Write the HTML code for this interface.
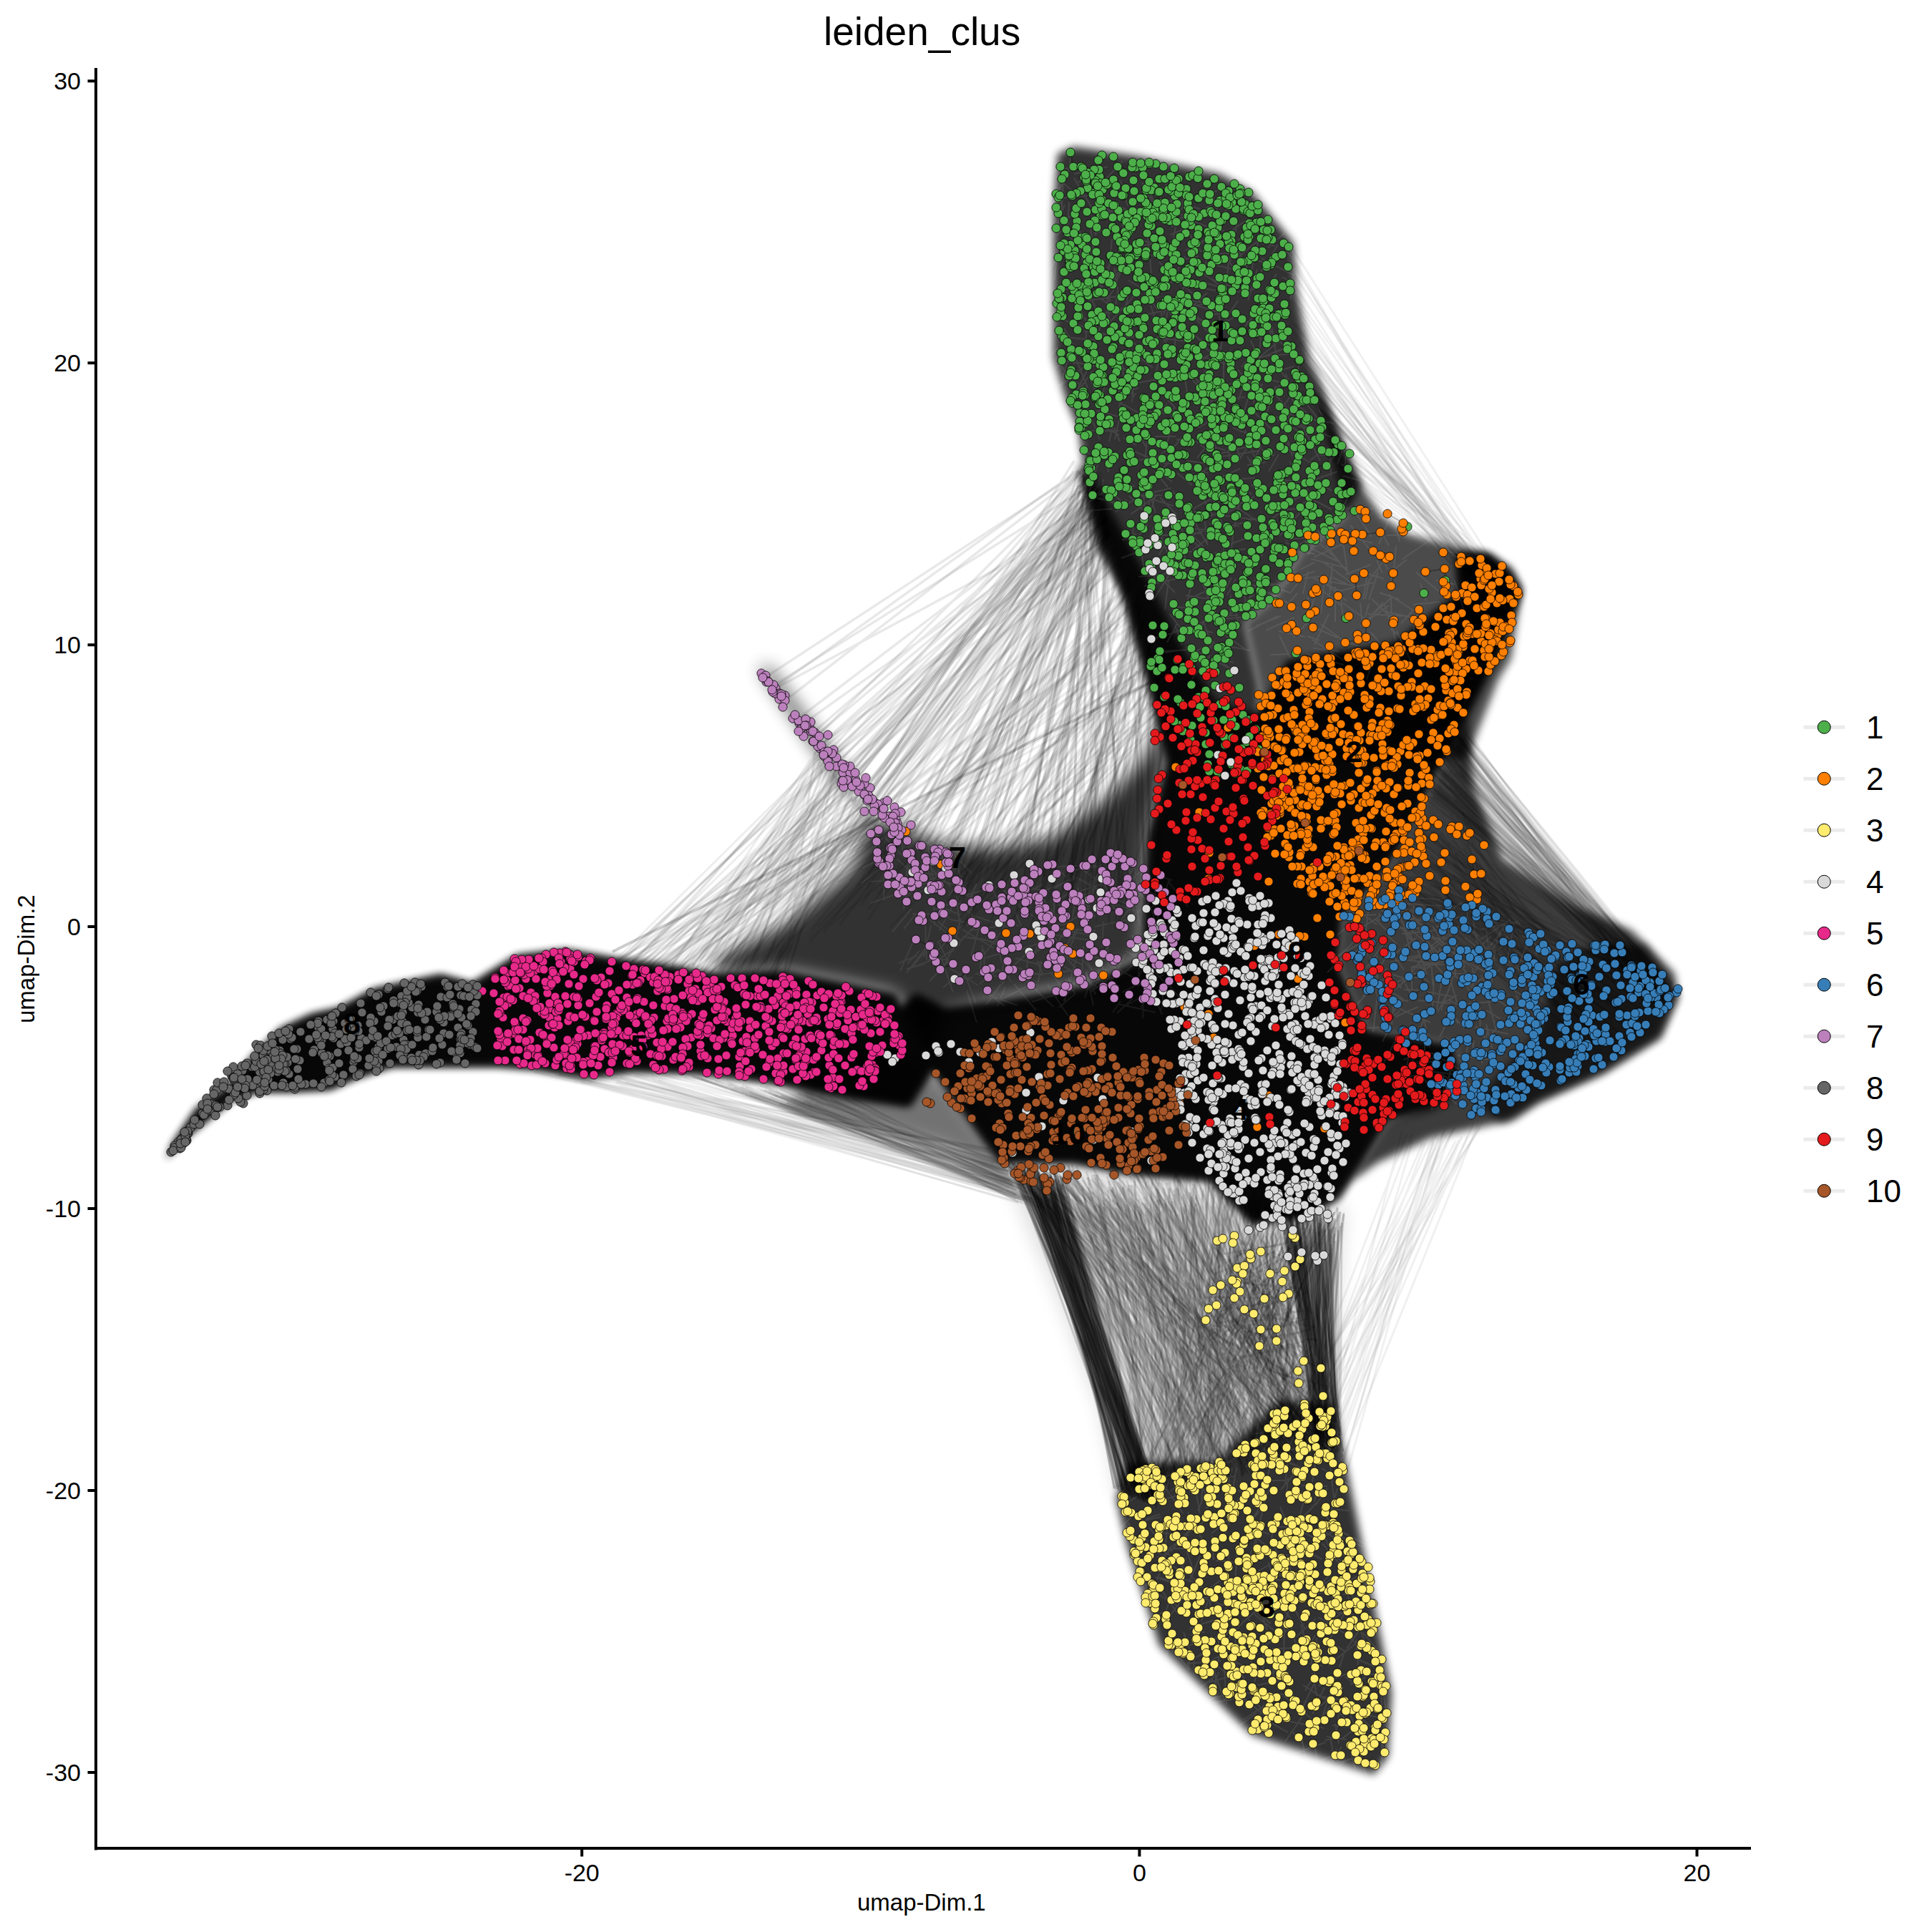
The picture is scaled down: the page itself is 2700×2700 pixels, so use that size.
<!DOCTYPE html><html><head><meta charset="utf-8"><style>html,body{margin:0;padding:0;background:#fff;width:2700px;height:2700px;overflow:hidden}</style></head><body><svg width="2700" height="2700" viewBox="0 0 2700 2700" style="position:absolute;left:0;top:0">
<defs>
<filter id="bl3" x="-10%" y="-10%" width="120%" height="120%"><feGaussianBlur stdDeviation="3"/></filter>
<filter id="bl6" x="-10%" y="-10%" width="120%" height="120%"><feGaussianBlur stdDeviation="6"/></filter>
<filter id="bl12" x="-10%" y="-10%" width="120%" height="120%"><feGaussianBlur stdDeviation="12"/></filter>
<marker id="m1" markerWidth="16" markerHeight="16" refX="8" refY="8" markerUnits="userSpaceOnUse" overflow="visible"><circle cx="8" cy="8" r="6.1" fill="#4DAF4A" stroke="#000" stroke-width="0.8"/></marker>
<marker id="m2" markerWidth="16" markerHeight="16" refX="8" refY="8" markerUnits="userSpaceOnUse" overflow="visible"><circle cx="8" cy="8" r="6.1" fill="#FF7F00" stroke="#000" stroke-width="0.8"/></marker>
<marker id="m3" markerWidth="16" markerHeight="16" refX="8" refY="8" markerUnits="userSpaceOnUse" overflow="visible"><circle cx="8" cy="8" r="6.1" fill="#FFEB6E" stroke="#000" stroke-width="0.8"/></marker>
<marker id="m4" markerWidth="16" markerHeight="16" refX="8" refY="8" markerUnits="userSpaceOnUse" overflow="visible"><circle cx="8" cy="8" r="6.1" fill="#D9D9D9" stroke="#000" stroke-width="0.8"/></marker>
<marker id="m5" markerWidth="16" markerHeight="16" refX="8" refY="8" markerUnits="userSpaceOnUse" overflow="visible"><circle cx="8" cy="8" r="6.1" fill="#E7298A" stroke="#000" stroke-width="0.8"/></marker>
<marker id="m6" markerWidth="16" markerHeight="16" refX="8" refY="8" markerUnits="userSpaceOnUse" overflow="visible"><circle cx="8" cy="8" r="6.1" fill="#377EB8" stroke="#000" stroke-width="0.8"/></marker>
<marker id="m7" markerWidth="16" markerHeight="16" refX="8" refY="8" markerUnits="userSpaceOnUse" overflow="visible"><circle cx="8" cy="8" r="6.1" fill="#BC80BD" stroke="#000" stroke-width="0.8"/></marker>
<marker id="m8" markerWidth="16" markerHeight="16" refX="8" refY="8" markerUnits="userSpaceOnUse" overflow="visible"><circle cx="8" cy="8" r="6.1" fill="#666666" stroke="#000" stroke-width="0.8"/></marker>
<marker id="m9" markerWidth="16" markerHeight="16" refX="8" refY="8" markerUnits="userSpaceOnUse" overflow="visible"><circle cx="8" cy="8" r="6.1" fill="#E41A1C" stroke="#000" stroke-width="0.8"/></marker>
<marker id="m10" markerWidth="16" markerHeight="16" refX="8" refY="8" markerUnits="userSpaceOnUse" overflow="visible"><circle cx="8" cy="8" r="6.1" fill="#A65628" stroke="#000" stroke-width="0.8"/></marker>
</defs>
<g opacity="0.76" filter="url(#bl6)">
<path d="M1875 1280 1920 1235 1960 1180 2000 1095 2050 1000 2060 1100 2100 1200 2200 1265 2280 1300 2340 1360 2345 1395 2320 1450 2240 1500 2150 1540 2115 1565 2000 1590 1925 1625 1890 1650 1900 1630 1940 1565 2050 1525 2030 1460 1910 1440 1870 1350Z" fill="#000"/>
</g>
<g opacity="0.55" filter="url(#bl12)">
<path d="M1150 1460 1270 1470 1330 1520 1390 1600 1420 1660 1330 1610 1200 1570 1100 1545Z" fill="#000"/>
</g>
<g opacity="0.7" filter="url(#bl6)">
<path d="M1830 504 1859 576 1884 638 1902 678 1931 721 1967 746 2033 764 2076 772 2112 793 2127 822 2120 866 2112 920 2094 950 2050 1060 1760 1060 1760 960 1740 870 1780 835 1820 770 1880 720Z" fill="#000"/>
</g>
<g opacity="0.12" filter="url(#bl12)">
<path d="M1398 1625 1500 1625 1575 1640 1690 1650 1750 1710 1825 1700 1870 1675 1880 1700 1862 1966 1860 1970 1562 2095 1537 1974 1478 1815Z" fill="#000"/>
</g>
<g opacity="0.8" filter="url(#bl6)">
<path d="M1478 215 1500 205 1590 218 1705 243 1750 268 1808 340 1812 402 1830 504 1859 576 1884 638 1902 678 1880 720 1820 770 1780 835 1740 870 1760 960 1760 1060 1640 960 1530 760 1507 600 1490 560 1472 500 1472 300Z" fill="#000"/>
<path d="M1560 2095 1575 2045 1700 2040 1790 1955 1865 1965 1900 2140 1945 2365 1940 2455 1920 2480 1750 2425 1620 2300 1575 2160Z" fill="#000"/>
<path d="M1507 650 1540 690 1600 800 1650 900 1700 980 1760 1000 1800 925 1950 900 2040 830 2035 775 2080 775 2110 800 2125 827 2090 920 2050 1000 2000 1095 1960 1180 1920 1235 1875 1280 1870 1350 1910 1440 2030 1460 2050 1525 2000 1550 1940 1565 1900 1630 1870 1675 1825 1700 1750 1710 1690 1650 1575 1640 1500 1625 1398 1625 1303 1494 1250 1420 1280 1390 1319 1410 1398 1399 1517 1379 1596 1340 1606 1169 1632 1066 1606 962 1570 833 1528 729Z" fill="#000"/>
<path d="M232 1620 243 1597 275 1550 318 1520 355 1475 393 1438 436 1418 473 1410 523 1383 573 1372 616 1363 660 1375 722 1336 790 1328 865 1341 933 1350 1001 1362 1094 1358 1194 1378 1250 1390 1303 1494 1271 1546 1194 1535 1132 1523 1070 1512 976 1500 883 1497 821 1506 747 1494 697 1490 622 1490 548 1490 498 1506 461 1522 405 1525 361 1525 324 1537 293 1562 262 1587Z" fill="#000"/>
</g>
<g opacity="0.8" filter="url(#bl12)">
<path d="M1062 934 1075 932 1163 1054 1218 1143 1326 1180 1399 1185 1471 1170 1543 1120 1598 1060 1634 980 1632 1066 1606 1169 1596 1340 1517 1379 1398 1399 1319 1419 1303 1494 1250 1390 1194 1378 1094 1358 1001 1362 1000 1340 1100 1290 1190 1215 1218 1143 1163 1080Z" fill="#000"/>
</g>
<g opacity="0.85" filter="url(#bl6)">
<path d="M1507 650 1540 690 1600 800 1650 900 1700 980 1760 1000 1800 925 1950 900 2040 830 2035 775 2080 775 2110 800 2125 827 2090 920 2050 1000 2000 1095 1960 1180 1920 1235 1875 1280 1870 1350 1910 1440 2030 1460 2050 1525 2000 1550 1940 1565 1900 1630 1870 1675 1825 1700 1750 1710 1690 1650 1575 1640 1500 1625 1398 1625 1303 1494 1250 1420 1280 1390 1319 1410 1398 1399 1517 1379 1596 1340 1606 1169 1632 1066 1606 962 1570 833 1528 729Z" fill="#000"/>
<path d="M232 1620 243 1597 275 1550 318 1520 355 1475 393 1438 436 1418 473 1410 523 1383 573 1372 616 1363 660 1375 722 1336 790 1328 865 1341 933 1350 1001 1362 1094 1358 1194 1378 1250 1390 1303 1494 1271 1546 1194 1535 1132 1523 1070 1512 976 1500 883 1497 821 1506 747 1494 697 1490 622 1490 548 1490 498 1506 461 1522 405 1525 361 1525 324 1537 293 1562 262 1587Z" fill="#000"/>
</g>
<g opacity="0.6" filter="url(#bl6)">
<path d="M2225 1320 2300 1320 2345 1390 2320 1450 2240 1500 2150 1540 2100 1570 2060 1540 2150 1440 2175 1350Z" fill="#000"/>
</g>
<path d="M1891 679l-12 26M1834 750l-38 5M1783 656l23 27M1569 551l-5 19M1812 541l-22 32M1782 551l31 37M1503 500l17 42M1622 529l-32 6M1738 447l25 17M1588 746l-20 9M1796 758l34 14M1634 626l-26 20M1735 531l15 20M1663 715l21 1M1812 675l-3 23M1522 526l21 48M1657 875l21 5M1625 473l36 4M1673 445l29 10M1752 578l-20 6M1573 427l-28 29M1556 540l-23 40M1542 670l-3 22M1608 665l-2 41M1533 440l-1 25M1508 317l5 29M1795 326l-23 20M1642 389l34 29M1548 233l-47 10M1518 462l-1 37M1695 696l-35 19M1723 598l44 17M1661 420l23 3M1729 311l-10 51M1663 305l-14 22M1631 258l17 22M1688 867l-49 16M1691 486l4 26M1727 809l-12 23M1567 573l-9 41M1870 721l-11 31M1631 565l-14 17M1825 614l-19 15M1623 750l12 32M1609 720l-19 32M1677 474l38 25M1767 303l-37 33M1717 366l-6 53M1699 918l27 22M1837 694l-18 11M1837 721l-17 50M1731 434l-38 6M1809 560l-13 38M1727 853l4 23M1699 839l-26 47M1667 908l-44 2M1557 374l6 36M1684 367l47 11M1519 569l18 45M1553 453l41 34M1527 519l-30 40M1720 831l-1 27M1874 648l35 28M1814 616l24 8M1689 780l18 7M1491 507l-8 33M1749 677l28 30M1488 286l-17 46M1570 612l18 10M1833 550l15 33M1629 256l11 30M1635 858l15 20M1582 426l-30 11M1524 317l4 32M1494 282l-2 43M1747 546l-8 28M1618 804l24 24M1639 431l-47 11M1507 338l9 41M1645 750l17 44M1748 476l16 35M1763 428l-30 37M1519 518l-16 32M1719 328l24 46M1818 689l43 23M1608 426l14 45M1745 818l44 0M1486 447l29 10M1727 666l-26 39M1755 531l-50 8M1723 894l-22 27M1799 486l-19 7M1545 291l31 17M1606 784l9 28M1600 255l16 34M1521 273l-48 5M1757 284l-30 3M1789 582l-27 8M1708 483l-30 21M1807 560l40 36M1515 463l49 6M1488 459l1 23M1578 693l26 26M1768 723l-24 4M1485 522l33 21M1584 537l-2 25M1632 754l25 44M1759 336l-30 24M1562 408l-3 18M1651 303l48 18M1503 295l-13 13M1537 601l-49 5M1633 397l-35 6M1517 511l-41 33M1681 867l16 41M1748 861l-44 5M1694 691l15 45M1758 339l-12 52M1643 610l-29 0M1621 453l12 19M1658 743l22 3M1537 602l27 0M1537 305l-6 24M1523 293l46 8M1615 691l-6 21M1752 811l50 17M1573 372l-28 25M1662 343l17 26M1757 403l-52 9M1787 635l-14 24M1666 771l-27 1M1789 341l20 6M1533 387l21 39M1599 408l18 24M1604 331l5 51M1696 918l28 8M1557 587l-7 30M1796 619l25 15M1763 452l-3 44M1580 584l21 40M1706 342l33 22M1632 754l-12 21M1719 489l8 37M1741 767l-43 6M1598 694l5 42M1535 692l-20 24M1629 279l19 12M1600 489l-37 21M1603 617l-3 29M1783 539l-14 42M1623 442l8 35M1652 421l50 15M1764 335l17 9M1573 526l12 29M1512 399l37 26M1490 314l-13 15M1632 435l-4 18M1643 579l-14 47M1620 366l20 23M1561 555l16 20M1769 646l-26 4M1740 555l-53 5M1754 812l35 6M1478 344l-4 47M1859 636l1 29M1786 342l-24 38M1559 559l32 18M1532 574l31 8M1801 529l-40 32M1723 680l11 24M1585 679l-33 11M1742 752l-27 10M1645 784l-19 3M1481 356l-28 40M1634 847l28 3M1734 707l-22 11M1659 270l-16 26M1633 755l5 26M1754 668l-46 3M1561 398l-13 19M1634 280l43 12M1753 694l-43 22M1622 275l3 27M1739 533l-8 26M1724 612l9 27M1743 589l-29 1M1643 316l-8 44M1761 437l20 11M1546 544l42 7M1730 420l-28 44M1580 376l23 21M1576 415l-9 45M1650 748l-32 0M1554 436l-25 2M1687 409l-34 32M1628 807l-20 10M1691 899l-26 15M1684 728l3 31M1741 524l12 40M1633 812l-5 40M1570 413l-50 7M1877 665l28 8M1653 505l6 45M1476 247l26 23M1771 530l31 7M1738 267l-28 31M1625 278l-1 21M1664 339l16 13M1613 341l-26 3M1643 877l9 24M1543 689l-52 5M1697 284l-25 15M1654 653l34 8M1602 673l13 44M1642 716l18 45M1534 390l7 19M1621 695l21 22M1746 533l19 5M1598 250l40 19M1518 392l-41 18M1729 529l15 12M1515 566l-5 20M1666 739l37 3M1587 608l39 10M1759 811l-14 26M1863 734l-41 1M1750 532l-41 16M1622 429l4 28M1566 252l10 36M1612 452l26 41M1547 288l-15 12M1816 503l-4 29M1494 469l7 40M1701 538l6 30M1596 255l27 42M1796 605l10 33M1624 692l-35 0M1696 272l-21 7M1837 586l28 6M1640 570l-7 38M1792 670l47 7M1869 659l-34 12M1701 267l-33 9M1739 822l3 45M1636 643l-14 16M1710 493l0 40M1702 552l-27 28M1691 916l-29 38M1772 733l-9 45M1556 463l47 9M1577 392l42 24M1613 283l16 25M1676 807l12 18M1781 636l-33 7M1649 397l50 9M1534 651l-20 33M1592 292l-52 3M1705 816l-42 21M1687 338l-1 27M1669 793l22 43M1576 335l-29 40M1847 681l-12 24M1663 521l28 29M1845 709l-23 34M1685 333l-13 15M1600 392l-27 36M1515 355l-42 3M1496 472l31 3M1656 358l-20 38M1709 354l30 41M1812 578l-11 25M1658 877l37 7M1792 387l29 18M1531 683l-38 35M1619 357l-41 2M1752 611l-22 35M1757 377l-13 43M1740 601l13 38M1721 904l26 5M1760 630l-53 8M1530 646l-27 25M1547 415l5 50M1666 530l21 24M1519 328l-25 42M1803 645l13 45M1658 722l11 30M1585 357l-29 24M1730 860l-26 1M1857 624l-26 19M1768 826l46 24M1723 748l-4 40M1710 759l1 37M1687 885l5 21M1658 644l52 7M1595 771l4 25M1478 486l-30 33M1732 265l47 20M1636 800l-25 40M1647 808l-48 11M1582 299l0 31M1808 494l-52 5M1753 831l-40 33M1589 691l51 16M1554 688l15 15M1477 501l22 36M1575 699l-21 5M1675 358l-23 5M1801 629l35 20M1511 581l7 22M1743 638l13 21M1617 647l46 2M1797 522l10 40M1524 415l17 38M1801 569l36 30M1770 800l-17 8M1720 453l-16 14M1700 924l19 11M1627 424l15 23M1665 722l23 40M1683 825l16 31M1621 660l17 13M1697 684l-15 14M1548 434l-20 46M1668 906l-40 6M1583 729l1 33M1614 538l29 33M1644 296l29 15M1733 655l-27 12M1511 324l15 28M1554 334l-5 48M1727 708l31 21M1721 364l-20 2M1767 452l31 36M1671 469l22 26M1614 659l18 22M1617 692l-37 27M1562 315l-33 11M1693 390l34 13M1797 593l29 15M1809 512l-25 7M1753 523l12 22M1643 428l-7 18M1479 502l53 10M1496 221l-4 24M1579 494l17 11M1669 802l-12 47M1626 414l1 26M1680 381l26 19M1690 732l42 3M1635 757l7 34M1564 289l7 38M1666 862l32 38M1634 638l-43 5M1547 637l2 23M1568 505l5 48M1578 462l-1 33M1677 621l23 17M1619 721l-18 46M1641 588l-21 6M1487 427l-38 27M1600 267l17 24M1565 545l-28 12M1682 336l-25 14M1785 511l21 31M1791 474l-32 26M1534 649l-12 39M1814 758l-7 18M1692 588l-18 10M1694 271l12 41M1754 777l-19 4M1699 743l-32 26M1554 711l-42 4M1591 542l-42 12M1548 684l-25 17M1553 498l22 21M1721 807l-14 28M1730 517l34 38M1733 677l16 14M1806 482l-47 19M1701 719l51 7M1657 904l29 12M1716 625l3 20M1553 552l-22 14M1645 661l21 17M1525 302l42 4M1599 768l-32 12M1556 463l-29 11M1555 334l19 1M1590 334l43 13M1673 442l23 27M1673 681l22 40M1763 628l18 8M1749 729l-25 4M1585 471l-41 3M1797 350l16 18M1865 635l-21 1M1621 496l-8 37M1746 305l-29 20M1763 361l46 24M1817 593l44 18M1827 683l3 25M1557 597l8 20M1680 566l24 41M1813 646l-16 12M1798 613l18 36M1770 437l6 33M1654 845l20 5M1751 672l16 19M1661 324l13 24M1735 688l-10 49M1709 714l-42 18M1510 433l18 35M1502 526l-44 24M1833 709l-44 4M1639 686l16 23M1531 696l37 8M1667 441l27 29M1646 572l-7 33M1818 738l-18 14M1506 232l-40 9M1607 253l27 2M1638 462l-48 22M1679 498l43 13M1486 251l-3 51M1638 851l25 16M1555 281l35 23M1734 438l-44 25M1644 450l-3 46M1807 770l31 4M1574 362l-18 41M1566 376l-25 43M1490 327l28 27M1660 604l-23 24M1630 802l-39 4M1589 496l22 18M1667 686l25 4M1697 499l-26 40M1653 321l-18 7M1785 587l49 14M1663 611l-19 4M1655 401l-10 15M1569 225l-30 32M1711 887l29 20M1731 356l-49 15M1637 682l-41 10M1724 354l-35 1M1753 361l22 11M1666 292l-29 25M1655 747l24 19M1870 628l-16 25M1657 832l39 6M1545 533l-9 42M1532 695l36 12M1784 383l-12 21M1702 420l-30 7M1751 842l-16 22M1708 476l-6 32M1604 575l34 4M1748 623l-47 12M1539 272l15 32M1704 421l1 51M1746 465l52 11M1487 459l13 22M1696 737l-37 13M1562 329l12 14M1839 671l22 15M1691 598l13 46M1487 251l-20 41M1829 688l-29 15M1821 597l24 47M1673 392l45 13M1697 649l-30 18M1532 591l32 17M1686 322l25 0M1540 225l-33 30M1777 455l7 44M1645 871l-14 27M1751 494l-16 19M1521 578l-13 15M1535 640l-19 36M1803 706l-32 24M1763 623l-14 25M1501 249l28 46M1507 494l-32 20M1659 879l-49 14M1881 630l-1 21M1749 572l30 30M1646 727l36 37M1671 617l41 12M1820 713l-32 36M1586 631l22 10M1840 708l-21 42M1531 336l-16 48M1658 279l-10 19M1705 600l-32 40M1587 697l-29 19M1877 625l-8 24M1819 555l28 37M1807 382l-3 36M1687 674l12 33" stroke="#fff" stroke-opacity="0.09" stroke-width="2" fill="none"/>
<path d="M1750 2356l7 26M1737 2267l-25 28M1722 2275l-35 24M1830 2309l10 41M1702 2181l23 3M1606 2135l26 30M1780 2210l16 14M1800 2065l-2 23M1794 2370l39 32M1663 2226l47 18M1665 2281l19 0M1766 2383l-18 48M1854 2427l28 4M1712 2315l33 17M1597 2196l10 49M1753 2208l48 0M1581 2120l-20 20M1868 2444l-23 39M1742 2080l-20 28M1919 2319l19 17M1920 2422l-23 14M1743 2243l33 26M1844 2131l13 30M1803 2316l-14 46M1781 2161l17 39M1684 2088l-10 23M1796 2326l-32 21M1709 2298l-42 20M1767 2024l-4 22M1869 2080l-8 28M1588 2170l-7 37M1753 2418l-29 2M1789 2106l7 17M1637 2232l-10 25M1848 2016l19 16M1838 2285l-13 24M1730 2366l37 31M1695 2264l-33 12M1781 2125l-4 26M1677 2310l38 29M1648 2185l32 34M1747 2321l21 20M1731 2293l-3 29M1856 1987l25 6M1869 2429l-18 3M1862 2298l19 10M1836 2354l-20 42M1895 2318l26 11M1678 2269l-13 17M1624 2142l21 3M1875 2441l-18 30M1723 2318l16 29M1932 2446l-7 51M1681 2232l-11 20M1726 2274l1 34M1768 2197l-26 31M1759 2127l-4 29M1645 2055l-38 21M1662 2302l-1 32M1753 2256l39 32M1696 2324l5 41M1654 2281l14 40M1905 2282l32 38M1841 2134l35 22M1743 2132l17 32M1711 2362l41 5M1906 2432l-13 25M1900 2449l10 35M1660 2113l23 44M1910 2263l-51 8M1904 2196l-26 33M1848 2157l30 36M1931 2384l-22 13M1706 2321l-47 4M1728 2062l-42 12M1587 2165l52 2M1775 2186l-25 15M1621 2116l-20 7M1599 2158l29 18M1817 1989l-20 42M1841 2014l-39 13M1582 2136l-9 17M1816 2303l-38 1M1878 2256l-21 37M1803 2201l-27 1M1666 2163l-37 2M1898 2294l-42 34M1820 2035l-42 14M1834 2338l8 39M1805 2135l-17 15M1799 2043l-3 32M1728 2365l-37 9M1722 2043l-20 2M1655 2087l-26 8M1866 2409l5 28M1857 2170l30 4M1839 2262l-27 25M1910 2190l34 5M1878 2312l-6 18M1730 2083l32 12M1819 2427l8 44M1839 2289l6 21M1577 2128l19 39M1859 2429l6 30M1861 2199l-36 34M1617 2204l38 10M1725 2236l-25 9M1757 2333l-4 18M1716 2308l-26 14M1765 2288l0 50M1903 2408l-29 23M1881 2251l-40 25M1823 2225l-23 3M1909 2344l-22 10M1779 2331l19 16M1852 2435l-49 18M1617 2175l42 26M1764 2366l23 1M1779 2323l1 25M1677 2175l-15 36M1755 2252l-19 16M1620 2229l35 21M1895 2291l3 36M1716 2258l-21 40M1664 2061l-31 25M1880 2343l34 26M1695 2287l-37 14M1594 2212l22 36M1865 2145l7 30M1878 2358l-34 27M1902 2454l-33 10M1730 2340l-41 11M1664 2294l50 5M1595 2117l11 50M1802 2265l12 45M1705 2209l-15 11M1802 2173l-8 20M1861 2361l-15 43M1756 2394l-27 20M1816 2294l-15 10M1720 2181l-21 0M1719 2348l30 42M1840 2100l-28 30M1731 2264l-26 31M1879 2284l18 14M1663 2221l-29 38M1729 2230l22 45M1616 2212l30 43M1787 2197l23 32M1688 2238l-9 28M1933 2361l5 43M1722 2051l-9 40M1880 2218l6 19M1852 2210l-45 27M1720 2121l-27 22M1683 2126l-34 24M1826 2082l-13 50M1768 1996l-11 17M1788 2011l-29 9M1635 2302l28 31M1615 2204l34 12M1610 2261l-35 23M1911 2226l-17 6M1772 2018l-31 32M1651 2206l18 5M1651 2123l-16 11M1634 2295l-10 52M1865 2202l-35 31M1815 1960l-19 36M1931 2422l1 47M1807 2421l15 18M1798 2172l7 28M1813 2055l-23 27M1625 2253l-24 15M1759 2221l6 21M1851 2358l-17 37M1613 2218l-16 22M1788 1993l-8 29M1627 2181l-10 27M1864 2378l-20 27M1864 2025l-48 5M1855 2080l-16 23M1668 2131l-31 36M1682 2063l-3 33M1669 2059l17 30M1654 2069l-12 32M1929 2338l-24 4M1752 2021l-35 22M1703 2337l-11 29M1819 2076l36 1M1623 2070l30 45M1803 2406l47 9M1729 2164l-3 51M1862 2164l-7 22M1820 2399l-24 35M1858 2040l6 53M1871 2388l-2 43M1854 2225l-20 3M1715 2260l-42 11M1748 2082l18 24M1776 2394l-18 12M1696 2344l-36 29M1811 2129l37 13M1854 2125l-11 31M1801 2154l46 25M1869 2145l36 17M1930 2355l1 29M1768 2096l-8 34M1801 2252l-14 32M1784 1999l-33 5M1605 2208l-6 20M1889 2389l37 34M1842 2260l38 23M1767 2367l42 2M1840 2249l52 8M1899 2395l33 6M1897 2263l39 8M1761 2248l14 43M1725 2107l-15 43M1658 2177l-16 37M1668 2313l1 25M1754 2155l-15 40M1836 2342l-12 21M1823 1978l-19 24M1853 2117l15 30M1806 2133l34 18M1782 2024l-14 51M1864 2218l-4 28M1796 2069l-27 0M1722 2375l-29 5M1755 2149l25 19M1662 2144l-33 23M1769 2386l5 20M1696 2334l16 44M1887 2396l11 28M1711 2221l-30 14M1862 2411l29 3M1847 2052l46 27M1837 2437l8 49M1900 2275l13 34M1848 2371l44 8M1896 2203l-40 23M1911 2262l-29 42M1777 2229l-44 20M1728 2051l-8 47M1867 2209l28 26M1866 2139l-17 9M1718 2170l-6 50M1652 2149l16 46M1882 2339l-40 17M1883 2459l-20 17M1611 2156l26 19M1754 2380l34 25M1773 2183l6 25M1830 2325l18 3M1726 2245l-20 44M1803 2236l21 41M1775 2080l-26 46M1860 2109l25 2M1622 2120l-22 5M1816 1970l-6 48M1631 2136l-4 43M1821 2355l41 26M1669 2073l8 42M1749 2135l-14 29M1716 2057l-31 3M1764 2401l36 20M1634 2168l-33 37M1866 2451l-32 16M1903 2209l37 17M1766 2220l29 9M1694 2146l2 34M1876 2141l37 20M1861 2382l22 24M1797 2042l36 16M1843 2072l-6 27M1838 2046l-4 25M1691 2218l0 34M1872 2016l-16 22M1711 2331l3 51M1818 2270l11 39M1760 2112l-12 14M1882 2386l-26 11M1677 2215l-8 23M1802 2276l-37 26M1773 2224l31 38M1768 2383l-30 20M1795 2271l-1 44M1769 2302l-3 25M1714 2246l-12 52M1704 2315l-11 35M1825 2133l-41 1M1595 2087l-37 26M1813 2084l22 9M1637 2063l-17 39M1702 2095l-17 13M1885 2437l9 36M1860 2171l27 20M1748 2135l26 9M1793 2348l-36 7" stroke="#fff" stroke-opacity="0.09" stroke-width="2" fill="none"/>
<path d="M1936 1383l25 13M1991 1458l0 20M1925 1390l-6 52M2004 1365l-2 45M1973 1350l0 34M1912 1379l-9 18M2052 1459l-5 21M2047 1311l43 32M1980 1310l-37 28M1916 1366l8 23M1901 1372l-20 6M2077 1388l14 51M1948 1400l-3 32M2027 1360l34 2M1957 1441l-23 44M2109 1339l20 4M1983 1335l-40 10M2044 1279l-37 17M1984 1482l0 23M1974 1364l-42 31M2005 1524l-4 27M1977 1250l-2 27M2042 1340l-53 8M1972 1360l-13 14M2022 1489l33 28M1988 1343l6 19M2015 1369l-7 42M1992 1297l-42 0M2106 1289l-26 39M2046 1360l3 18M1961 1397l-25 30M1912 1362l17 29M2002 1294l23 39M1996 1509l40 34M1975 1442l17 9M1992 1312l21 24M2050 1273l2 19M1982 1407l-32 14M1983 1347l11 15M2072 1437l6 37M1930 1273l47 1M2055 1455l17 31M1982 1497l31 42M2015 1483l-18 17M1968 1438l-10 33M2145 1306l2 28M1943 1330l19 25M1970 1270l43 20M1988 1414l10 50M1933 1373l-3 21M1900 1318l12 18M1880 1335l-25 24M1935 1278l40 8M2096 1355l-46 24M1939 1435l-33 2M1962 1383l24 1M1938 1313l-30 41M2068 1407l1 41M1898 1310l-34 34M1958 1277l30 16M2028 1347l-53 3M2077 1392l18 8M2021 1324l40 31M1910 1320l-32 20M2111 1285l-42 28M1993 1332l-27 36M2096 1399l-47 4M1964 1375l12 23M1986 1309l32 3M1923 1278l-21 2M1992 1303l43 24M2029 1490l-8 37M2066 1350l-11 19M1925 1336l-14 39M1939 1306l13 14M2026 1381l-17 34M2077 1412l20 12M2099 1345l34 14M2049 1292l33 40M1938 1354l-36 17M2020 1415l18 15M2095 1286l30 5M2094 1333l41 26M2077 1299l5 42M2090 1327l-10 48M1979 1254l-21 3M1979 1360l19 13M2126 1307l32 19M2039 1294l-40 29M2021 1350l34 35M2118 1391l25 34M2016 1480l32 20M2021 1326l-52 16M2005 1482l-38 13M1980 1484l37 34M1950 1407l49 22M1933 1278l-43 26M2032 1476l-11 42M2015 1501l30 23M1927 1364l-33 8M2107 1308l-10 17M2000 1350l-47 22M1991 1422l-7 17M1986 1496l53 6M1912 1274l-4 34M2111 1380l26 18M2017 1502l2 50M2064 1305l3 30M2079 1441l-9 40M1902 1275l22 17M1920 1355l25 9M1904 1317l-45 24M2043 1262l-25 13M1963 1341l50 7M1943 1433l-11 23M1969 1302l19 41M2033 1301l-41 34M1949 1317l-25 42M1966 1263l48 3M2134 1320l-14 34M1993 1285l50 12M2058 1353l2 47M1925 1390l43 9M1964 1293l26 22M2085 1348l0 31M2116 1290l-9 50M2095 1315l-16 17M1987 1504l-38 15M2121 1288l-52 11M1954 1276l17 37M2077 1431l10 42M1929 1369l-34 36M2096 1337l43 23M1937 1272l33 38M1961 1267l31 31M2002 1482l-4 25M1991 1275l-19 30M2060 1454l-4 25M1982 1298l24 36M2031 1364l-17 48M2041 1335l6 17M2098 1305l-21 21M2069 1362l12 21M1940 1285l-18 1M2021 1473l-33 10M2025 1398l19 9M1919 1255l33 10M1946 1278l50 10M1915 1337l-2 41M2021 1408l25 29M2015 1504l-13 15M1996 1338l31 33M1968 1311l36 14M1891 1292l31 18M2034 1406l-22 43M1986 1472l-25 9M1982 1398l45 4M1924 1287l17 16M2000 1309l16 13M2011 1324l9 20M1989 1501l-51 9M1989 1385l42 8M2061 1435l47 10M2009 1520l21 17M2095 1430l-23 34M1939 1362l20 19M2093 1312l-15 41M2036 1391l-20 11M2027 1482l-3 43M1977 1470l-10 42M1926 1277l27 18M2037 1475l52 7M2059 1285l4 32M1926 1356l40 12M1978 1469l29 4M2092 1396l40 32M2028 1373l8 28M2007 1300l-48 5M1970 1471l-4 18M1956 1413l-25 19M2048 1343l34 19M2039 1343l20 34M1983 1440l-18 8M2075 1316l-32 32M1974 1352l19 1M1941 1365l-19 10M2084 1308l-17 18M1962 1293l8 33M2016 1284l23 44M1962 1366l26 0M2001 1521l23 20M2048 1375l18 10M1965 1254l48 3M1924 1362l6 39M1893 1286l-24 21M2008 1524l53 6M2001 1351l1 26M1960 1254l-35 4M2034 1270l-26 4M2033 1327l1 39" stroke="#fff" stroke-opacity="0.09" stroke-width="2" fill="none"/>
<path d="M1495 1249l36 33M1293 1293l2 49M1359 1250l-2 43M1405 1379l-11 27M1586 1211l-18 26M1403 1356l-40 5M1608 1321l37 6M1306 1270l25 3M1339 1214l10 34M1507 1240l-9 44M1476 1307l48 7M1299 1285l23 18M1398 1304l-22 29M1275 1277l48 1M1295 1242l-21 12M1502 1228l-43 17M1548 1324l1 25M1351 1384l14 45M1504 1356l-26 2M1411 1260l-9 39M1481 1329l24 26M1585 1347l-22 19M1301 1192l-20 25M1530 1205l-12 15M1527 1248l-24 4M1579 1236l19 8M1573 1329l39 22M1254 1201l17 15M1365 1281l23 8M1277 1314l-19 43M1402 1243l24 24M1549 1255l13 22M1499 1224l34 17M1502 1389l-22 19M1609 1259l-25 20M1541 1210l-42 6M1233 1212l-29 22M1462 1302l-8 23M1417 1375l31 37M1386 1267l38 28M1504 1301l-30 44M1433 1334l-19 18M1252 1190l-47 23M1391 1302l9 44M1573 1333l-21 41M1492 1358l-48 4M1222 1154l-51 13M1518 1357l10 48M1455 1253l19 25M1349 1251l29 10M1532 1210l-54 1M1279 1154l35 31M1308 1179l28 4M1599 1344l35 35M1469 1304l24 32M1462 1290l34 3M1538 1226l26 47M1277 1189l-12 44M1387 1241l20 50M1252 1234l31 13M1578 1200l10 17M1401 1317l9 27M1509 1324l23 42M1506 1227l39 23M1598 1402l-1 21M1455 1343l-4 30M1345 1353l19 49M1403 1341l-4 31M1542 1288l-1 23M1254 1249l-37 13M1598 1239l7 22M1582 1284l-52 11M1467 1296l46 9M1561 1257l23 11M1540 1207l-18 43M1420 1325l-43 14M1298 1185l7 53M1422 1266l23 15M1525 1219l-1 23M1582 1396l-21 20M1373 1321l-4 43M1432 1367l18 10M1563 1403l52 12M1487 1351l19 10M1421 1236l42 10M1404 1370l-26 34M1474 1209l16 17M1292 1175l29 21M1598 1241l20 12M1334 1261l-21 39M1337 1257l-16 26M1303 1216l15 11M1522 1372l21 14M1592 1350l-2 26M1351 1354l-33 26M1589 1376l-21 11M1342 1284l-10 46M1617 1401l7 17M1235 1221l0 37M1632 1231l28 36M1396 1354l-27 21M1522 1318l21 18M1516 1252l5 22M1316 1340l16 47M1400 1237l-51 14M1271 1231l19 9M1295 1327l-21 25M1326 1312l-29 31M1303 1227l32 10M1281 1276l-18 22M1388 1364l23 1M1327 1353l40 24M1604 1212l13 45M1270 1198l-5 37M1523 1271l-34 20M1581 1307l22 23M1345 1299l44 26M1492 1385l-50 15M1229 1154l-7 40M1471 1327l41 21M1541 1235l-40 13M1375 1326l1 41M1554 1350l32 17M1472 1250l12 20M1458 1236l-38 17M1347 1293l-37 24M1503 1243l-23 14M1360 1366l-33 4M1276 1244l-13 13M1608 1254l53 2M1608 1267l11 34M1449 1344l24 7M1602 1326l6 34M1585 1240l16 17M1258 1230l-42 2M1303 1169l20 19M1422 1236l7 47M1458 1316l-31 11M1514 1322l-2 43M1337 1252l4 41M1548 1260l45 15M1635 1228l-12 31M1531 1259l9 23M1460 1281l-13 52M1458 1325l-25 11M1310 1172l46 18M1356 1270l-4 24M1342 1319l-37 27M1336 1317l-17 33M1281 1336l-25 10M1512 1341l32 33M1298 1161l14 31M1376 1384l28 22M1312 1317l14 29M1596 1356l-14 25M1483 1261l48 6M1576 1200l7 47M1371 1287l-14 49M1523 1373l-7 22M1373 1312l38 15M1437 1330l-2 24M1509 1361l-23 38M1587 1218l2 30M1607 1371l-13 40M1597 1392l-21 12M1403 1357l10 15M1506 1211l35 24M1361 1296l-36 37M1285 1329l-17 18M1382 1391l40 14M1601 1211l-30 28M1522 1336l39 9M1630 1377l9 33M1536 1262l-2 19M1246 1237l18 17M1305 1262l1 31M1521 1369l10 21M1320 1189l-14 45M1617 1223l21 7M1350 1310l47 7M1302 1342l-25 9M1279 1218l41 6M1419 1339l36 10M1507 1297l-14 32M1293 1325l-26 35M1504 1340l-12 42M1528 1240l-9 49M1326 1343l-27 28M1626 1384l-3 27M1473 1254l0 37M1267 1232l-4 39M1455 1265l33 26M1566 1399l-11 16M1292 1347l-25 7M1399 1294l-44 6M1489 1369l14 20M1627 1256l-28 19M1586 1257l7 37M1298 1211l31 28M1477 1298l54 3M1450 1345l8 18M1546 1354l-21 32M1544 1358l18 23M1337 1237l-11 15M1610 1326l3 31M1419 1275l8 19M1466 1307l5 35M1501 1225l-28 17M1536 1361l28 17M1398 1376l-13 19M1414 1350l42 13M1301 1293l-10 45M1441 1377l31 30M1633 1376l25 29M1293 1200l9 34M1237 1171l28 29M1299 1234l-28 2M1393 1238l-22 2M1228 1173l2 29M1326 1341l-28 0M1327 1189l31 31M1318 1220l-45 26M1274 1270l-27 32M1595 1247l-29 40M1343 1265l28 26M1311 1288l33 27M1578 1355l-42 20M1613 1260l10 42M1315 1268l13 17M1328 1285l41 8M1365 1235l-11 24M1392 1284l16 13M1552 1366l-23 17M1627 1362l-38 16M1313 1266l29 13M1284 1153l46 27M1539 1343l9 36M1345 1263l-29 2M1434 1368l9 18M1464 1376l29 44M1467 1358l25 30M1436 1378l-43 22M1490 1296l-20 38M1494 1366l-6 34M1553 1318l-15 16M1346 1309l31 4M1300 1164l25 13M1260 1172l2 22M1500 1302l38 8M1634 1265l-2 37" stroke="#fff" stroke-opacity="0.07" stroke-width="2" fill="none"/>
<path d="M1855 805l-33 3M1834 807l39 19M1943 879l34 26M1921 765l19 31M1832 916l26 28M1919 814l-47 12M1916 789l-36 14M1851 810l-5 47M1951 763l-3 31M1924 783l8 18M1802 914l-27 1M2033 811l13 43M1846 761l22 20M1862 807l20 9M1862 799l-7 21M2012 841l-37 4M1936 855l47 10M1828 798l-7 32M1850 786l42 31M1986 855l-17 14M1874 897l25 5M1828 834l0 33M1817 805l-20 11M1809 863l-40 18M1834 894l44 29M1913 812l-5 25M1862 790l-4 41M1913 844l-5 18M1987 747l-49 1M1917 837l29 28M1944 866l6 29M1910 807l-5 31M1879 710l39 1M1924 904l-14 46M1919 903l37 12M1888 707l29 43M1901 843l3 31M1873 826l4 38M1934 784l-23 30M1813 829l-15 18M1826 914l20 5M1952 736l4 21M1842 820l32 26M1832 781l51 13M1846 872l36 27M1785 861l-41 21M1827 889l17 6M2015 767l27 7M1866 820l0 49M2015 761l32 28M1835 906l36 4M1998 755l-39 27M1944 837l1 38M1916 884l33 38M1835 876l34 15M1928 738l13 25M1838 798l-34 13M1877 843l34 24M1976 872l-1 29M1816 812l-14 18M1977 851l-19 20M1881 758l-45 21M2021 769l49 12M1985 815l8 25M1833 917l45 12M1926 799l-13 39M1844 810l49 9M1847 811l35 29M1825 763l46 22M2007 811l28 6M1857 858l-20 43M1840 757l-12 19M1935 845l11 36M1842 817l-10 35M1983 750l22 6M1941 831l34 22M1871 747l47 12M1979 800l34 28M1927 723l46 7M1790 861l-35 14M1933 842l-23 26M1848 755l-37 6M1928 828l27 10M1853 762l33 41M1876 753l7 45M1911 858l48 3M1966 782l-22 17M1787 882l37 8M1943 721l-16 39M1842 855l-34 35M1788 888l15 31M1837 786l-20 10M1946 834l-28 25M1895 796l39 13M2022 833l43 6M1789 822l-10 17M1941 846l-40 29M1946 800l-3 21M1952 882l23 49M1887 734l33 41" stroke="#fff" stroke-opacity="0.08" stroke-width="2" fill="none"/>
<path d="M1507 665l-371 370M1528 684l-347 418M1527 676l-449 284M1513 702l-401 305M1532 699l-320 431M1552 747l-407 296M1542 707l-391 356M1543 681l-341 432M1520 685l-320 447" stroke="#000" stroke-opacity="0.09" stroke-width="3.5" fill="none"/>
<path d="M1516 699l-253 454M1530 664l-349 442M1511 676l-363 385M1528 722l-446 241M1516 672l-339 415M1549 752l-376 347M1520 664l-334 439M1510 661l-414 319M1500 658l-294 461" stroke="#000" stroke-opacity="0.09" stroke-width="3.5" fill="none"/>
<path d="M1514 652l-356 415M1530 721l-411 293M1539 689l-394 353M1527 717l-323 403M1530 683l-402 348M1542 729l-351 391M1515 651l-340 450M1524 740l-331 390M1540 680l-385 382" stroke="#000" stroke-opacity="0.09" stroke-width="3.5" fill="none"/>
<path d="M1527 740l-326 400M1528 676l-331 458M1512 706l-331 402M1531 718l-375 348M1522 691l-346 405M1544 722l-312 417M1543 680l-337 455M1547 738l-322 393M1522 664l-285 484" stroke="#000" stroke-opacity="0.09" stroke-width="3.5" fill="none"/>
<path d="M1532 711l-359 366M1528 681l-355 405M1526 658l-336 441M1535 693l-345 429M1519 709l-347 389M1520 652l-451 295M1522 684l-343 406M1521 724l-376 320" stroke="#000" stroke-opacity="0.09" stroke-width="3.5" fill="none"/>
<path d="M1527 701l-308 433M1541 677l-381 401M1507 657l-427 306M1534 740l-354 357M1556 755l-391 330M1549 724l-399 322M1520 694l-300 431M1501 644l-290 470" stroke="#000" stroke-opacity="0.09" stroke-width="3.5" fill="none"/>
<path d="M1511 686l-326 410M1531 728l-366 342M1537 698l-367 393M1510 660l-315 467M1513 662l-302 456M1552 745l-389 314M1537 694l-400 337M1537 681l-358 419" stroke="#000" stroke-opacity="0.09" stroke-width="3.5" fill="none"/>
<path d="M1533 723l-217 509M1542 673l-126 549M1519 680l-6 608M1545 695l-180 539M1534 660l-83 619M1534 742l-165 476M1546 752l-158 513M1546 692l-112 580M1545 721l-21 548" stroke="#000" stroke-opacity="0.09" stroke-width="3.5" fill="none"/>
<path d="M1519 702l-197 487M1538 660l-83 591M1521 677l-147 560M1551 744l-277 447M1545 744l-73 493M1520 672l31 602M1513 705l29 537M1534 745l-204 421M1510 670l-209 521" stroke="#000" stroke-opacity="0.09" stroke-width="3.5" fill="none"/>
<path d="M1509 686l-171 487M1550 715l-215 543M1534 671l-261 489M1528 673l-250 492M1544 749l-123 520M1554 736l-267 431M1547 745l-262 474M1515 665l68 621M1537 698l-245 462" stroke="#000" stroke-opacity="0.09" stroke-width="3.5" fill="none"/>
<path d="M1506 658l-149 584M1525 724l-204 486M1526 688l-52 536M1555 740l-216 509M1545 721l-69 477M1521 680l-217 567M1548 739l-21 491M1548 734l-245 509M1514 664l-17 620" stroke="#000" stroke-opacity="0.09" stroke-width="3.5" fill="none"/>
<path d="M1544 712l-250 456M1533 669l-262 491M1539 670l28 598M1548 725l-30 535M1533 669l-239 502M1514 650l22 604M1539 721l-241 452M1510 677l-80 559M1546 712l-203 499" stroke="#000" stroke-opacity="0.09" stroke-width="3.5" fill="none"/>
<path d="M1523 696l-177 565M1550 733l-182 481M1522 709l-204 501M1515 697l-186 563M1534 666l-103 523M1519 717l-154 503M1516 663l-165 575M1532 686l-29 542M1507 678l-177 562" stroke="#000" stroke-opacity="0.09" stroke-width="3.5" fill="none"/>
<path d="M1548 749l-152 501M1534 722l-73 507M1544 701l-154 521M1544 686l21 605M1541 702l9 591M1550 755l-54 496M1523 692l-130 490M1513 697l-77 493" stroke="#000" stroke-opacity="0.09" stroke-width="3.5" fill="none"/>
<path d="M1515 657l-18 606M1535 721l-76 503M1515 715l-74 495M1522 677l-50 580M1522 737l-235 455M1524 699l1 582M1537 748l-228 455M1530 675l-102 538" stroke="#000" stroke-opacity="0.09" stroke-width="3.5" fill="none"/>
<path d="M1607 965l-6 271M1621 913l-271 327M1597 843l-158 455M1619 933l-22 359M1616 928l-112 306M1584 843l-93 413M1578 804l-121 492M1613 899l-283 280" stroke="#000" stroke-opacity="0.09" stroke-width="3.5" fill="none"/>
<path d="M1606 1000l-264 250M1596 844l-121 433M1588 846l-82 383M1633 996l-285 295M1573 812l-218 470M1601 938l-163 341M1608 902l-3 370M1594 847l-7 438" stroke="#000" stroke-opacity="0.09" stroke-width="3.5" fill="none"/>
<path d="M1590 938l11 317M1566 786l-149 500M1606 867l-173 366M1634 989l-267 272M1619 951l-290 301M1620 991l-250 253M1565 776l-80 421M1582 880l-258 380" stroke="#000" stroke-opacity="0.09" stroke-width="3.5" fill="none"/>
<path d="M1638 997l-73 298M1582 875l-88 361M1600 901l-114 343M1605 982l-195 310M1603 911l-269 298M1635 979l-283 253M1580 875l-191 339M1615 940l-126 322" stroke="#000" stroke-opacity="0.09" stroke-width="3.5" fill="none"/>
<path d="M1592 825l-101 453M1595 829l-107 402M1592 858l-247 438M1603 953l-52 305M1575 835l-25 377M1597 825l-103 396M1611 955l-228 281M1576 838l-44 450" stroke="#000" stroke-opacity="0.09" stroke-width="3.5" fill="none"/>
<path d="M1621 983l-292 249M1588 893l-47 329M1584 868l9 378M1590 890l-59 334M1579 812l-64 470M1611 913l-267 318M1608 901l-148 339M1610 915l-268 367" stroke="#000" stroke-opacity="0.09" stroke-width="3.5" fill="none"/>
<path d="M1612 886l-83 369M1576 848l28 444M1626 960l-10 277M1599 931l-292 252M1623 977l-138 270M1577 810l-166 389M1624 938l-121 265M1584 811l-232 428" stroke="#000" stroke-opacity="0.09" stroke-width="3.5" fill="none"/>
<path d="M1587 842l-96 402M1629 965l-287 255M1598 862l-64 343M1575 822l-176 412M1570 790l-189 507M1590 824l9 399M1603 961l4 284M1603 850l-112 371" stroke="#000" stroke-opacity="0.09" stroke-width="3.5" fill="none"/>
<path d="M1594 868l-96 383M1577 847l-243 393M1580 801l-250 382M1600 959l-141 267M1586 859l-27 439M1598 869l-132 325M1575 848l-7 425M1611 872l-70 404" stroke="#000" stroke-opacity="0.09" stroke-width="3.5" fill="none"/>
<path d="M1590 807l-266 368M1599 938l-34 309M1612 928l-85 313M1600 932l-256 364M1588 922l-140 377M1601 867l-239 408M1615 980l-277 280M1627 976l-23 285" stroke="#000" stroke-opacity="0.09" stroke-width="3.5" fill="none"/>
<path d="M1535 782l-322 504M1572 880l-359 341M1564 872l-336 377M1590 938l-346 358M1560 869l-559 447M1528 724l-324 541M1596 902l-538 379M1527 715l-386 534M1582 874l-488 368" stroke="#000" stroke-opacity="0.07" stroke-width="3.5" fill="none"/>
<path d="M1528 707l-363 501M1508 686l-399 603M1517 718l-306 525M1575 853l-517 475M1586 949l-433 349M1580 850l-521 414M1591 891l-481 368M1557 768l-406 535M1575 832l-385 422" stroke="#000" stroke-opacity="0.07" stroke-width="3.5" fill="none"/>
<path d="M1569 808l-551 505M1551 798l-583 551M1516 680l-375 578M1538 765l-338 412M1530 720l-334 471M1576 867l-373 348M1565 877l-465 408M1558 833l-371 398" stroke="#000" stroke-opacity="0.07" stroke-width="3.5" fill="none"/>
<path d="M1537 774l-467 491M1530 743l-387 474M1566 863l-434 452M1609 953l-403 230M1561 787l-394 399M1549 784l-415 515M1522 702l-424 538M1574 820l-377 418" stroke="#000" stroke-opacity="0.07" stroke-width="3.5" fill="none"/>
<path d="M1553 783l-339 488M1561 767l-450 488M1546 783l-468 535M1521 734l-364 465M1594 915l-467 327M1604 956l-433 277M1536 766l-506 559M1607 931l-518 324" stroke="#000" stroke-opacity="0.07" stroke-width="3.5" fill="none"/>
<path d="M1571 856l-428 439M1572 907l-360 310M1541 793l-367 499M1583 854l-478 460M1582 844l-462 377M1581 945l-476 327M1564 884l-498 386M1508 678l-308 558" stroke="#000" stroke-opacity="0.07" stroke-width="3.5" fill="none"/>
<path d="M1031 1355l184 -230M1005 1370l135 -320M911 1361l319 -228M884 1358l301 -272M948 1357l240 -273M967 1366l175 -317M938 1352l195 -291M889 1341l330 -198M997 1371l195 -258M1057 1360l150 -236" stroke="#000" stroke-opacity="0.07" stroke-width="3" fill="none"/>
<path d="M938 1361l299 -214M1024 1363l192 -220M853 1346l393 -210M993 1362l160 -302M938 1347l225 -290M899 1361l276 -259M1078 1368l126 -267M1040 1373l121 -310M887 1351l266 -307M1047 1366l173 -235" stroke="#000" stroke-opacity="0.07" stroke-width="3" fill="none"/>
<path d="M883 1341l288 -250M1005 1355l156 -271M967 1351l214 -276M1079 1371l118 -253M968 1358l209 -287M1096 1362l43 -311M905 1347l277 -260M885 1354l309 -258M1061 1366l115 -278M1035 1365l156 -251" stroke="#000" stroke-opacity="0.07" stroke-width="3" fill="none"/>
<path d="M962 1362l269 -222M1044 1366l106 -291M1008 1357l174 -249M890 1360l356 -213M987 1357l182 -284M1029 1354l140 -270M885 1343l280 -279M884 1344l325 -214M976 1367l249 -251M961 1351l258 -230" stroke="#000" stroke-opacity="0.07" stroke-width="3" fill="none"/>
<path d="M967 1349l284 -200M978 1351l214 -266M901 1359l325 -205M1075 1369l128 -250M974 1366l254 -236M938 1365l262 -238M855 1359l292 -290M1073 1362l142 -244M959 1367l190 -294M856 1350l302 -280" stroke="#000" stroke-opacity="0.07" stroke-width="3" fill="none"/>
<path d="M988 1370l233 -225M1013 1367l157 -284M868 1341l324 -224M1075 1368l101 -280M1077 1376l90 -290M1037 1371l136 -307M1062 1374l132 -271M855 1351l294 -274M935 1356l297 -217M959 1360l221 -283" stroke="#000" stroke-opacity="0.07" stroke-width="3" fill="none"/>
<path d="M1050 1365l92 -306M1036 1354l113 -276M1075 1372l154 -242M851 1351l294 -291M971 1369l188 -295M939 1355l235 -268M1048 1367l100 -312M979 1367l167 -317M912 1359l325 -222M959 1355l235 -242" stroke="#000" stroke-opacity="0.07" stroke-width="3" fill="none"/>
<path d="M861 1345l335 -244M1094 1370l72 -291M1070 1366l155 -213M999 1367l168 -289M1058 1358l165 -219M899 1350l308 -238M929 1364l307 -209M1097 1374l87 -285M955 1359l218 -287M1015 1359l203 -216" stroke="#000" stroke-opacity="0.07" stroke-width="3" fill="none"/>
<path d="M859 1352l298 -287M895 1344l336 -216M980 1354l190 -267M866 1358l310 -266M1025 1368l192 -240M1063 1370l108 -303M933 1360l217 -293M919 1347l287 -221M914 1356l328 -221M1049 1364l184 -207" stroke="#000" stroke-opacity="0.07" stroke-width="3" fill="none"/>
<path d="M906 1354l326 -217M992 1362l242 -237M877 1350l291 -265M1018 1364l149 -297M952 1352l214 -268M939 1348l208 -283M937 1362l252 -269M850 1357l363 -215M952 1351l251 -224M1098 1364l95 -271" stroke="#000" stroke-opacity="0.07" stroke-width="3" fill="none"/>
<path d="M872 1352l320 -245M953 1357l250 -264M880 1351l274 -302M917 1356l273 -260M934 1349l222 -280M916 1352l291 -233M986 1365l237 -218M949 1352l211 -289M938 1347l246 -240M906 1353l281 -265" stroke="#000" stroke-opacity="0.07" stroke-width="3" fill="none"/>
<path d="M1067 1369l140 -236M885 1351l360 -206M928 1344l289 -212M989 1362l268 -212M885 1361l361 -218M905 1347l277 -262M1082 1359l100 -264M863 1350l360 -209M974 1369l195 -275M914 1363l280 -265" stroke="#000" stroke-opacity="0.07" stroke-width="3" fill="none"/>
<path d="M1838 1685l-242 391M1537 1683l70 389M1541 1673l296 345M1790 1708l-134 339M1569 1657l107 414M1619 1652l189 338M1573 1690l66 363M1818 1683l-75 349M1706 1660l-53 415M1536 1681l297 309M1423 1643l332 405M1801 1682l-224 408M1642 1638l210 341M1698 1686l21 350M1560 1677l100 396M1704 1679l52 343M1722 1705l114 297M1484 1655l327 337M1824 1716l11 264M1852 1689l-6 299M1642 1662l165 364M1653 1681l20 381M1478 1632l146 451M1622 1691l132 341M1757 1691l-150 380M1654 1669l57 392M1663 1683l41 369M1604 1638l205 397M1751 1701l102 333M1611 1677l68 358M1646 1640l51 407M1427 1624l243 430M1587 1643l252 367M1440 1636l408 358M1504 1672l257 349M1420 1637l221 431M1635 1661l-8 412M1553 1662l157 396M1773 1683l-172 392M1833 1712l-97 351M1800 1688l-103 343M1579 1644l261 372M1871 1698l-70 313M1614 1693l31 394M1647 1661l55 372M1533 1642l77 444" stroke="#000" stroke-opacity="0.1" stroke-width="3" fill="none"/>
<path d="M1520 1646l203 393M1553 1688l153 358M1558 1666l239 351M1493 1659l243 372M1435 1656l365 382M1867 1704l-98 324M1782 1676l-97 388M1818 1685l-174 401M1626 1660l62 374M1670 1640l149 378M1841 1714l-49 287M1585 1640l29 432M1812 1699l55 323M1464 1670l256 356M1529 1641l95 425M1411 1629l220 427M1597 1642l146 394M1565 1687l231 324M1449 1637l328 397M1521 1653l289 359M1438 1628l249 408M1641 1644l15 408M1634 1660l-34 419M1672 1683l63 376M1816 1706l-152 352M1655 1686l76 357M1695 1652l124 387M1620 1676l31 388M1468 1668l390 328M1647 1697l175 297M1648 1647l88 417M1581 1690l107 364M1743 1687l-122 388M1526 1672l120 395M1847 1691l-33 298M1486 1642l374 333M1698 1669l-63 388M1501 1668l350 308M1512 1662l118 400M1486 1646l315 399M1433 1635l363 395M1477 1671l201 384M1579 1674l172 339M1547 1644l170 418M1712 1646l-69 422M1544 1685l297 347" stroke="#000" stroke-opacity="0.1" stroke-width="3" fill="none"/>
<path d="M1496 1636l140 454M1575 1663l139 405M1731 1669l88 366M1683 1650l69 400M1604 1692l36 358M1411 1621l444 390M1461 1647l240 405M1483 1648l275 378M1702 1661l117 328M1494 1651l355 384M1696 1646l106 351M1809 1701l-107 354M1671 1682l71 351M1846 1710l-13 283M1476 1676l169 372M1596 1681l266 330M1721 1653l-98 411M1690 1658l-71 420M1725 1702l-52 366M1648 1649l191 372M1782 1694l-34 341M1526 1664l236 372M1797 1671l14 317M1642 1641l147 360M1706 1655l145 369M1669 1657l154 383M1601 1637l225 359M1650 1687l71 341M1493 1630l139 452M1682 1661l-63 429M1734 1701l-64 355M1580 1656l64 422M1436 1632l252 443M1599 1685l191 343M1849 1699l-155 335M1676 1656l174 346M1548 1639l207 393M1617 1665l130 357M1466 1660l223 378M1693 1662l-6 395M1577 1656l19 431M1695 1657l-5 388M1582 1676l166 354M1619 1695l118 360M1530 1684l129 359M1729 1649l87 382" stroke="#000" stroke-opacity="0.1" stroke-width="3" fill="none"/>
<path d="M1616 1671l229 310M1458 1675l299 350M1475 1637l318 377M1584 1636l246 392M1433 1625l365 411M1518 1673l241 334M1488 1683l283 373M1461 1668l252 373M1560 1679l200 336M1609 1687l1 406M1569 1660l166 361M1615 1638l33 449M1719 1695l-2 366M1483 1634l252 412M1639 1679l82 383M1626 1683l178 357M1559 1688l277 315M1481 1634l325 371M1785 1682l71 313M1601 1652l32 416M1511 1680l307 335M1603 1676l150 342M1594 1693l-2 395M1550 1678l181 357M1666 1660l151 365M1505 1650l297 360M1624 1692l35 392M1662 1648l50 385M1627 1684l200 329M1836 1718l-48 297M1633 1690l174 324M1704 1654l159 359M1637 1692l152 351M1483 1657l305 388M1873 1693l-161 367M1716 1682l104 319M1786 1683l31 331M1478 1652l290 369M1517 1664l233 396M1504 1630l214 410M1481 1681l168 381M1772 1696l47 325M1859 1718l-157 310M1680 1641l157 338M1568 1674l94 378M1685 1650l9 385" stroke="#000" stroke-opacity="0.1" stroke-width="3" fill="none"/>
<path d="M1828 1700l-34 349M1753 1669l-134 421M1869 1689l-249 395M1609 1651l232 369M1634 1652l116 400M1677 1660l114 364M1734 1653l-114 426M1672 1680l-95 409M1436 1661l362 335M1637 1678l31 372M1746 1690l67 319M1700 1697l151 308M1816 1701l20 337M1549 1659l260 376M1498 1659l149 422M1651 1672l136 326M1746 1681l92 297M1523 1674l191 382M1755 1699l-170 383M1575 1683l95 360M1490 1638l342 398M1671 1673l147 356M1436 1658l365 387M1441 1666l340 357M1481 1663l275 374M1671 1646l-56 429M1807 1688l-14 315M1747 1684l14 345M1744 1706l110 276M1644 1657l20 394M1502 1649l293 356M1526 1666l338 341M1667 1698l176 313M1466 1654l396 357M1546 1683l216 341M1703 1659l-37 405M1694 1659l15 396M1703 1670l4 359M1741 1693l-4 356M1646 1649l14 430M1847 1718l-211 336M1446 1669l214 378M1861 1691l-248 378M1750 1671l-79 399M1625 1681l119 380M1595 1680l272 339" stroke="#000" stroke-opacity="0.1" stroke-width="3" fill="none"/>
<path d="M1516 1680l171 375M1498 1642l272 377M1763 1692l19 342M1664 1678l36 352M1628 1675l58 397M1775 1682l-29 370M1643 1642l64 387M1753 1674l63 356M1824 1700l-59 312M1720 1648l-40 419M1659 1639l-11 414M1610 1653l171 370M1552 1662l235 368M1604 1650l118 378M1445 1666l246 395M1559 1688l247 343M1809 1711l-156 361M1722 1657l-148 435M1779 1683l0 331M1847 1706l-130 335M1702 1703l-12 354M1520 1645l91 439M1474 1680l256 337M1446 1670l392 333M1607 1659l80 376M1555 1677l303 312M1542 1666l167 386M1690 1649l-32 396M1528 1633l225 427M1755 1677l-135 396M1641 1669l191 343M1536 1652l111 423M1594 1690l94 341M1500 1674l276 357M1438 1638l283 428M1610 1690l162 363M1597 1650l261 368M1714 1666l-41 403M1467 1648l298 386M1576 1661l182 388M1554 1659l269 341M1691 1660l74 377M1516 1675l74 408M1483 1643l223 402M1536 1684l85 393M1724 1648l-22 417" stroke="#000" stroke-opacity="0.1" stroke-width="3" fill="none"/>
<path d="M1788 1683l-199 398M1562 1681l40 407M1865 1694l-152 339M1452 1639l200 424M1447 1671l265 357M1681 1664l-4 399M1690 1642l-26 421M1489 1671l100 408M1455 1662l261 384M1703 1693l-3 350M1782 1690l-33 360M1619 1671l16 416M1659 1691l-8 389M1522 1667l258 346M1777 1705l12 308M1569 1659l88 384M1733 1697l-53 381M1492 1633l300 367M1559 1641l297 351M1731 1677l-40 370M1606 1688l94 349M1799 1705l55 323M1542 1681l265 319M1525 1648l326 339M1542 1687l282 326M1466 1625l235 425M1768 1685l13 357M1842 1694l-69 359M1735 1674l-26 373M1513 1649l254 386M1448 1650l245 387M1776 1688l-194 405M1740 1659l74 359M1769 1692l-92 378M1837 1691l-170 387M1662 1666l43 402M1657 1689l143 304M1717 1646l125 349M1470 1657l372 362M1421 1636l275 403M1553 1640l129 424M1793 1683l-143 404M1669 1674l-19 401M1586 1663l211 365M1586 1650l4 445M1526 1667l217 391" stroke="#000" stroke-opacity="0.1" stroke-width="3" fill="none"/>
<path d="M1674 1641l-36 444M1423 1633l273 421M1795 1673l-61 349M1433 1648l201 432M1745 1664l35 335M1738 1671l45 327M1559 1670l239 366M1709 1680l112 353M1591 1690l59 382M1422 1644l244 438M1710 1652l56 379M1828 1682l-34 354M1555 1662l73 404M1845 1703l-179 377M1436 1658l398 371M1466 1672l173 385M1843 1695l-236 400M1555 1675l245 346M1593 1684l228 348M1568 1650l180 403M1551 1640l299 352M1508 1677l348 351M1762 1680l-81 380M1800 1670l-2 373M1605 1689l105 377M1860 1692l-38 324M1586 1636l149 382M1671 1689l187 334M1717 1659l85 338M1841 1687l-211 390M1719 1665l-75 397M1718 1696l7 351M1769 1671l8 336M1549 1635l229 369M1839 1704l-184 352M1696 1659l9 403M1605 1684l207 360M1434 1648l204 406M1459 1655l223 415M1726 1657l94 375M1566 1657l213 365M1463 1638l240 398M1565 1656l29 421M1861 1704l-7 301M1629 1653l113 360M1476 1668l361 349" stroke="#000" stroke-opacity="0.1" stroke-width="3" fill="none"/>
<path d="M1619 1669l121 391M1526 1642l106 415M1442 1653l395 361M1439 1663l255 380M1409 1630l395 365M1585 1691l135 377M1421 1646l356 379M1819 1693l17 315M1645 1660l182 381M1498 1628l156 435M1617 1691l41 363M1615 1661l211 353M1665 1672l12 375M1764 1685l-148 382M1631 1653l181 381M1505 1649l232 366M1615 1678l53 390M1562 1652l176 410M1644 1660l185 361M1600 1682l54 376M1504 1682l207 376M1498 1677l182 382M1491 1672l326 316M1778 1696l-145 379M1752 1658l32 394M1852 1715l1 260M1441 1652l329 362M1434 1649l268 394M1671 1670l107 347M1860 1700l-238 378M1830 1703l8 323M1574 1650l190 407M1726 1659l-113 433M1487 1644l213 387M1827 1699l-59 306M1849 1719l-25 274M1450 1660l256 383M1546 1675l251 368M1582 1656l127 407M1692 1685l114 315M1711 1684l110 316M1817 1692l-101 369M1842 1688l1 327M1841 1684l-182 374M1592 1689l107 354M1446 1635l252 407" stroke="#000" stroke-opacity="0.1" stroke-width="3" fill="none"/>
<path d="M1628 1682l60 391M1546 1687l255 353M1737 1663l68 327M1539 1649l43 439M1622 1653l178 383M1449 1634l312 409M1531 1646l88 442M1619 1662l80 385M1805 1684l-25 341M1774 1690l-184 387M1709 1648l115 353M1804 1694l-98 370M1859 1698l-140 329M1862 1699l-152 344M1533 1641l37 451M1761 1675l-69 367M1816 1695l-28 310M1533 1643l287 393M1458 1625l377 414M1806 1700l-57 331M1861 1697l-247 367M1777 1703l-81 346M1538 1669l276 350M1672 1689l137 330M1705 1672l-1 392M1446 1655l334 390M1829 1698l-161 361M1709 1687l101 324M1498 1634l125 429M1796 1686l-98 379M1708 1667l-7 380M1590 1633l196 400M1445 1665l232 396M1751 1679l2 345M1713 1648l23 410M1769 1700l-95 363M1463 1660l253 408M1603 1659l257 333M1785 1687l40 337M1662 1667l75 393M1426 1624l415 405M1588 1682l112 368M1567 1691l162 374M1653 1645l120 377M1742 1674l-44 387M1467 1678l145 398" stroke="#000" stroke-opacity="0.1" stroke-width="3" fill="none"/>
<path d="M1644 1697l126 320M1548 1663l62 419M1819 1694l-212 392M1709 1667l-90 414M1497 1675l151 393M1486 1669l178 394M1492 1628l233 438M1518 1637l145 431M1837 1695l-89 356M1825 1682l-62 355M1487 1630l256 413M1486 1646l277 397M1667 1662l-68 430M1810 1689l-169 386M1799 1695l45 298M1591 1638l256 354M1656 1684l-47 398M1554 1663l290 368M1656 1669l132 381M1445 1644l369 369M1522 1669l66 411M1482 1679l320 330M1520 1665l181 404M1521 1659l110 401M1554 1644l248 398M1598 1673l120 351M1433 1633l263 419M1620 1640l-30 452M1580 1680l258 327M1481 1626l191 450M1610 1646l-18 431M1447 1645l377 389M1523 1669l71 425M1593 1687l190 360M1497 1635l194 404M1617 1677l76 389M1555 1659l136 417M1651 1657l172 359M1633 1679l204 357M1785 1707l-34 320M1865 1694l-175 344M1778 1709l3 313M1667 1654l15 387M1432 1640l379 403M1642 1641l212 385" stroke="#000" stroke-opacity="0.1" stroke-width="3" fill="none"/>
<path d="M1668 1686l108 317M1853 1709l-187 335M1757 1689l72 348M1549 1650l99 432M1710 1703l-34 374M1591 1676l63 403M1669 1655l75 388M1795 1672l-123 398M1453 1652l195 411M1774 1689l-26 343M1783 1706l66 286M1817 1672l-28 361M1589 1686l264 341M1494 1662l355 349M1860 1702l8 322M1731 1666l-135 415M1640 1645l97 389M1757 1670l-32 366M1765 1706l-153 374M1775 1693l60 290M1479 1650l367 367M1640 1664l176 329M1638 1674l166 318M1602 1693l-36 395M1633 1670l144 351M1561 1631l98 448M1864 1714l-34 298M1530 1642l174 405M1608 1638l223 375M1542 1677l66 413M1512 1658l102 407M1859 1689l2 341M1448 1631l181 454M1853 1686l-82 318M1712 1702l-24 367M1656 1692l38 338M1422 1624l213 447M1585 1684l54 387M1419 1640l270 429M1636 1683l15 376M1589 1647l215 393M1765 1665l-131 403M1765 1702l-21 336M1844 1687l-100 336M1467 1661l137 424" stroke="#000" stroke-opacity="0.1" stroke-width="3" fill="none"/>
<path d="M1433 1653l173 433M1474 1649l132 454M1475 1674l125 406M1453 1654l119 432M1449 1658l136 428M1468 1643l90 438M1457 1665l152 418M1460 1647l146 427M1469 1689l105 398M1444 1640l172 455M1462 1673l132 394M1440 1653l158 428M1473 1665l132 406M1480 1643l118 451M1439 1638l177 469M1480 1649l116 424M1440 1656l156 415M1466 1664l107 410M1449 1639l140 446" stroke="#000" stroke-opacity="0.16" stroke-width="3" fill="none"/>
<path d="M1457 1645l143 422M1451 1661l154 424M1438 1632l173 440M1420 1634l187 437M1420 1639l173 441M1428 1627l185 465M1449 1637l168 459M1477 1659l134 432M1445 1637l139 440M1456 1659l119 423M1468 1672l99 405M1470 1664l140 400M1430 1648l173 448M1454 1650l119 430M1453 1673l118 408M1448 1671l146 406M1473 1681l121 394M1461 1669l148 410M1473 1675l132 418" stroke="#000" stroke-opacity="0.16" stroke-width="3" fill="none"/>
<path d="M1440 1651l174 448M1457 1646l142 427M1458 1669l126 403M1441 1656l153 429M1460 1660l108 425M1458 1645l121 446M1434 1640l166 456M1457 1652l107 427M1465 1653l122 424M1452 1669l135 423M1435 1632l162 459M1477 1649l122 426M1470 1660l137 420M1456 1680l128 395M1473 1641l138 462M1429 1642l179 454M1446 1636l152 449M1472 1673l131 398M1471 1671l115 418" stroke="#000" stroke-opacity="0.16" stroke-width="3" fill="none"/>
<path d="M1477 1643l80 437M1466 1653l109 433M1449 1639l145 443M1469 1697l138 396M1478 1654l135 436M1446 1668l123 414M1474 1637l140 457M1465 1689l145 388M1473 1672l91 406M1440 1653l168 442M1431 1633l179 438M1450 1670l140 399M1472 1693l129 400M1466 1638l137 443M1476 1638l129 452M1461 1635l114 441M1417 1625l169 445M1475 1647l116 445M1442 1662l171 419" stroke="#000" stroke-opacity="0.16" stroke-width="3" fill="none"/>
<path d="M1439 1646l172 438M1415 1628l177 447M1427 1627l171 446M1443 1636l152 460M1445 1640l139 432M1477 1667l138 435M1467 1663l120 429M1477 1648l138 439M1413 1631l195 465M1436 1645l140 438M1468 1641l144 433M1472 1639l141 437M1448 1642l160 421M1443 1633l164 466M1465 1675l117 399M1470 1655l139 448M1427 1630l166 466M1478 1676l107 404" stroke="#000" stroke-opacity="0.16" stroke-width="3" fill="none"/>
<path d="M1468 1694l106 382M1474 1671l135 400M1484 1651l121 433M1465 1652l142 422M1473 1663l108 416M1459 1683l152 390M1429 1633l170 435M1450 1657l157 419M1438 1643l164 426M1440 1660l142 432M1482 1660l107 435M1458 1633l132 455M1484 1655l83 428M1438 1636l164 459M1429 1628l164 455M1466 1653l133 421M1482 1644l129 431M1437 1662l145 430" stroke="#000" stroke-opacity="0.16" stroke-width="3" fill="none"/>
<path d="M1446 1661l137 431M1457 1655l117 420M1445 1654l166 432M1477 1642l90 437M1416 1626l191 441M1472 1648l130 416M1467 1644l106 431M1432 1635l149 452M1449 1637l150 462M1474 1638l112 440M1485 1654l120 443M1409 1623l198 476M1476 1647l137 447M1444 1668l167 419M1472 1646l115 436M1460 1642l109 441M1469 1644l144 452M1464 1653l112 431" stroke="#000" stroke-opacity="0.16" stroke-width="3" fill="none"/>
<path d="M1475 1650l129 444M1454 1650l152 439M1454 1657l137 415M1436 1642l139 434M1437 1658l168 416M1464 1643l97 435M1449 1668l155 433M1430 1634l170 464M1471 1684l93 400M1483 1656l116 412M1434 1651l176 425M1452 1661l159 416M1448 1665l124 422M1472 1636l139 454M1462 1635l126 447M1454 1674l146 422M1437 1650l138 437M1474 1668l134 403" stroke="#000" stroke-opacity="0.16" stroke-width="3" fill="none"/>
<path d="M1488 1641l81 442M1460 1662l134 408M1436 1642l160 450M1466 1654l118 426M1424 1647l190 442M1445 1641l144 446M1481 1656l134 446M1460 1683l131 390M1475 1680l123 399M1438 1645l165 423M1455 1662l151 410M1413 1623l186 476M1414 1630l198 459M1427 1646l168 425M1467 1638l127 446M1450 1637l157 437M1469 1673l129 408M1467 1642l94 439" stroke="#000" stroke-opacity="0.16" stroke-width="3" fill="none"/>
<path d="M1427 1626l152 445M1417 1633l163 452M1441 1641l153 426M1450 1636l151 428M1451 1646l119 431M1439 1654l169 430M1435 1640l156 452M1448 1673l163 431M1438 1635l154 437M1421 1634l179 431M1452 1650l153 422M1442 1635l132 454M1458 1647l150 450M1451 1666l135 407M1406 1623l205 445M1430 1642l181 454M1447 1654l153 412M1458 1684l144 407" stroke="#000" stroke-opacity="0.16" stroke-width="3" fill="none"/>
<path d="M1440 1630l142 448M1458 1671l153 400M1474 1648l141 442M1445 1660l158 410M1428 1632l180 440M1432 1653l174 448M1472 1652l125 416M1473 1666l94 413M1432 1646l152 429M1468 1643l133 439M1461 1647l141 449M1464 1642l119 450M1464 1677l143 418M1448 1665l160 398M1452 1670l139 405M1430 1651l168 445M1466 1656l103 428M1444 1670l135 419" stroke="#000" stroke-opacity="0.16" stroke-width="3" fill="none"/>
<path d="M1441 1658l150 429M1466 1657l143 405M1463 1664l139 436M1447 1638l165 453M1439 1643l178 460M1486 1648l122 419M1453 1649l110 433M1477 1653l119 445M1485 1647l124 421M1441 1644l167 418M1473 1664l112 424M1450 1635l148 439M1437 1642l175 428M1437 1640l157 456M1454 1673l140 406M1481 1654l112 423M1450 1670l159 430M1483 1645l129 449" stroke="#000" stroke-opacity="0.16" stroke-width="3" fill="none"/>
<path d="M1800 1741l56 277M1801 1685l70 323M1837 1722l27 246M1835 1698l18 297M1832 1709l22 331M1803 1744l46 233M1802 1755l42 271M1784 1668l71 359M1810 1662l36 348M1812 1697l44 342M1821 1735l52 271M1813 1713l55 263M1844 1737l18 297M1793 1664l62 325M1793 1677l79 314M1832 1709l10 301M1795 1657l64 307" stroke="#000" stroke-opacity="0.14" stroke-width="3" fill="none"/>
<path d="M1846 1717l12 258M1832 1693l16 333M1806 1673l57 364M1863 1740l3 270M1826 1702l41 318M1820 1700l24 306M1825 1701l41 336M1837 1713l17 305M1817 1709l28 323M1794 1656l68 343M1863 1702l-3 307M1800 1677l50 331M1844 1696l23 292M1808 1752l55 211M1830 1718l39 310M1815 1730l27 254M1838 1687l-3 273" stroke="#000" stroke-opacity="0.14" stroke-width="3" fill="none"/>
<path d="M1808 1683l52 319M1856 1695l0 310M1869 1687l3 340M1809 1756l33 255M1843 1750l19 214M1804 1726l56 278M1799 1723l45 309M1842 1700l24 320M1849 1720l-15 248M1843 1707l24 280M1836 1748l17 229M1793 1667l45 304M1822 1747l34 242M1798 1675l64 308M1841 1735l5 294M1823 1672l52 334M1799 1741l35 230" stroke="#000" stroke-opacity="0.14" stroke-width="3" fill="none"/>
<path d="M1858 1759l-24 219M1847 1741l-10 252M1846 1726l-4 245M1860 1698l-24 285M1819 1747l20 272M1827 1699l30 299M1812 1709l52 324M1861 1716l-16 310M1801 1695l52 276M1793 1712l62 245M1810 1735l31 287M1790 1692l67 318M1845 1689l24 341M1846 1724l8 259M1792 1678l47 293M1867 1715l-33 237M1842 1721l29 247" stroke="#000" stroke-opacity="0.14" stroke-width="3" fill="none"/>
<path d="M1852 1719l2 277M1856 1688l11 301M1818 1728l30 292M1793 1691l50 344M1833 1675l35 293M1863 1744l-27 247M1832 1672l43 352M1789 1698l59 294M1800 1716l34 252M1842 1749l28 227M1817 1740l60 289M1803 1664l60 348M1873 1713l-34 313M1833 1751l23 270M1814 1677l62 342M1825 1726l39 297M1865 1724l-6 247" stroke="#000" stroke-opacity="0.14" stroke-width="3" fill="none"/>
<path d="M1856 1691l-5 264M1844 1709l0 326M1829 1737l15 271M1810 1736l60 246M1794 1711l83 317M1819 1693l42 282M1786 1664l90 371M1875 1709l-2 293M1848 1702l26 335M1861 1727l-7 305M1808 1742l47 228M1834 1716l34 289M1825 1694l19 269M1800 1711l62 271M1837 1695l16 290M1815 1706l25 271M1856 1745l15 226" stroke="#000" stroke-opacity="0.14" stroke-width="3" fill="none"/>
<path d="M1860 1751l-20 270M1801 1692l35 309M1843 1691l0 303M1851 1708l14 309M1829 1676l17 315M1825 1728l12 247M1799 1713l57 296M1839 1752l-1 206M1840 1689l17 338M1803 1733l66 270M1844 1752l27 278M1825 1693l23 289M1858 1718l3 241M1839 1724l24 276M1813 1668l61 353M1836 1699l27 282M1839 1720l7 293" stroke="#000" stroke-opacity="0.14" stroke-width="3" fill="none"/>
<path d="M1823 1715l18 321M1793 1708l73 320M1812 1703l41 260M1811 1671l39 324M1799 1667l66 347M1833 1746l20 225M1795 1656l47 348M1878 1695l-45 268M1827 1740l24 287M1808 1734l40 235M1845 1688l-1 309M1818 1725l23 268M1808 1729l48 268M1801 1749l60 272M1840 1703l30 280M1870 1719l-8 287M1818 1728l25 268" stroke="#000" stroke-opacity="0.14" stroke-width="3" fill="none"/>
<path d="M1822 1733l27 235M1797 1680l60 327M1817 1708l50 304M1836 1740l31 249M1808 1737l52 238M1808 1673l49 326M1790 1658l73 344M1790 1680l69 278M1851 1726l18 254M1857 1685l-12 352M1855 1750l-13 268M1866 1734l3 241M1798 1668l54 317M1844 1709l-2 252M1815 1696l44 318M1838 1751l12 265" stroke="#000" stroke-opacity="0.14" stroke-width="3" fill="none"/>
<path d="M1873 1694l-26 266M1851 1736l16 297M1850 1693l-2 299M1857 1691l9 275M1800 1733l40 270M1803 1717l56 277M1814 1731l36 248M1804 1676l40 304M1865 1703l-7 320M1821 1755l29 265M1832 1743l9 253M1848 1736l7 284M1824 1735l38 242M1794 1686l44 327M1796 1657l48 313M1798 1731l69 299" stroke="#000" stroke-opacity="0.14" stroke-width="3" fill="none"/>
<path d="M1837 1696l5 317M1846 1704l5 308M1802 1759l61 274M1838 1686l34 314M1806 1662l35 308M1844 1735l0 303M1818 1675l23 365M1806 1661l56 370M1803 1704l48 314M1861 1704l-21 275M1849 1731l6 271M1851 1717l19 282M1836 1677l6 314M1820 1751l42 285M1845 1682l11 283M1841 1721l-1 290" stroke="#000" stroke-opacity="0.14" stroke-width="3" fill="none"/>
<path d="M1801 1659l30 295M1860 1740l5 296M1822 1730l41 263M1821 1748l51 258M1813 1680l25 313M1795 1729l55 293M1833 1677l24 286M1809 1691l63 287M1878 1697l-31 336M1821 1722l27 250M1841 1701l32 310M1819 1672l40 350M1859 1739l-10 256M1837 1756l18 250M1810 1683l24 293M1832 1753l16 263" stroke="#000" stroke-opacity="0.14" stroke-width="3" fill="none"/>
<path d="M1747 1745l-46 27M1820 1860l-61 -39M1699 1736l55 153M1820 1730l-106 155M1793 1928l33 -49M1744 1787l26 34M1783 1774l10 116M1761 1795l40 -36M1714 1735l60 160M1818 1842l-92 5M1738 1759l69 136M1800 1851l1 -106M1783 1944l57 -72M1702 1730l22 124M1833 1944l4 -73M1850 1909l-48 -79M1736 1793l85 8" stroke="#000" stroke-opacity="0.1" stroke-width="3" fill="none"/>
<path d="M1813 1947l17 -127M1812 1926l13 14M1836 1911l-19 -146M1811 1740l-73 66M1797 1828l57 122M1741 1729l92 211M1761 1746l-52 68M1722 1842l39 29M1788 1789l69 167M1792 1859l-43 -74M1763 1757l19 -9M1781 1931l-52 -171M1754 1922l54 -200M1817 1880l19 21M1710 1759l106 171M1769 1803l-24 -31M1831 1932l-94 -169" stroke="#000" stroke-opacity="0.1" stroke-width="3" fill="none"/>
<path d="M1738 1830l-26 51M1787 1769l-8 24M1805 1938l22 -11M1789 1877l-91 -99M1744 1860l72 23M1806 1887l-29 -29M1805 1895l-84 -156M1773 1855l28 -112M1790 1758l-26 169M1856 1938l-71 -19M1780 1723l18 34M1699 1735l106 140M1765 1734l86 222M1691 1801l8 6M1772 1808l-70 64M1688 1826l26 0M1846 1909l-119 -83" stroke="#000" stroke-opacity="0.1" stroke-width="3" fill="none"/>
<path d="M1707 1786l139 160M1736 1820l-32 31M1829 1849l-61 -122M1782 1924l-37 -146M1786 1793l5 -22M1795 1902l-70 -173M1764 1753l-67 28M1784 1936l41 -35M1796 1916l-52 -78M1689 1826l64 -81M1753 1828l68 -69M1821 1901l-36 -100M1818 1923l-40 -93M1823 1871l19 2M1708 1755l77 126M1716 1767l68 96M1702 1868l47 -146" stroke="#000" stroke-opacity="0.1" stroke-width="3" fill="none"/>
<path d="M1739 1834l25 -39M1768 1854l-32 -65M1833 1930l-39 -67M1790 1906l-36 -62M1799 1761l30 108M1797 1819l-87 -29M1780 1806l66 132M1759 1777l54 -6M1772 1799l4 19M1730 1750l28 25M1754 1875l-45 -144M1740 1849l6 -55M1773 1723l9 21M1793 1932l16 -186M1697 1863l54 -125M1769 1843l-41 -80M1803 1841l-1 -48" stroke="#000" stroke-opacity="0.1" stroke-width="3" fill="none"/>
<path d="M1712 1878l34 -56M1758 1872l59 -10M1696 1743l105 98M1791 1950l25 -49M1839 1855l-122 -28M1686 1813l127 1M1792 1855l0 -83M1765 1842l19 -1M1726 1796l61 -35M1737 1855l-27 20M1768 1913l55 18M1751 1777l-9 132M1734 1842l46 -93M1807 1767l-72 -30M1814 1918l-35 -57M1714 1785l60 74M1700 1849l126 -18" stroke="#000" stroke-opacity="0.1" stroke-width="3" fill="none"/>
<path d="M1829 1949l-151 -98M1794 1926l38 -33M1833 1944l-109 -128M1804 1870l-12 -109M1792 1743l-51 126M1816 1853l-4 -120M1813 1925l12 -10M1730 1898l109 -28M1734 1753l76 -20M1837 1855l-57 19M1804 1959l-85 -215M1821 1959l-7 -47M1782 1781l31 117M1746 1906l63 -148M1772 1770l32 79M1787 1803l58 156M1773 1825l37 -29" stroke="#000" stroke-opacity="0.1" stroke-width="3" fill="none"/>
<path d="M1798 1773l1 17M1701 1858l11 20M1772 1735l24 212M1796 1954l-85 -104M1697 1867l88 -68M1796 1850l-28 5M1730 1780l80 55M1705 1736l-12 78M1810 1898l-36 -33M1795 1810l-62 -42M1733 1737l-22 89M1699 1820l45 44M1775 1886l-53 -109M1767 1887l23 -83M1802 1926l-102 -87M1795 1721l-91 125M1795 1757l-60 -23" stroke="#000" stroke-opacity="0.1" stroke-width="3" fill="none"/>
<path d="M1839 1906l-127 -65M1827 1956l-67 -81M1811 1851l-78 11M1760 1857l-71 -5M1793 1909l-106 -88M1783 1937l-65 -47M1808 1731l33 220M1831 1877l-7 -18M1829 1805l-99 33M1760 1862l-40 -135M1769 1737l10 168M1856 1941l-13 -1M1696 1841l81 -57M1813 1803l-24 150M1756 1850l-47 11M1754 1725l-28 152" stroke="#000" stroke-opacity="0.1" stroke-width="3" fill="none"/>
<path d="M1787 1818l-59 10M1803 1810l-49 90M1755 1817l1 -42M1727 1743l82 126M1812 1787l-43 54M1793 1755l-9 26M1736 1742l79 137M1773 1812l13 80M1807 1882l-65 14M1708 1788l62 9M1715 1873l85 45M1818 1869l-51 -89M1764 1819l61 71M1827 1802l-11 157M1757 1895l-30 -95M1763 1732l71 105" stroke="#000" stroke-opacity="0.1" stroke-width="3" fill="none"/>
<path d="M1682 1829l149 118M1753 1808l-26 26M1722 1888l6 10M1818 1958l14 -78M1827 1958l-3 -206M1770 1748l51 97M1799 1738l-92 15M1800 1791l-4 -20M1769 1872l72 74M1792 1728l42 169M1825 1799l8 61M1696 1847l64 -49M1693 1808l115 -66M1753 1815l6 97M1758 1732l-43 108M1756 1906l-32 -159" stroke="#000" stroke-opacity="0.1" stroke-width="3" fill="none"/>
<path d="M1714 1832l-1 -73M1827 1776l-65 157M1756 1789l-14 4M1710 1785l45 -63M1766 1804l51 79M1817 1812l-49 -47M1727 1727l42 46M1728 1872l98 -29M1788 1884l-2 2M1814 1947l-47 -204M1714 1874l79 45M1854 1948l-39 -178M1826 1933l-127 -189M1776 1894l-17 30M1803 1948l-101 -137M1753 1760l39 139" stroke="#000" stroke-opacity="0.1" stroke-width="3" fill="none"/>
<path d="M2003 1595l-153 446M2034 1595l-205 395M1974 1594l-112 386M2051 1588l-192 395M2028 1580l-168 479M2039 1593l-195 408M2069 1576l-262 388M2017 1582l-140 495M2010 1603l-142 468M2032 1576l-185 428" stroke="#000" stroke-opacity="0.06" stroke-width="3" fill="none"/>
<path d="M2020 1577l-199 392M1988 1598l-171 392M2059 1570l-204 472M2043 1588l-186 432M2072 1567l-232 415M1966 1585l-147 381M1959 1581l-112 444M2065 1580l-241 393M2018 1584l-159 470M2043 1590l-218 389" stroke="#000" stroke-opacity="0.06" stroke-width="3" fill="none"/>
<path d="M1974 1584l-144 388M2007 1585l-140 417M2033 1576l-218 391M2022 1585l-190 391M2010 1590l-152 449M2005 1599l-132 461M2066 1570l-197 485M2006 1598l-160 419M1992 1597l-159 417M2003 1589l-187 393" stroke="#000" stroke-opacity="0.06" stroke-width="3" fill="none"/>
<path d="M1809 384l285 424M1846 590l260 206M1851 580l209 212M1827 495l274 309M1806 514l246 281M1817 430l246 353M1861 603l178 190M1816 501l234 281M1810 452l243 332" stroke="#000" stroke-opacity="0.06" stroke-width="3" fill="none"/>
<path d="M1813 526l251 270M1834 584l196 192M1817 534l250 249M1820 503l261 295M1819 510l239 293M1821 475l208 306M1802 355l237 414M1801 350l243 421M1821 547l223 230" stroke="#000" stroke-opacity="0.06" stroke-width="3" fill="none"/>
<path d="M1861 629l223 162M1808 422l224 362M1819 546l236 231M1823 466l256 332M1802 362l294 463M1807 409l286 402M1822 464l250 329M1862 632l216 156M1822 460l246 331" stroke="#000" stroke-opacity="0.06" stroke-width="3" fill="none"/>
<path d="M1854 637l182 157M1825 532l235 274M1821 514l213 253M1800 338l295 461M1843 564l205 234M1838 563l254 244M1805 462l244 331M1877 637l188 171M1852 635l181 145" stroke="#000" stroke-opacity="0.06" stroke-width="3" fill="none"/>
<path d="M1842 577l256 235M1808 504l253 279M1801 453l275 360M1815 476l212 314M1857 581l177 188M1810 522l274 288M1802 445l261 334M1851 632l228 177" stroke="#000" stroke-opacity="0.06" stroke-width="3" fill="none"/>
<path d="M1829 566l258 225M1818 500l226 280M1804 470l258 332M1805 391l246 385M1860 587l185 201M1839 567l261 256M1820 450l230 349M1816 489l242 292" stroke="#000" stroke-opacity="0.06" stroke-width="3" fill="none"/>
<path d="M1844 560l210 233M1857 616l239 192M1855 601l202 177M1839 568l237 227M1819 525l210 263M1860 586l207 202M1851 634l251 174M1816 478l213 293" stroke="#000" stroke-opacity="0.06" stroke-width="3" fill="none"/>
<path d="M1993 1064l282 283M2031 1033l251 324M1990 1091l350 296M2003 1113l282 206M1989 1068l279 259M1993 1056l325 311M2049 1027l256 313M2033 1065l283 316M2043 1075l220 255M2002 1083l312 281M2020 1011l300 358M2015 1012l317 393M2040 1079l275 314M2019 1046l297 321" stroke="#000" stroke-opacity="0.07" stroke-width="3" fill="none"/>
<path d="M2032 1117l294 301M2042 1072l252 302M2018 1027l291 350M2013 1079l252 262M2016 1107l307 275M2022 1058l267 308M1998 1019l321 391M2032 1068l285 350M2003 1102l295 268M2034 1079l236 238M1998 1105l289 266M2036 1026l280 382M1987 1079l312 295M1992 1055l315 322" stroke="#000" stroke-opacity="0.07" stroke-width="3" fill="none"/>
<path d="M2030 1065l257 277M2053 1044l210 297M2034 1081l252 290M2024 1059l314 316M2000 1061l292 294M2031 1112l284 249M2016 1051l299 331M2012 1029l285 348M2012 1089l246 243M2026 1078l310 308M2030 1020l292 387M1990 1096l330 261M2012 1026l293 359M2010 1013l299 354" stroke="#000" stroke-opacity="0.07" stroke-width="3" fill="none"/>
<path d="M2010 1114l279 250M2025 1097l314 287M2046 1031l250 340M2039 1030l294 356M2000 1088l293 256M2036 1033l258 314M2011 1057l284 328M2042 1082l281 297M2050 1049l232 281M1990 1099l296 240M2010 1007l309 415M2008 1109l269 252M2029 1089l299 310M1985 1109l310 265" stroke="#000" stroke-opacity="0.07" stroke-width="3" fill="none"/>
<path d="M2040 1057l256 285M2038 1028l286 342M2036 1067l288 349M2046 1039l250 348M2055 1037l250 358M2013 1022l260 297M2025 1036l269 351M2002 1069l298 298M2002 1113l271 212M2003 1012l314 354M2006 1069l321 318M2025 1017l250 301M2037 1099l276 279" stroke="#000" stroke-opacity="0.07" stroke-width="3" fill="none"/>
<path d="M2009 1077l267 255M2057 1034l265 344M1994 1112l310 238M2029 1042l284 315M2026 1035l293 371M2004 1107l332 270M1995 1051l310 317M2018 1066l276 326M1987 1089l321 264M2017 1032l270 325M2045 1032l289 347M2032 1057l290 310M2039 1108l248 265" stroke="#000" stroke-opacity="0.07" stroke-width="3" fill="none"/>
<path d="M2031 1053l305 322M2036 1043l242 302M1994 1033l318 323M2046 1053l229 295M1994 1084l267 245M2048 1024l274 391M2003 1100l261 239M2025 1064l246 258M2017 1114l298 236M2022 1051l288 306M2038 1058l282 306M2014 1110l318 289M2017 1094l262 252" stroke="#000" stroke-opacity="0.07" stroke-width="3" fill="none"/>
<path d="M2016 1077l309 313M2019 1112l247 240M2001 1104l322 308M2026 1100l274 300M2025 1014l301 382M2001 1022l290 355M2026 1059l266 281M2023 1082l305 284M2025 1110l265 243M1985 1092l310 269M2031 1118l256 209M2005 1041l291 292M2004 1066l302 343" stroke="#000" stroke-opacity="0.07" stroke-width="3" fill="none"/>
<path d="M2023 1021l254 320M1999 1093l333 305M2056 1028l261 374M2029 1016l293 354M2005 1100l287 242M2017 1109l281 261M2000 1041l276 286M2021 1099l295 322M2051 1063l219 263M2037 1117l289 251M2014 1035l302 319M2037 1054l279 346M2050 1036l276 365" stroke="#000" stroke-opacity="0.07" stroke-width="3" fill="none"/>
<path d="M2040 1041l245 327M1998 1034l323 383M2031 1063l290 335M2034 1099l274 277M2035 1117l243 195M2040 1073l271 298M2041 1069l272 321M2037 1025l264 338M1995 1041l341 350M2032 1103l287 285M2018 1030l312 374M2048 1055l263 323M1987 1087l333 300" stroke="#000" stroke-opacity="0.07" stroke-width="3" fill="none"/>
<path d="M2006 1073l323 322M2010 1104l257 226M2053 1031l272 339M1993 1055l336 351M2035 1042l270 323M2040 1079l249 270M2022 1061l264 302M2009 1088l265 233M2036 1103l282 288M2044 1040l243 291M2027 1096l269 285M1991 1070l300 263M2049 1061l252 311" stroke="#000" stroke-opacity="0.07" stroke-width="3" fill="none"/>
<path d="M2037 1032l285 350M2004 1104l290 236M1987 1081l284 273M2029 1016l229 317M2010 1100l272 233M2021 1016l290 341M1997 1026l301 322M2015 1058l251 270M1999 1113l327 258M2030 1109l289 305M2044 1077l247 254M1998 1058l298 297M2006 1083l319 323" stroke="#000" stroke-opacity="0.07" stroke-width="3" fill="none"/>
<path d="M1961 1203l181 180M2022 1252l124 153M1975 1224l245 119M1976 1148l176 155M2015 1245l110 164M2023 1180l113 237M1949 1233l230 150M1967 1247l197 132M2043 1208l214 165M1977 1244l323 178" stroke="#000" stroke-opacity="0.07" stroke-width="3" fill="none"/>
<path d="M2047 1167l94 247M2004 1230l160 123M1998 1237l177 81M1972 1155l174 159M1955 1185l284 283M2007 1242l324 135M2048 1172l215 242M1953 1158l286 244M2017 1199l228 172M2001 1170l209 172" stroke="#000" stroke-opacity="0.07" stroke-width="3" fill="none"/>
<path d="M2000 1203l279 219M1955 1198l298 228M2016 1147l120 197M1986 1209l175 206M1958 1191l295 260M2004 1255l284 172M2047 1152l138 243M1995 1199l214 241M1965 1192l319 172M2038 1171l158 245" stroke="#000" stroke-opacity="0.07" stroke-width="3" fill="none"/>
<path d="M2000 1196l278 192M1954 1223l237 198M1976 1156l243 186M2031 1222l230 221M2019 1250l244 115M2035 1192l182 181M1945 1240l267 190M1939 1227l246 149M2014 1164l209 254M2033 1153l132 154" stroke="#000" stroke-opacity="0.07" stroke-width="3" fill="none"/>
<path d="M1972 1145l219 231M1941 1232l329 137M1995 1219l208 98M2013 1228l211 213M1999 1163l285 232M2049 1135l290 249M2028 1228l186 107M2026 1222l153 216M1951 1215l306 180M2005 1208l214 199" stroke="#000" stroke-opacity="0.07" stroke-width="3" fill="none"/>
<path d="M2012 1223l189 147M2012 1223l264 199M1952 1248l272 124M2022 1166l175 240M1966 1252l246 82M2015 1181l216 273M2015 1196l229 194M1975 1195l358 181M1973 1194l182 112M1965 1170l158 229" stroke="#000" stroke-opacity="0.07" stroke-width="3" fill="none"/>
<path d="M2015 1133l298 242M1959 1185l222 121M2025 1152l182 170M1976 1171l174 119M2008 1194l221 194M2050 1148l277 243M1935 1237l370 178M1947 1241l185 151M1941 1244l177 164M2044 1136l76 229" stroke="#000" stroke-opacity="0.07" stroke-width="3" fill="none"/>
<path d="M2042 1134l183 282M1973 1194l219 223M1992 1255l215 195M1972 1225l275 215M1968 1148l263 206M1983 1250l316 178M1965 1242l244 165M1952 1201l322 234M1934 1229l370 134M1982 1254l253 175" stroke="#000" stroke-opacity="0.07" stroke-width="3" fill="none"/>
<path d="M1970 1242l260 91M2009 1212l130 132M2012 1167l103 209M1987 1215l202 199M2001 1170l155 150M2033 1193l183 242M1963 1155l283 242M2006 1232l273 129M2044 1185l128 204M1995 1158l262 189" stroke="#000" stroke-opacity="0.07" stroke-width="3" fill="none"/>
<path d="M2026 1136l129 250M1981 1246l166 97M1961 1200l181 151M1977 1192l283 250M2033 1207l214 210M1961 1223l299 228M1998 1150l164 212M1984 1253l259 196M1948 1251l291 222M2030 1223l188 189" stroke="#000" stroke-opacity="0.07" stroke-width="3" fill="none"/>
<path d="M1969 1228l292 185M1992 1151l268 257M2037 1188l230 208M2049 1178l106 197M1998 1141l182 269M1998 1200l185 217M1962 1191l369 197M2039 1169l132 174M1982 1251l298 112M2023 1176l152 187" stroke="#000" stroke-opacity="0.07" stroke-width="3" fill="none"/>
<path d="M1949 1225l193 172M2005 1253l195 72M2031 1206l215 174M1990 1255l292 179M2019 1246l268 131M1983 1204l206 119M2030 1174l165 162M2035 1141l115 185M2043 1204l279 167M2031 1142l193 259" stroke="#000" stroke-opacity="0.07" stroke-width="3" fill="none"/>
<path d="M1076 1533l339 105M1125 1530l290 126M1042 1530l371 118M1019 1514l428 165M1130 1545l281 101M1126 1538l308 122M1146 1542l264 89M1141 1539l275 119" stroke="#000" stroke-opacity="0.07" stroke-width="3" fill="none"/>
<path d="M1092 1532l323 109M1063 1523l361 138M1090 1542l347 138M1126 1526l276 98M984 1510l437 153M1097 1542l323 133M1088 1544l335 124M980 1508l454 165" stroke="#000" stroke-opacity="0.07" stroke-width="3" fill="none"/>
<path d="M1105 1537l299 90M1083 1531l326 111M1128 1542l288 125M1100 1539l322 130M1111 1537l319 141M1037 1526l408 150M1193 1535l246 134M1106 1536l314 117" stroke="#000" stroke-opacity="0.07" stroke-width="3" fill="none"/>
<path d="M1158 1532l265 136M1067 1524l375 151M966 1505l447 132M1092 1530l331 129M1069 1518l351 152M1128 1533l288 117M1037 1519l397 151M1160 1537l264 113" stroke="#000" stroke-opacity="0.07" stroke-width="3" fill="none"/>
<path d="M1058 1521l374 136M1143 1531l273 122M1089 1531l331 138M1118 1540l291 97M1074 1524l331 107M1180 1535l262 141M1161 1539l275 127M1123 1526l289 130" stroke="#000" stroke-opacity="0.07" stroke-width="3" fill="none"/>
<path d="M1132 1537l299 125M1062 1517l372 158M1095 1548l319 108M1131 1527l281 124M1017 1517l411 142M1042 1519l395 156M1048 1531l375 126M1146 1533l277 147" stroke="#000" stroke-opacity="0.07" stroke-width="3" fill="none"/>
<path d="M969 1505l450 147M1090 1522l329 154M1026 1520l402 136M1179 1533l240 126M1100 1541l327 112M1162 1530l245 99M1190 1535l235 118M1115 1528l295 112" stroke="#000" stroke-opacity="0.07" stroke-width="3" fill="none"/>
<path d="M1074 1527l370 154M974 1506l481 181M999 1511l414 145M1112 1547l321 132M1122 1540l296 111M1054 1532l368 130M1146 1529l289 133M1034 1519l394 142" stroke="#000" stroke-opacity="0.07" stroke-width="3" fill="none"/>
<path d="M1156 1542l259 102M1157 1540l261 126M1165 1538l269 134M1084 1525l345 156M1016 1513l426 166M1080 1530l331 106M1090 1532l321 118M1146 1534l277 142" stroke="#000" stroke-opacity="0.07" stroke-width="3" fill="none"/>
<path d="M1139 1543l279 126M1037 1516l391 141M1069 1523l349 137M1022 1522l424 159M1094 1544l329 129M1075 1524l369 156M1100 1541l335 127M1047 1526l398 156" stroke="#000" stroke-opacity="0.07" stroke-width="3" fill="none"/>
<path d="M896 1513l509 139M823 1512l586 129M812 1512l590 152M886 1503l546 164M956 1506l459 149M919 1510l484 146M806 1496l582 114M974 1501l452 156" stroke="#000" stroke-opacity="0.06" stroke-width="3" fill="none"/>
<path d="M781 1501l609 129M803 1510l617 139M967 1502l444 165M859 1500l580 177M829 1500l599 176M788 1505l630 149M848 1519l562 141M775 1502l638 136" stroke="#000" stroke-opacity="0.06" stroke-width="3" fill="none"/>
<path d="M910 1503l505 152M911 1507l474 104M881 1499l501 107M866 1505l538 144M957 1500l461 152M918 1500l470 125M862 1511l559 140M955 1499l483 168" stroke="#000" stroke-opacity="0.06" stroke-width="3" fill="none"/>
<path d="M860 1504l566 169M890 1502l524 155M874 1512l513 106M858 1503l563 159M780 1503l625 154M746 1498l653 161M776 1498l678 190M767 1497l616 108" stroke="#000" stroke-opacity="0.06" stroke-width="3" fill="none"/>
<path d="M860 1513l570 164M828 1504l556 103M796 1495l613 142M866 1498l569 178M855 1505l572 168M866 1517l557 164M913 1511l509 160M782 1502l606 125" stroke="#000" stroke-opacity="0.06" stroke-width="3" fill="none"/>
<path d="M856 1330l834 -418" stroke="#000" stroke-opacity="0.2" stroke-width="4" fill="none"/>
<path d="M1681 809l6 5M2205 1435l10 5M1682 1328l1 19M989 1439l0 5M1763 1309l3 6M2197 1319l-8 11M963 1485l1 6M1736 463l0 -1M1819 627l1 3M1735 2231l3 3M1113 1383l0 8M1850 1985l-2 1M262 1581l1 3M1745 1006l-4 3M1614 562l5 4M1747 2146l5 -2M1887 967l-4 2M1012 1400l-2 7M2027 1351l-1 -7M1144 1445l3 2M2314 1414l5 2M2128 1366l-1 3M1724 309l-11 -7M1709 1578l-2 -6M1761 2275l-12 -3M1820 2062l1 2M1875 2189l0 5M1655 422l6 1M1947 871l0 -4M2290 1387l0 -5M1511 233l2 2M1841 1679l-6 -6M1542 301l2 -2M1736 2291l0 2M1308 1344l-4 -7M1723 1668l3 1M1622 808l-12 6M1869 1601l4 4M1528 1363l14 0M941 1426l0 1M1105 1432l5 -4M1664 2122l8 1M2054 1254l10 3M1926 948l0 4M710 1444l1 2M1823 2028l4 -4M2235 1365l10 -11M338 1490l5 0M2020 934l6 5M1498 400l3 5M1631 1559l3 0M2234 1478l-5 2M487 1468l8 8M1503 361l-2 -4M580 1373l7 2M1437 1570l3 5M1614 649l-3 -5M1624 400l3 0M769 1378l2 -3M1609 793l-1 2M1558 538l0 0M1673 774l6 -3M1527 272l-1 -3M1865 1404l0 -1M1672 1564l-9 -4M1413 1290l-11 -7M2017 1513l-5 -4M1665 1393l7 -3M493 1440l0 3M1830 540l1 9M1780 443l4 0M1589 425l2 7M450 1453l-3 2M1632 1123l-12 8M1788 938l9 0M1828 1179l-1 -6M2315 1394l-2 -6M710 1378l3 -1M1240 1426l1 3M1751 454l-1 10M2101 1459l5 -2M1786 1338l5 -2M1612 1622l-3 0M1196 1090l1 4M1980 1193l-6 -3M1710 2056l-2 -1M2004 1541l5 -10M1597 681l0 -6M1829 2136l-8 -2M589 1379l-1 -4M1834 737l-8 5M1961 1163l0 -3M1730 779l-3 -6M1695 1803l11 -6M1936 1071l3 -2M1733 1558l3 3M1158 1478l6 -5M1708 1485l-6 -5M1927 1376l-7 -4M640 1417l3 -7M1752 438l2 -6M1429 1453l6 -1M1781 1106l-2 2M1647 387l2 1M596 1449l2 -10M1500 452l6 9M1720 2120l1 1M1589 584l8 -4M1848 977l-4 7M2074 848l2 -3M546 1464l-3 2M1769 1341l3 2M1414 1448l4 8M304 1547l0 -1M522 1442l-1 -1M1079 964l1 2M1418 1484l0 2M1724 523l-4 -6M2204 1485l-5 0M2034 939l-8 0M1693 321l-5 2M1748 591l5 10M1770 370l0 3M1584 252l1 14M1079 1427l-6 -3M1423 1419l-6 17M1957 912l-2 -4M1684 679l1 5M1855 1205l0 -4M1989 1197l-9 -4M929 1406l8 1M1573 746l10 9M1233 1461l-9 5M1984 1509l-3 -2M2112 1494l-4 4M1472 1582l7 -4M1931 1396l2 0M1864 1643l-3 -4M1721 391l9 1M1204 1394l5 -6M996 1396l9 0M1016 1414l-4 7M1631 457l1 0M1661 375l3 2M1424 1469l0 -1M2090 1523l1 7M1887 1407l3 -2M1400 1542l-4 -5M2000 963l-8 -5M1710 1263l6 3M1787 1019l2 11M1489 1264l-4 9M1597 2055l4 -2M1647 2309l7 1M1550 1251l-4 8M1818 1126l3 -2M1743 1077l-1 5M1637 1152l7 8M1702 2055l6 -1M754 1443l5 3M1543 409l-8 -2M1598 739l-3 -3M1856 920l4 0M1648 1094l5 3M1731 2371l5 -3M1684 1200l6 -8M1160 1446l1 1M1780 1070l-7 1M1727 874l-5 1M2210 1362l-2 1M1481 1508l-13 -7M1745 1619l-17 5M1152 1395l4 -4M1935 1412l-1 3M1775 548l1 1M1648 1013l1 4M1593 2196l1 -1M2010 862l12 4M1891 2193l1 -5M1615 1633l-3 -11M1726 1081l-1 -1M1754 541l0 -5M2018 827l3 4M764 1415l-3 1M1796 1971l-2 8M1810 1410l-2 -9M614 1421l-1 1M771 1450l-7 1M1596 2116l-5 3M1690 1303l-2 5M1464 1655l-1 -3M1956 1226l5 4M565 1374l4 10M1962 1174l8 4M1946 1558l-4 -7M1830 1517l-6 -6M1727 399l3 -8M1870 833l-12 9M1837 2346l13 3M1556 219l6 13M2066 1550l-4 -2M1101 1438l-4 -1M1777 2131l1 6M1712 2223l3 6M1536 522l-1 2M1785 1394l7 1M1959 739l1 5M2148 1431l-2 0M1768 554l3 5M1580 360l-2 -1M1849 2087l-6 -2M1811 2377l-2 -1M1957 929l4 4M1657 1501l7 0M1830 1010l2 1M1671 1576l-9 -2M1742 848l-7 2M1811 1022l2 1M1799 1569l-4 9M1764 1342l-2 -2M1827 1165l1 4M1721 476l5 -4M1449 1578l0 -3M790 1392l3 10M2046 1490l-1 8M1840 2378l0 0M1983 1164l1 9M1737 1491l1 -7M466 1451l-1 -3M1973 960l-6 1M1721 1300l4 -2M2020 1231l0 13M1635 466l-9 -2M1797 2236l-5 3M1936 1256l-4 3M1779 1672l-2 -5M1280 1313l19 9M1592 2057l5 -2M1870 2235l-4 5M1604 646l7 -2M1819 1360l4 2M1649 1427l-8 -2M1116 1476l-4 3M1694 2092l-6 1M1839 2309l-1 1M1708 2064l2 3M2237 1323l4 0M1985 867l3 -2M1699 825l3 -7M1816 1103l1 1M998 1369l-5 8M1208 1134l13 -1M1815 2216l2 -5M1936 1283l2 -6M1002 1462l4 -8M1795 2192l-5 -1M1861 1223l4 -7M1843 1692l3 -3M1607 2174l-3 4M1562 673l1 -5M1746 1255l0 4M1719 743l-1 -4M1760 689l4 -6M1461 1539l-3 -4M1775 2374l-1 -3M1555 528l8 6M967 1417l-6 5M1829 2163l-2 -1M638 1473l5 -1M1686 2310l-2 -7M266 1576l-4 4M1673 367l-5 0M1192 1453l-3 -9M1909 2362l-1 -1M1496 342l-4 5M1862 1026l3 -5M2230 1321l-2 0M1430 1251l-7 2M1717 338l4 -2M692 1368l0 -2M940 1418l1 6M1042 1404l-13 5M998 1384l3 2M1752 2144l4 -1M1625 1385l0 -6M1840 2142l7 5M2081 1495l5 -7M555 1440l0 0M1836 713l-1 -5M1441 1651l3 1M2032 950l-3 2M2110 837l5 6M1717 1521l10 0M1824 765l0 1M1815 2428l14 -8M1858 1196l3 2M2025 1525l-3 3M2027 982l0 1M1093 1420l1 -5M2139 1441l-4 -2M1552 1233l-5 -1M1869 2101l-3 0M2045 900l1 4M1693 690l2 -2" stroke="#000" stroke-opacity="0.25" stroke-width="2" fill="none"/>
<path d="M1617 494l0 5M1769 438l-1 6M1812 941l0 5M1776 1631l0 4M1620 267l-1 1M1048 1437l2 -3M1517 244l3 -3M1637 2181l6 -5M1002 1407l-4 4M1746 621l-2 -5M1718 347l3 -3M1679 666l3 5M1724 1374l-10 -5M1705 616l-6 -5M1526 1463l1 6M1664 470l-4 -1M1750 2047l3 1M1576 1228l-2 9M1429 1478l-3 -3M1661 717l2 4M1765 1525l-1 1M1191 1498l6 -2M1459 1272l2 -3M1306 1203l-1 1M1642 434l-4 -5M1718 667l8 2M891 1395l-1 2M1125 1014l1 0M1694 1489l8 -9M1975 1038l-5 6M1378 1240l4 -3M2077 1512l-3 9M1703 1352l-4 1M2098 916l3 -5M1692 742l0 7M1659 2232l6 -2M1782 765l4 1M1648 1533l3 -2M1772 529l2 -10M1911 1234l-4 -6M929 1371l1 1M1725 1357l4 3M1893 1414l-3 -8M1768 1018l4 3M1753 2362l-1 0M396 1513l-1 4M1484 469l3 4M1775 1395l3 -4M1881 2184l2 -3M1738 2030l-2 -5M1742 392l3 -10M1635 1425l5 1M2028 985l-1 -2M408 1450l-2 2M1725 1727l-2 10M1845 2245l5 0M1615 345l1 9M1217 1444l-10 -4M1956 1536l-7 -2M1806 2247l3 -10M976 1388l-2 4M909 1473l9 2M1892 1468l3 2M1919 2278l-2 5M1864 1504l-2 8M1658 1257l-9 -3M1658 510l-3 5M1704 548l1 -5M1367 1516l3 2M1764 351l-10 -1M345 1486l-1 3M1627 377l6 3M1781 1357l-1 4M1642 388l5 -1M1674 2138l4 -1M1517 565l-10 0M1611 2269l1 2M1610 760l-5 3M1929 776l6 3M1774 554l2 -4M1649 1507l1 3M1792 1791l3 -15M1878 1280l-6 0M1735 282l5 3M1734 577l-4 6M1424 1645l2 1M1735 1046l-4 1M1201 1517l5 1M1877 2378l1 0M1839 1476l-3 2M618 1460l-3 -9M1750 288l5 0M1526 1201l-9 10M1638 1329l5 5M1583 1206l-2 -2M1824 1420l4 12M798 1490l-2 -1M1816 1668l-3 -8M1760 2203l7 0M1817 1385l-4 -2M1468 1338l5 -2M1909 871l0 20M1600 798l7 -2M1946 943l5 2M1766 1070l3 -2M1782 1990l-2 -1M1504 270l6 -3M2018 949l2 10M2200 1461l-1 -3M1560 520l2 -5M2097 1490l-10 -5M704 1369l4 1M368 1513l2 1M1738 1525l-1 -3M1786 2190l-1 -2M2034 1531l-3 -1M1093 1495l2 3M1847 685l-5 -7M1931 1098l6 4M1747 2084l-6 4M1872 1447l4 12M1759 1482l4 -3M1718 2217l1 0M1927 1576l-2 -5M1766 1591l6 8M1492 1527l-4 4M1751 2360l1 2M1835 692l-5 2M1688 346l1 5M1504 551l-5 5M1712 1431l11 3M1686 608l5 -1M2057 1391l7 -6M1793 1422l8 -3M1698 1396l1 6M1212 1490l3 -3M1950 920l1 1M1807 550l-1 -1M1639 1311l-2 1M2128 1477l2 5M1120 1463l-1 3M1540 217l-6 7M2227 1438l0 5M1672 2290l-1 0M1943 1132l-4 -3M1827 1033l9 4M1674 1174l-9 -1M1609 1375l2 -7M1112 1479l0 2M1723 2122l-2 -1M2046 1524l-1 -7M375 1495l3 5M1838 2010l-4 1M371 1512l-1 2M1590 449l-3 1M1092 977l-3 0M2078 1274l-5 -4M1737 999l4 9M1833 1248l2 1M1670 1099l3 -9M1609 266l5 -4M1914 2205l0 5M1776 1605l-4 -6M1543 534l-3 1M1830 1575l-7 -5M1797 969l4 3M1496 498l1 2M1221 1508l2 -11M1939 1422l0 0M411 1466l4 0M1005 1396l7 4M1886 2242l-5 1M1171 1388l-2 5M1952 1503l6 8M1805 1154l0 -2M1590 526l-8 -3M1716 1332l-6 -2M1582 1592l2 -3M1900 1049l-2 -3M1807 2168l-3 -7M2024 1265l-1 -3M1228 1160l-11 5M1725 1584l-1 -2M1250 1163l3 -3M1809 1494l4 1M1625 449l-9 0M1831 1350l-5 7M1957 1249l4 2M1583 754l0 5M1530 556l1 -1M1759 2218l6 1M1060 1382l-2 10M1634 591l2 1M1625 887l2 -12M1081 957l3 4M1742 1037l-1 -3M1667 2079l-3 -3M1597 456l1 3M1611 2231l2 -1M1722 1320l3 2M1476 290l3 8M1699 1358l0 -4M1939 1474l4 3M1766 1133l-4 3M1542 1333l9 5M2135 1338l0 11M1098 1391l1 1M1792 1714l-1 -9M1938 1218l-1 8M1664 586l6 4M2141 1388l1 -5M1592 1321l-5 4M1895 915l-1 -3M1607 410l7 -2M1815 1657l-2 4M1777 2027l3 5M2051 831l0 4M1578 506l5 1M924 1382l-3 -2M1560 260l-4 -7M1690 1054l12 1M1609 1609l4 -4M1714 881l0 -3M1241 1236l10 1M1614 478l-3 2M2048 818l9 3M1993 1075l-1 -3M1954 1101l-1 0M1214 1389l-5 -1M1166 1455l-2 6M1998 1096l0 -9M1866 1317l-7 -11M1083 969l-3 -2M1469 1488l-1 13M2310 1359l-1 -7M1793 584l3 -8M1712 2296l0 -2M1537 247l-6 5M1739 1119l-1 -3M867 1409l2 -4M748 1474l4 1M1103 1389l-4 4M1714 584l-3 -1M2080 1334l1 11M1797 2345l3 1M1805 2201l-2 2M1683 298l9 -3M1092 973l0 -2M1850 1754l-8 8M2293 1356l1 -6M2029 905l0 -7M2209 1472l-4 1M1624 933l-6 5M1698 1374l1 1M1624 2067l-7 -4M1705 499l-1 -1M1690 778l-4 2M1794 768l-3 -2M1618 525l7 7M500 1479l-5 2M432 1452l11 -2M1836 2124l1 0M1791 455l2 8M1984 977l-6 7M1708 693l1 3M2117 1453l6 10M326 1507l1 -1M1787 1122l0 0M1856 1103l10 4M449 1461l-3 -6M1966 1280l0 -2M1691 2337l-8 3M1801 1808l-7 5M1675 328l-1 1M1770 696l-10 -6M1906 2415l-1 3M1690 328l-2 -4M1765 2210l1 5M735 1368l-3 -6M239 1610l3 -2M1887 1113l1 6M1321 1512l-14 -12M1731 981l4 6M1776 408l0 -2M1319 1277l-3 0M1880 1533l-2 -1M1602 583l-3 1M1668 1531l3 6M1767 2046l-2 -2M1531 338l-12 -5M1867 2425l7 -18M1522 1279l-5 5M1822 1640l6 -1M1645 1360l2 7M1856 1147l-7 2M1702 785l-1 -2M1830 2171l2 -7M980 1476l5 -1M2085 1476l0 -3M460 1509l0 1M997 1451l10 2M1169 1433l1 -3M1381 1527l-1 -2M1704 841l-5 0" stroke="#000" stroke-opacity="0.25" stroke-width="2" fill="none"/>
<path d="M1994 1475l-3 6M2057 1201l3 20M2090 802l6 -1M1747 2293l3 -6M1677 1408l1 10M1873 2271l3 0M2239 1455l4 1M1390 1477l3 0M2087 1451l6 2M1898 911l2 2M1785 1975l-5 0M409 1517l0 -1M1870 2359l-2 -2M858 1445l-4 1M2098 1505l6 6M1978 1248l-1 -4M1804 2124l-5 2M1537 510l4 3M1735 2353l2 0M1204 1497l-6 -1M1732 1290l-1 -3M1837 1501l-8 1M738 1467l4 -2M1723 1311l3 9M1594 593l4 -7M384 1470l1 -3M1489 1483l-4 2M1535 470l-7 -8M2029 1465l5 -6M1904 2221l-2 5M1673 724l3 0M1769 1039l1 4M1674 1383l-1 7M1702 905l4 2M2236 1421l6 -3M1084 1500l7 2M1709 1056l-6 -2M901 1360l0 -4M1759 971l8 3M1639 450l0 1M936 1365l-2 7M847 1410l1 -6M564 1453l2 7M1714 694l-1 4M1772 473l-2 7M2149 1474l0 -7M1326 1221l-4 -8M1512 1270l-1 -7M1619 2147l1 5M1259 1474l1 -6M1973 1143l5 -1M1650 2203l-2 -2M1743 1292l-10 -2M1781 1488l2 -3M2036 1502l4 1M1070 1434l5 8M1491 1463l5 5M1579 520l2 3M1551 1338l6 5M1866 1147l-2 1M2274 1356l1 6M1603 1328l0 0M1784 2309l1 9M2303 1395l4 -1M1778 2349l11 -7M1330 1541l7 6M1713 418l-9 0M1690 1188l0 5M1768 1182l0 -5M1205 1511l2 6M905 1447l2 -4M1880 1246l1 -7M1866 959l2 3M582 1482l4 1M1477 1221l-6 7M1608 1255l7 5M1569 580l4 -2M1572 1211l8 -7M1693 370l-3 9M2099 791l-3 10M1732 2379l-1 -8M1733 1469l2 4M1710 1311l-5 -5M1559 1201l3 -7M1767 2305l1 1M1844 2214l2 4M1095 1472l5 0M1403 1463l0 -2M1673 1419l5 -1M879 1469l0 2M1862 1075l0 4M495 1432l-2 4M1622 1290l2 4M1873 1109l-7 -2M1974 888l-10 2M368 1468l3 -3M2168 1340l6 -3M1904 1055l4 2M776 1393l1 9M1243 1210l-4 -1M2033 1023l-5 -3M1247 1484l4 -5M1827 1071l-4 0M1221 1134l1 -8M1702 869l2 -1M1827 1106l-1 -3M1819 2153l4 7M1835 1463l6 2M2174 1337l0 -2M1837 1525l5 0M1666 1283l4 11M1044 1457l-6 -3M2037 928l0 2M1802 731l4 0M1731 2182l11 0M1633 757l8 -3M1784 843l-2 -3M1718 612l-4 4M1822 954l-3 -6M1122 1500l4 4M1826 742l3 6M1302 1243l-5 1M1754 600l2 8M725 1467l-8 0M1932 1048l1 -8M1549 1600l-3 -9M1786 664l2 -1M1853 1574l-2 3M2014 1205l4 -13M1725 2104l-5 -4M1769 616l-12 6M1917 2429l3 2M829 1475l2 -7M1914 1326l0 -8M1858 1260l5 -10M1691 709l8 -1M1621 1553l4 0M1904 1324l3 -3M1798 2401l0 -3M1892 1056l-3 4M1758 643l-2 3M2323 1362l-4 9M1234 1131l2 0M1617 284l4 0M1642 598l-6 -6M1829 2420l6 -2M1989 883l-5 -8M1702 1080l-1 -2M1406 1468l2 -5M244 1601l0 3M1621 1030l-6 -5M1706 2175l6 -4M1990 1539l-3 -8M1562 706l10 -1M1761 825l-1 3M1442 1636l2 -4M1719 1563l-1 5M1571 657l0 0M1780 2037l-1 -5M1867 1546l0 0M529 1483l-3 -4M482 1430l6 -6M2054 784l-10 0M1837 2057l-14 -2M565 1478l-2 2M1536 1591l-8 2M1864 2131l-1 4M1672 1487l-6 1M1800 788l0 -3M1533 365l5 3M1373 1508l0 -3M1836 1236l0 0M1843 1522l0 0M1978 984l5 2M954 1473l-2 5M1600 1487l0 9M2023 1362l-3 9M1605 390l1 0M1848 597l-3 3M1442 1512l10 -6M1822 2305l-3 5M1702 538l-1 -4M2242 1327l-1 -5M1717 913l-2 -4M1786 707l-2 4M1552 357l0 0M1919 2241l-3 0M2134 1399l-7 3M1789 1131l0 3M1675 974l-3 3M1800 2003l-6 -8M1531 293l9 -1M2025 1344l1 0M1719 1269l1 -3M1794 1004l7 -2M1033 1498l0 1M1825 1184l3 -6M1499 1251l1 -2M1574 546l2 -4M1637 2299l-4 1M1619 736l1 6M1573 578l1 2M1703 1229l2 -2M880 1487l-4 -1M1282 1252l-8 -12M700 1452l-3 -6M1777 2220l1 3M1637 290l9 -4M1002 1382l0 3M1630 2185l-1 1M2066 1341l1 -2M1992 985l-3 4M2034 831l1 4M1606 584l1 4M1703 750l-3 -5M495 1476l0 4M973 1360l-3 5M1713 580l-2 3M1263 1246l-5 -7M884 1376l5 -2M461 1476l-3 -1M2011 1367l8 4M2081 823l4 5M1498 563l-2 -4M1514 1456l1 4M1517 1284l-1 6M1767 2414l0 -3M1636 2130l4 5M1795 2035l4 4M1920 1059l-12 -2M1788 1593l2 5M1785 675l6 3M1896 1034l4 1M427 1515l-6 0M1706 563l1 2M1861 2307l3 0M568 1466l-5 2M1633 947l0 1M983 1417l-2 7M1030 1418l-1 5M1644 356l-6 -2M1656 2223l-3 7M1653 936l1 -4M2243 1443l1 4M1826 2291l-2 3M1619 1241l-5 -4M1830 2078l-4 10M1814 1074l0 -2M1620 743l0 -1M1813 1338l3 -1M1713 389l-9 -1M644 1451l1 1M1858 1556l1 -3M1884 1058l-2 0M1662 1402l-2 5M1967 1156l-7 -3M1951 1516l2 -2M1813 1439l2 -3M1563 1562l-6 2M517 1430l7 -3M1764 1529l0 -3M2009 992l2 -6M815 1488l0 -4M1801 1606l6 -3M1812 2126l6 -2M1706 568l2 -2M1727 1101l8 -11M1321 1311l4 0M502 1459l0 5M485 1457l-4 -5M1627 622l-6 -2M2008 916l1 2M1627 974l2 -2M1546 593l5 0M1394 1527l-3 1M1288 1182l-2 0M1666 2230l2 -4M1340 1233l-5 -4M2038 912l-1 3M2017 850l11 -2M1876 1569l4 -1M1982 1449l7 1M1641 1308l3 -1M1159 1432l-2 -8M1888 687l-6 3M1506 566l-8 -2M1650 503l1 -4M474 1445l-7 -1M1872 2156l2 4M1803 1129l-8 -3M1602 1226l0 10M1734 1245l-12 2M1802 701l-7 4M1887 2266l-1 2M1616 1540l8 -9M1472 1330l1 6M1931 1028l-6 1M1514 1497l6 -1M1886 2219l-1 3M1569 553l-5 2M1842 1057l7 -1M380 1448l1 9M1481 418l0 -1M662 1385l6 7" stroke="#000" stroke-opacity="0.25" stroke-width="2" fill="none"/>
<path d="M1687 1090l8 4M1629 1015l7 -9M1655 1462l-4 -2M1162 1421l-5 3M1667 1163l-2 10M1773 632l-3 1M1348 1535l-5 0M1083 1405l-4 -6M1796 1106l2 -3M1757 1317l-4 5M1783 473l10 -3M1840 2040l2 1M1701 1017l3 6M1733 264l1 6M1613 1605l3 2M1741 1009l0 -1M1799 2142l3 -2M1828 2095l-1 1M1438 1605l2 -3M1530 444l2 4M1800 1551l3 2M1710 1469l1 0M1833 1615l-8 -4M1920 1238l3 -1M1876 1461l0 -3M560 1466l4 2M1704 1650l5 8M1674 1510l8 -4M1206 1418l0 -4M1531 1526l2 -7M1708 2305l-6 -1M1689 528l1 -5M1364 1291l-6 -3M1145 1029l-7 -6M1661 1487l6 1M2053 1431l-5 -2M1680 1016l1 7M1668 434l-5 5M1063 1406l-1 3M1190 1478l4 -4M2232 1444l-4 4M620 1444l8 1M979 1460l0 9M1784 1107l-3 0M1694 809l0 0M560 1402l2 0M1829 1004l1 6M1889 1481l1 5M1772 1021l2 3M2194 1492l6 0M2049 1420l9 0M1817 1760l2 -10M1898 2250l4 -7M1615 2241l-1 7M1834 1042l2 -5M1498 556l-2 4M561 1419l-5 1M1492 478l-5 -6M1739 584l0 2M1914 1366l6 7M1639 727l-1 -4M1854 956l11 3M356 1476l2 7M1768 796l1 -1M1606 1330l-3 -1M975 1367l-6 -2M1756 465l-5 1M768 1422l-4 -7M1753 1597l-13 -4M1797 938l0 0M1577 480l0 0M1401 1364l8 -9M1936 902l5 7M1823 1521l7 -4M1933 1409l2 3M1917 1318l-3 1M1984 1530l4 2M1439 1234l-7 -4M1156 1051l1 -1M1803 2228l0 4M1341 1371l-6 -4M1889 2440l-1 -1M1695 799l7 -2M1837 1650l1 4M1820 1088l1 9M1631 2271l-1 -8M1861 989l-5 -2M1436 1433l-1 1M2003 1146l7 6M1074 1410l-10 -1M1697 2120l-9 -4M1549 632l-6 -1M1554 1442l-9 -1M1815 529l4 -3M1861 2242l-2 2M1823 1684l-10 3M2280 1349l2 3M1710 598l1 -3M1138 1498l3 1M1731 1578l-7 4M1334 1525l5 -7M1727 1015l-6 -2M518 1422l5 5M1755 2062l7 -1M1918 1551l-14 5M1894 1049l-3 -1M1861 1477l-5 0M526 1497l4 -3M1521 1512l-1 3M1778 1088l0 2M1557 1258l3 -7M1493 1329l-6 -2M2009 1532l-1 -5M1592 1563l1 11M1625 2098l-3 -4M1653 654l6 -3M1804 2152l6 0M1710 1158l9 -12M1600 517l-6 -1M1124 1487l-1 3M1799 1438l6 -5M1810 1353l9 7M2005 1338l12 -2M1756 621l-10 0M1737 1090l-1 0M1704 1465l-4 5M1164 1506l-7 2M1855 2038l4 -2M1988 1442l1 9M1918 918l-4 9M1618 1274l14 5M1663 1561l-2 6M1659 385l-1 0M1982 907l0 3M1582 1506l0 -6M1691 645l-5 -3M892 1374l-2 0M1771 1027l3 -2M1681 2337l2 3M2043 1374l1 -6M1852 1434l-6 3M400 1519l-6 -2M2147 1410l3 5M1747 2123l4 8M1646 977l4 5M1937 781l-1 -2M1499 1257l5 2M1834 1392l-1 1M2101 1316l13 3M1540 562l-2 1M742 1387l-1 1M1439 1254l-2 5M1732 1678l7 -1M373 1481l-1 0M1718 941l7 -4M1736 2217l2 1M1818 1228l0 8M1755 2031l8 5M260 1592l1 2M1735 2025l0 0M1673 1143l3 -7M1502 350l-1 7M1911 1382l0 3M653 1458l4 2M500 1433l-6 -1M1208 1110l0 1M258 1582l3 -2M2038 1518l-2 -4M955 1421l0 -3M1738 2095l2 -6M1645 2234l-3 -4M1675 2256l3 0M1862 1004l0 1M1582 1500l1 -2M1769 756l2 0M1601 359l0 -2M1900 1297l-2 0M353 1517l5 -1M1357 1538l-2 -1M1540 1575l-5 0M1592 487l3 4M1558 471l5 -4M1510 1332l-11 1M1604 1333l-2 1M1630 400l-4 1M2259 1363l6 14M1414 1609l1 2M1884 919l11 -4M453 1513l7 -2M1729 720l-2 2M2044 1404l11 7M1354 1493l2 -3M920 1370l-1 4M1953 1068l-5 5M2281 1430l-7 2M1541 1565l4 3M1801 2366l8 10M263 1584l0 -1M1813 1235l5 1M1629 2260l0 2M1860 1584l1 6M1508 490l4 2M1116 1425l1 -3M1757 528l-3 9M1637 2236l5 -6M1496 1595l-5 -5M1619 269l1 0M520 1448l6 2M1771 1054l-4 -3M1912 2190l-8 -8M1939 1553l2 -1M1753 1364l-6 -1M1768 582l9 3M630 1419l1 2M1749 357l4 3M1698 923l3 -3M1136 1036l1 0M1511 1263l-1 -2M1255 1157l-2 3M1728 2031l7 -5M1647 636l6 -1M1861 1484l0 -6M2044 784l-3 1M1784 2328l9 2M1784 1140l0 -3M2100 839l-5 -3M1744 749l12 3M1991 1481l-2 3M1617 2063l-5 1M1916 2441l0 -6M2108 1412l3 -12M1593 1574l-2 2M1721 1620l0 1M1668 2266l7 9M1995 1052l-12 4M2070 1471l3 2M1700 685l-2 -4M1783 1345l-1 3M760 1355l-6 -1M1531 554l-1 0M1495 368l1 -2M1663 1375l7 -6M1699 1401l3 -1M1820 2093l6 2M561 1430l1 -2M1685 1040l7 -2M1641 235l-5 11M1661 1583l-3 0M477 1513l3 -11M1734 366l3 0M1723 887l-9 -6M1793 2395l4 3M2038 1348l0 -10M1981 1242l-1 -1M1383 1241l-1 -4M1576 299l-1 6M1158 1389l-2 1M1888 2340l6 -2M2345 1382l-3 6M1744 327l1 4M1827 1126l1 -1M2054 1338l6 -6M1590 1536l-1 -4M729 1341l-7 3M1737 815l2 -2M1839 2023l0 -2M831 1462l1 0M1685 965l-1 8M342 1521l-2 -1M2007 1487l2 -11M1723 2316l0 2M417 1508l4 8M759 1344l-3 -3M1976 1474l-4 -1M1646 1276l-2 -4M542 1466l0 0M1787 1376l-2 11M1970 1293l4 -1M1800 1184l-5 -5M1555 304l-11 -4M1656 636l-3 -2M1712 788l-5 -2M1786 2403l-8 -4M1742 2192l1 -5M1097 1375l-3 -5M913 1488l3 4M1694 538l-5 2M1219 1392l-4 -3M1034 1490l-1 8M2061 907l14 1M1830 2216l0 -6M1202 1435l1 -3M1690 844l5 2M1412 1522l-1 1M1624 641l12 -1M1856 1703l-1 -6M1307 1190l-2 -3M1554 1211l5 -10M1710 2203l1 0M1855 1658l1 -1M1447 1425l-2 3M1622 2079l-9 -2M1794 2245l1 1M1705 280l-4 4" stroke="#000" stroke-opacity="0.25" stroke-width="2" fill="none"/>
<path d="M735 1457l0 -1M1129 1417l4 -6M1365 1507l8 -2M1720 2340l4 2M1235 1122l5 -3M2264 1321l3 11M1829 1982l-5 -7M1953 1464l9 5M1781 1685l5 3M1889 1216l-2 -7M1726 2267l1 1M1774 1663l3 4M1817 612l-4 -2M2012 1509l-2 -3M2078 1284l4 7M1599 726l-1 -5M1545 1568l-3 2M1487 1327l1 -2M1813 2057l-2 -1M1257 1167l3 -7M585 1488l1 -5M1761 565l2 3M1746 702l-5 -5M1758 294l-2 -3M634 1408l0 -2M1720 965l-1 -1M1536 272l-2 -4M2032 1456l2 3M1879 1261l2 5M2296 1362l-3 -6M710 1402l1 -3M1829 1399l-1 5M1400 1259l0 -5M1023 1437l2 -7M1812 1401l-4 0M1691 1528l-5 -2M1872 944l5 1M1722 1006l-2 7M1477 1256l-1 -7M525 1450l3 -3M1728 1624l-1 0M2193 1337l-1 0M2054 1164l-5 4M1306 1238l1 4M1763 1516l5 -1M1603 2056l-2 -3M952 1479l0 -2M1348 1471l-6 -1M1570 1498l5 8M1694 461l4 -6M1561 1340l-4 2M2191 1428l-1 -7M781 1339l3 5M360 1519l-2 -3M1627 509l-11 -7M1701 1734l7 -3M1821 964l1 -1M1696 2130l10 -2M402 1485l-5 1M1575 406l-4 4M1394 1273l-2 -9M1916 1139l5 -5M370 1507l-2 -1M1903 2297l-1 3M1526 440l4 4M1436 1547l-2 5M2154 1517l-6 -3M1750 658l6 -2M2016 1301l2 -7M1222 1126l1 -4M1850 736l1 6M1719 1146l5 -9M1519 403l0 1M1662 247l5 -2M615 1485l-5 3M1823 1309l-7 -1M1898 2274l3 -2M749 1368l-3 -10M1842 963l-9 -4M1793 1099l6 4M1804 1364l10 4M1696 2066l5 4M1691 2081l8 0M633 1403l0 3M1603 497l4 5M1661 396l-2 -1M1821 2232l-1 1M1823 2159l4 3M1922 2467l-3 -3M792 1493l4 -4M2067 1327l-7 5M1642 1545l-6 1M1483 1554l-1 2M1920 2350l-1 3M2025 1292l-6 2M1708 1612l2 -3M1937 1536l-2 5M476 1459l5 -7M852 1357l3 -13M1847 1377l11 -4M1611 392l2 3M1771 1112l8 -3M1816 1458l3 2M1830 995l-2 8M1578 1250l1 2M1179 1458l2 1M1763 1104l8 8M1696 1007l-3 0M779 1424l-5 7M761 1413l2 3M2050 888l-4 1M445 1427l-1 3M1722 1481l8 -3M1929 2355l3 3M1789 1647l-2 4M1811 653l0 -3M1545 1522l5 -3M1754 495l2 -3M307 1547l-3 0M1771 2403l0 8M721 1382l5 -1M807 1334l1 3M1598 245l-1 -11M1568 534l0 0M2243 1320l-2 2M1860 1335l2 2M332 1519l1 -1M340 1542l-4 -2M1540 292l4 8M1575 1550l5 6M390 1495l-2 2M1744 292l0 4M1938 2394l-4 8M1761 592l1 10M1696 1290l5 5M1538 582l0 9M1152 1051l0 2M1773 560l-2 0M2027 888l-2 -3M1850 2031l3 1M1136 1022l-3 0M2141 1470l-4 1M1906 1562l-1 -6M1761 1389l11 -3M1773 1669l4 -2M1601 2240l6 1M1740 410l0 -7M1696 483l1 1M1597 1396l3 -1M1695 509l-2 -2M1257 1461l4 -3M1885 2223l3 1M1610 2213l2 2M1663 1429l-4 3M1273 1153l-8 9M1660 865l9 3M1969 1365l17 -3M1907 971l0 6M1791 1680l-3 2M1016 1497l-10 -1M1814 1488l-1 6M1152 1057l-1 -2M1604 2111l-8 5M1293 1212l2 -9M1740 1519l-3 3M1782 1193l13 1M1691 1371l3 -3M1730 1219l-2 -9M1978 1134l6 -1M1610 814l-1 7M1620 2138l1 -5M2153 1420l5 2M729 1352l-3 0M1649 1544l-1 -5M1681 1289l-3 1M1635 309l-3 -5M1839 1594l-3 -2M1861 1515l1 -3M994 1437l-5 2M2037 963l-7 7M361 1514l-3 2M1348 1489l5 4M1707 2287l4 7M1817 2172l6 -5M1941 994l12 -4M1897 2371l7 0M1575 1506l7 0M1685 909l-5 12M1817 2164l5 3M1917 2307l6 3M1517 331l2 2M2021 965l-2 -7M1669 1045l1 4M1614 1233l0 4M1791 1305l-4 0M1771 322l-1 3M1781 1424l-3 10M1847 1042l-8 5M1652 457l2 8M1831 674l-6 1M1605 763l-1 -4M1547 1554l-2 2M1707 1598l2 -2M1095 1451l-2 -3M1799 957l-6 -4M1833 2240l6 3M1809 999l-1 -7M1634 385l-1 -2M1958 963l1 1M1657 565l-4 -2M1608 1309l4 -3M1062 1409l2 0M1705 309l0 2M1325 1210l-3 3M1679 1450l8 2M1750 1069l0 -3M1332 1347l-18 7M1567 304l6 4M1614 1137l6 -6M1604 1306l4 2M2064 886l2 0M1907 2259l5 3M1536 408l-2 3M1358 1261l8 -3M2063 1281l1 -5M1524 483l5 1M1680 2199l3 -3M1760 1881l2 -23M791 1486l6 -1M1922 1245l-3 -2M1870 1587l-9 3M1649 1400l-6 2M1704 420l1 -2M1991 1323l-13 -2M1763 1420l-3 3M1205 1432l-2 0M1212 1424l4 -4M1196 1421l10 -3M1729 2341l-1 -5M2063 1515l-3 8M1980 1057l3 -2M1934 2431l-5 -3M1139 1024l-3 -2M910 1426l4 -4M1668 1460l-5 -3M2092 896l-4 -2M1742 320l0 -2M1780 735l-2 -4M800 1466l1 0M1775 2256l-2 -3M1494 525l2 -4M2142 1489l-6 -1M369 1498l0 -1M1987 1095l-8 5M1772 1157l-1 -1M1960 1153l-2 -3M1620 2164l6 -1M1863 2016l0 -1M1311 1469l1 2M1903 1433l0 7M1737 535l1 -5M1015 1475l-11 5M1623 2134l-2 0M1808 779l-2 -8M1698 2163l0 -10M1237 1431l4 -3M1324 1193l2 1M469 1416l-5 4M1774 838l8 3M1990 1069l2 3M1816 1051l-7 1M1731 1569l4 -8M780 1402l-3 0M1652 1479l0 6M1609 316l-3 -2M1833 1118l1 -2M2020 1471l9 -6M463 1504l1 -2M1788 1081l7 7M1448 1541l10 -5M1753 360l1 -1M1646 584l-2 -4M1901 945l1 10M807 1459l-3 -4M420 1442l-12 8M1722 625l-7 -7M2116 1423l-4 1M1473 1635l9 -3M1744 335l2 -4M1838 755l0 -5M1112 1452l-4 8M1766 2228l-2 -1M529 1390l-3 3M2332 1405l-7 7M1846 1146l3 3M1437 1363l2 -4M1874 2211l2 -3M2180 1490l0 5M1565 504l0 -5M1867 1197l-6 1M1484 250l4 -7M1639 301l-7 2M1591 380l-1 4M1418 1234l-1 -12" stroke="#000" stroke-opacity="0.25" stroke-width="2" fill="none"/>
<path d="M1975 1392l16 -13M1610 1293l-1 -5M1874 2453l-9 0M834 1370l-2 -3M1550 586l1 6M1705 424l-2 -4M1639 1403l5 -1M1601 562l-1 -5M1727 572l0 -2M1404 1329l-6 -3M1688 1421l0 -4M1399 1509l-12 8M1431 1302l-1 6M1933 1056l-2 -8M1698 1437l-2 2M1612 1306l-1 -4M1827 1466l8 -3M1290 1287l-6 -1M1701 818l6 4M1777 1502l1 -5M802 1393l4 1M1628 250l-8 0M1759 681l-3 -5M302 1545l0 2M1721 2328l-6 0M1194 1435l-2 1M1863 2159l0 9M1845 611l-4 5M1967 1123l-8 4M1735 2361l-7 -3M1755 1646l-2 8M1413 1254l3 5M571 1401l-5 0M1718 585l2 -2M1878 754l2 -1M1172 1479l-7 -6M1467 1652l-4 1M1603 1355l4 4M1095 1401l2 5M1352 1521l2 -3M1879 1232l2 -2M1868 1530l-2 -4M2081 888l2 -3M1828 1540l-2 -3M326 1491l-8 6M1667 801l-3 4M1748 1422l-3 2M545 1486l-10 -11M1908 2435l-1 3M251 1605l2 -1M1837 1015l-5 -5M1636 429l2 0M1872 1037l13 0M2320 1385l0 -2M1880 1216l-1 0M860 1397l-4 -8M1672 397l-6 -1M1890 1187l-6 3M1785 1046l-4 -2M1861 2002l-9 -8M1896 2387l-5 3M1820 2234l0 -1M1842 1657l-4 -3M584 1409l1 -5M918 1457l8 -2M2265 1377l14 4M1863 1166l2 -2M1987 1127l-3 6M1540 1482l-2 2M1076 1480l-1 5M1742 2177l-1 5M1943 1013l-2 -2M1613 2223l-1 -3M721 1344l-3 -4M1174 1070l2 -2M1823 1070l0 1M1415 1602l-1 7M1764 1350l2 6M2064 850l11 -2M1723 2150l4 -5M1639 522l-4 5M787 1358l2 -6M2070 1550l-4 1M1178 1091l0 0M1588 409l11 -8M2075 918l6 1M1552 463l5 -7M1807 1620l-4 -6M1910 2303l-1 -3M1750 1383l0 -5M1809 1017l3 5M1700 1315l5 -9M2039 788l3 -3M934 1372l-4 0M1666 1437l-1 4M806 1393l0 1M1496 1468l2 4M543 1380l-1 3M1768 2370l-3 -6M1832 1102l-3 -2M2061 834l-10 1M1802 1120l8 -2M1722 696l5 3M1819 1703l11 -2M1681 539l4 -2M1953 1215l3 -2M797 1340l2 4M1692 996l2 -6M1632 2190l-3 -4M1423 1640l-1 -4M1955 1544l2 -8M1588 1618l-2 3M1885 861l-4 3M1641 754l3 3M746 1350l1 8M2016 999l-2 0M1758 2144l-2 -2M1437 1463l5 -2M1518 1436l-14 -2M880 1419l6 3M1187 1385l-5 -6M1180 1069l-1 3M1948 1170l1 3M592 1477l3 -5M1841 1634l-6 11M2180 1321l9 9M1648 429l-1 -6M2040 1503l2 -2M1533 1568l3 7M1762 987l6 -5M1387 1462l-1 -5M1681 2157l0 9M1874 1099l4 -1M1404 1626l-4 -5M1714 1369l-3 4M1727 438l8 8M1530 497l-2 -4M1749 2314l3 -8M1729 273l2 -2M1665 354l4 -3M955 1418l-2 -3M1827 1336l-10 3M559 1475l6 -4M1844 1973l5 6M1125 1452l6 -4M1357 1521l-3 -3M1496 1214l17 -4M1969 1210l-2 0M1703 1526l7 3M1779 780l2 -10M1650 2155l3 -2M2212 1359l-2 3M1917 2350l4 0M1709 794l2 -6M2050 1328l-8 -1M1810 521l2 4M1228 1206l2 -1M1378 1355l-3 2M1458 1248l-6 6M564 1405l-2 -2M1658 273l4 2M1658 2057l1 -4M2004 1003l-3 3M1796 2342l1 3M1665 957l1 -19M1780 2156l9 3M2056 1558l7 -9M1726 1075l-1 -1M1893 1228l5 -1M904 1422l-2 1M1603 302l-1 -4M1674 249l-7 -4M576 1482l-1 -4M1809 762l-2 10M1670 1498l-6 4M1826 1148l-1 2M1783 824l-14 -9M1714 330l7 -2M611 1406l-1 8M1758 2403l-4 6M1624 546l9 7M714 1396l-3 3M1698 1534l-4 0M776 1489l1 -8M1839 919l0 3M1711 1030l-4 -4M1350 1355l-10 17M1820 1027l-1 -1M2022 1050l-1 -3M1683 686l2 -2M1924 1236l0 1M1117 1011l1 -3M1755 2098l3 2M790 1330l2 0M1225 1428l0 0M1766 1712l-6 3M781 1477l-4 4M1836 972l0 0M1939 1437l-4 -3M1877 1026l9 2M1802 1191l-2 -7M2052 1366l-2 6M1751 1258l-5 0M1956 991l-3 -2M1803 2161l1 -2M1734 1330l7 6M1721 1197l-2 0M455 1447l-5 6M1525 1520l-3 2M2071 1540l0 -8M1919 1242l-1 2M2044 941l6 -6M1184 1439l-2 -1M554 1463l7 3M698 1446l-2 -6M1924 1077l0 3M1775 2320l-2 -10M808 1396l-2 -2M1644 296l-6 6M1713 987l-3 -6M1795 1060l-5 3M2103 875l-2 1M1592 772l9 -4M1721 1068l0 -3M1585 267l-12 -4M1659 416l-4 6M902 1420l0 2M1055 1462l1 5M1569 241l1 1M1628 1353l5 -1M453 1476l2 -1M1933 920l0 -6M1780 685l6 -2M1905 1417l4 1M1948 1284l3 -4M1952 1231l-5 3M1761 2134l1 -2M1691 626l0 -5M1784 2004l-2 1M1695 1550l2 2M1712 1041l2 -1M1937 2356l-5 2M1041 1504l-3 -2M1652 445l3 -8M2259 1465l1 0M1840 2152l6 -5M1521 394l1 5M1743 2208l-1 -2M1538 1618l3 8M1274 1202l5 5M1698 1129l5 -8M1813 1678l0 9M1615 2131l6 3M569 1440l2 -1M1716 1666l6 2M370 1518l0 -4M1498 274l-1 -2M2109 810l1 7M1838 854l-7 4M1602 297l1 1M674 1385l-7 6M2291 1415l-6 0M793 1453l4 5M1622 1223l-6 -5M1860 1420l-3 1M1918 1530l3 6M1655 618l5 -1M1695 655l7 -2M1926 1481l-7 6M1903 1332l-4 7M502 1502l1 -2M799 1343l2 1M1894 1061l-2 1M1821 1096l5 7M1648 2083l3 1M2157 1416l-3 4M1689 1636l4 -11M1248 1221l-7 3M576 1460l-7 0M1745 2185l-1 0M1937 1019l2 4M1640 256l-2 4M527 1468l1 -1M1941 966l-10 0M1788 568l8 8M515 1489l0 -10M1213 1117l-1 1M1888 1440l-1 -13M1438 1627l6 5M1094 1430l-2 6M1838 2330l3 -12M1648 416l2 -5M1772 2392l-2 -1M1793 1115l0 1M1710 914l2 4M1555 398l-4 -3M1854 1228l-1 5M1828 1431l9 1M1093 1414l3 1M1663 741l0 -10M2083 837l2 -9M1650 1372l-3 -5M597 1414l-8 3M1648 523l2 4" stroke="#000" stroke-opacity="0.25" stroke-width="2" fill="none"/>
<path d="M981 1364l-6 2M1001 1386l2 -1M1056 1432l-6 1M1720 796l2 -5M1955 1259l0 -6M1816 503l0 2M924 1466l9 -3M1766 1052l2 -1M1568 2091l3 1M1579 631l1 3M1946 1066l-1 5M782 1408l-1 4M1646 1019l4 -2M1809 2237l-2 -2M1801 1669l3 -4M1874 744l6 2M1863 2172l0 -5M1716 2259l1 -5M412 1519l-2 -2M1662 2312l2 3M1520 1458l-5 2M1894 1266l-2 1M1680 887l-5 -1M1509 1370l3 -2M1521 413l-2 -6M1977 1466l-1 8M1768 1279l-1 6M2303 1413l-1 -11M1866 1003l0 1M1534 533l-1 3M1983 1273l10 10M1782 1363l-2 -2M1573 347l-4 -1M1590 1633l-1 1M1909 891l-12 3M1728 1794l1 -3M1776 1283l-9 2M1711 2262l5 -3M1440 1335l-1 -5M1711 1599l-2 -3M1581 309l1 -1M1594 296l7 -2M1600 1610l-3 3M2111 817l4 1M1704 1023l3 2M1598 1342l-1 -5M1824 942l-6 6M1733 1602l-3 -1M1768 2075l2 -8M1789 2342l0 -3M1737 1780l2 -11M1793 2239l1 5M1945 909l-4 1M719 1351l7 0M1600 2143l-4 6M954 1391l10 -6M1597 2131l3 13M1625 427l-2 0M961 1375l2 -6M748 1392l-2 2M313 1512l-1 7M1759 2091l3 -5M1618 1104l-1 12M737 1473l0 2M1801 1094l1 4M1781 2022l-4 5M1745 1050l3 -1M871 1447l5 1M1874 1225l-1 1M1863 2269l3 -1M1931 2319l-9 3M1591 1576l1 2M1961 1189l2 -3M1825 985l3 -2M1814 553l-8 -3M2197 1368l-1 2M491 1450l2 -7M1681 938l4 -3M584 1415l5 2M1868 955l-2 4M1721 1324l0 2M2213 1389l7 0M1130 1371l6 5M870 1462l-4 -2M1071 1491l4 -6M1402 1283l-6 6M587 1482l-1 1M1428 1509l-6 -9M1677 988l-5 9M1070 1421l3 3M1689 1580l1 1M2077 876l0 0M737 1426l-1 2M1576 528l6 -4M1126 1479l2 2M1623 996l5 -6M252 1598l2 -1M1291 1227l-7 -6M1679 1429l-3 2M1757 389l4 -1M1736 2305l3 5M1644 555l-4 0M1069 1390l-6 3M1684 720l0 0M975 1446l4 1M1657 786l3 2M1678 2238l-6 5M390 1444l5 8M1942 1093l-3 4M1649 2197l-1 4M1852 2320l9 2M1711 712l-4 5M1801 345l-7 -5M2278 1443l2 6M706 1373l1 -3M1769 814l0 -4M1601 283l4 5M2026 1519l2 -3M1613 304l2 -2M1545 450l-3 2M1132 1429l4 -3M1606 229l0 -2M1752 1836l-13 -7M1654 2309l0 2M1514 1210l4 1M817 1348l3 -5M1666 524l3 -2M1629 726l0 4M1477 443l5 -6M1601 1244l-6 -3M1693 2294l-9 -2M890 1417l5 -2M1714 1619l0 -3M1977 1205l-8 6M1909 1112l4 3M434 1432l9 -1M1853 1394l12 9M1774 1000l6 -2M1693 1347l2 -2M1662 881l-9 0M327 1526l2 2M833 1393l5 -7M1230 1408l-3 4M1825 588l1 -4M1590 613l-10 1M2028 1411l0 9M1685 1024l-4 -1M1313 1187l-2 4M1812 1327l4 9M1743 816l-4 -3M1833 2384l5 0M1565 1606l4 0M1746 2245l2 -6M1246 1166l4 -3M2077 864l-2 0M1684 2331l-3 6M1566 1626l-1 -6M1746 1029l-5 6M1795 729l0 -3M1756 609l-9 1M1580 732l15 4M1678 1003l-6 -6M841 1451l3 0M1714 615l1 2M361 1465l4 -4M1900 2444l1 2M478 1408l-9 8M494 1484l1 -4M254 1597l2 1M2144 1346l6 5M1818 1192l-1 5M1561 1596l4 10M886 1354l-2 8M1835 1215l2 -4M1877 1624l-10 -11M1722 1470l8 -5M1515 629l8 14M388 1475l-3 3M1554 1377l4 6M1827 980l0 3M2306 1379l0 -6M2131 1482l-1 -1M375 1509l-3 -3M1886 1028l1 6M1528 373l4 -2M1607 563l0 2M1689 1829l10 -5M1780 2202l1 -4M1790 1492l-1 9M1873 1487l5 -2M558 1444l-3 -3M1890 1335l-8 2M1821 2132l1 2M2197 1395l10 4M1748 315l-2 -2M1997 1274l-4 9M1623 1498l-3 6M2027 1427l-6 1M1572 2100l-4 2M1554 506l3 3M625 1379l1 -1M368 1475l0 -7M1963 928l-2 5M1829 1502l0 -2M1864 632l-6 1M772 1431l-1 0M1521 607l-5 2M1670 2156l-6 8M374 1467l3 2M1489 1378l4 0M1705 341l-3 -10M1369 1519l1 -1M1758 1225l16 7M1952 1271l2 -4M1924 1569l0 2M2064 1257l1 -8M1245 1196l-1 4M1225 1176l-7 -11M363 1487l1 0M1569 445l6 4M1511 1278l6 6M1484 504l-1 -11M1755 780l-2 6M1610 617l-8 -8M921 1495l-5 -3M1656 2295l-9 0M2141 1377l1 6M1768 2165l4 3M1606 1532l0 -6M1649 2301l-3 -6M2077 1381l-1 5M1868 1156l-4 8M1113 1462l-5 -1M2052 881l0 3M2180 1459l2 -3M2146 1458l-6 2M1594 2161l-2 6M1436 1586l2 -1M1669 487l3 2M1592 1511l1 3M1741 2024l-1 -5M374 1462l-3 2M1583 1603l-6 -6M1946 1175l3 -2M1952 1058l0 0M1428 1462l-5 -1M1581 1617l4 4M2300 1370l5 3M1546 325l9 -8M1834 2303l0 0M1857 724l2 4M1542 1382l0 -2M932 1381l1 1M1734 2222l2 -5M1680 374l-4 6M1864 2116l-1 11M380 1487l1 4M1944 1252l-2 1M1452 1273l1 -3M1729 1079l-3 -1M1573 681l4 2M365 1490l0 -3M1731 1552l1 6M1685 576l3 -2M1146 1454l4 4M1685 1136l-9 0M1598 572l-1 8M1502 299l2 -8M1601 2064l-2 -2M1655 1511l-5 0M1503 1259l1 2M1781 395l-5 11M1867 2227l-6 -4M1678 509l10 1M1497 1570l2 -7M2063 1470l-2 2M1634 1489l-7 -3M1728 537l2 -2M1459 1287l4 -5M2000 1515l9 0M1717 267l-4 3M1657 379l4 -4M1693 427l-8 -6M1858 903l-1 16M750 1488l-8 2M1883 2252l-5 -8M1859 2348l-2 3M1048 1471l0 -4M1870 2138l1 4M1653 790l4 -4M1744 2137l3 9M720 1431l-1 -4M830 1502l6 -13M1897 887l1 7M1777 516l-2 3M1945 1263l5 1M1695 2364l0 -6M1727 821l4 9M1962 1502l4 -4M1636 994l-8 -3M1924 1211l12 -7M738 1395l3 -2M644 1391l4 1M1911 1412l0 1" stroke="#000" stroke-opacity="0.25" stroke-width="2" fill="none"/>
<path d="M1774 1340l0 2M1947 916l3 3M1907 1195l-3 -1M1665 315l-2 -6M2292 1378l-2 3M1815 637l5 -7M2081 1345l-2 6M1169 1059l-7 -7M1764 845l-7 1M1844 1121l-4 6M1073 952l1 1M2051 1452l0 4M1459 1646l3 7M1148 1042l-2 3M1929 744l-25 3M1226 1200l3 4M1611 874l16 1M665 1414l-6 -3M449 1519l4 -7M1782 2183l3 5M1009 1410l0 -2M1892 2264l-5 2M1799 1167l9 1M1141 1477l-4 4M1662 599l-7 -2M1721 2357l0 0M1697 2326l-6 11M1827 1173l1 -5M2031 883l-5 2M1116 1007l2 2M1838 1072l-5 5M1631 660l5 4M824 1342l1 -3M2088 1388l2 7M449 1438l-5 -2M569 1460l-4 0M1837 559l-2 1M1582 318l-5 -2M1787 766l4 0M1682 528l7 0M1851 1058l-2 -2M1776 370l1 -3M1890 1177l6 -2M961 1422l-2 5M1602 477l5 -2M327 1530l2 -2M1789 1480l2 2M1797 1317l4 5M1647 2102l9 -1M1900 1191l-1 -2M1786 1353l-4 -1M1408 1463l3 -2M1569 476l9 4M1555 1478l5 12M1947 1398l6 5M1578 465l-5 -6M1985 987l-2 -1M1946 1238l1 -4M1664 1110l-11 0M1628 1247l-4 4M978 1433l-2 -2M878 1441l-2 7M2213 1341l0 0M1848 2137l0 -6M1745 787l4 2M1803 975l-1 -4M1851 1240l1 -7M1624 1294l1 3M1742 2182l1 2M2029 1513l-2 3M1626 291l0 3M1613 400l0 -6M1945 1334l-7 0M1838 614l3 2M1748 1317l5 5M2231 1455l7 0M845 1376l5 -3M1983 1148l3 4M1639 746l2 8M1471 1285l-5 -6M1732 271l3 -2M1745 269l-11 1M1625 338l0 3M372 1506l-3 1M1676 583l0 5M1690 440l-5 12M1820 1013l5 5M1997 1395l-6 -16M1701 1453l-5 -3M657 1457l-1 4M1559 433l-7 -4M1589 305l-3 6M1491 1304l5 -9M1574 329l2 -2M1684 640l2 1M1893 2415l5 5M2082 906l0 1M1621 294l5 0M1757 2164l0 2M1939 1389l2 -5M1867 2014l-4 1M1738 294l-1 -2M399 1441l3 4M2156 1492l4 -5M1659 1573l0 -1M1661 1478l0 9M273 1567l-1 -2M1699 730l4 4M1896 832l-2 -23M1732 2165l1 2M1750 859l-9 2M2140 1460l-4 5M847 1421l0 4M1133 1019l1 3M1779 1484l3 2M942 1396l-12 1M1935 954l-10 -1M1733 1805l-5 -10M1674 2295l-2 -5M1637 1524l0 4M1784 1114l-4 5M1776 1168l4 -4M2115 1515l-5 -3M1602 609l-2 -3M1762 1858l22 -1M1577 1533l-3 -3M871 1412l-3 2M1313 1237l-3 0M1859 741l2 5M1577 1629l4 -6M1656 2133l6 0M1552 385l-7 -3M1892 770l-2 -14M1622 1336l5 -6M1090 1383l-4 -8M1621 2089l-4 0M1435 1491l-6 -13M1640 799l-5 -2M1839 659l-2 -8M1717 287l-3 -2M1482 343l4 1M1910 1479l2 4M1456 1281l4 6M2029 1155l-2 3M1672 2280l3 -4M1800 798l3 9M1148 1386l-6 6M2148 1383l4 3M1665 906l5 10M2127 1374l0 -5M1386 1307l-10 -7M2078 794l-7 -4M1878 948l0 -3M1914 984l-4 5M1892 1110l-5 3M934 1423l-2 4M1635 786l-6 -4M1776 1137l1 1M1561 331l5 6M1789 624l6 4M1940 915l1 -5M654 1380l7 -4M1871 1520l-1 0M2211 1465l3 -4M1723 1128l2 9M1835 1673l-2 2M1713 1631l-4 -1M1490 321l2 4M1844 2031l-2 3M1758 2166l-1 0M1732 2216l-3 2M1774 405l2 1M1326 1205l-4 0M1894 746l9 1M1665 304l-5 -2M1908 1122l-5 -1M1875 2407l7 0M1690 1078l-3 -6M2148 1356l2 -5M1852 2107l1 -1M1941 1378l4 -2M933 1438l-6 2M1755 2131l-4 0M1812 2140l5 2M1681 615l-3 -4M1624 1516l9 5M1759 1047l-1 3M1992 799l27 -4M1463 1282l3 -3M1983 852l5 12M1866 1517l4 3M797 1354l5 7M1203 1411l3 3M1783 359l-4 5M1655 526l-4 1M760 1447l-1 0M1885 935l-7 9M941 1481l2 -5M1779 363l-2 3M1920 1344l8 10M1860 758l-1 -9M1485 1284l3 -6M1416 1457l3 -1M1755 1019l-1 0M1279 1216l-4 3M1611 1555l1 8M1665 934l1 4M1586 1258l-2 -8M1778 335l-6 -3M1762 2339l8 -1M2200 1492l5 -2M1773 2286l0 -1M1233 1139l3 4M1058 1392l5 0M2050 967l-1 3M1649 1514l-2 0M859 1430l-3 1M1602 266l0 -2M1910 931l4 -4M1722 791l-3 -3M1664 1034l-4 4M1503 525l-6 -4M806 1478l-7 1M1899 2353l-2 -4M1973 953l0 7M1497 517l-1 4M861 1423l2 -6M1249 1144l3 0M1690 472l5 0M1802 2269l-3 1M1973 1243l1 -2M1594 228l3 6M1482 1443l0 5M879 1400l-3 -6M1706 534l-5 -1M1838 953l-1 -2M1756 432l-2 0M1812 2071l8 -8M857 1478l-2 7M727 1359l1 0M1748 1759l-2 -6M1762 1749l-15 4M1640 2148l4 -2M2090 1551l1 1M601 1439l-3 0M1664 754l-7 5M1906 2430l1 6M1599 673l-2 2M1027 1377l4 3M2280 1352l1 0M1283 1225l2 -4M915 1365l-6 1M1795 2227l8 1M1586 508l-3 0M1825 845l6 13M1682 2184l1 7M1521 455l3 -5M1818 1339l-1 -2M1650 1551l-1 -7M1687 2224l4 1M1707 781l-3 -3M735 1351l3 3M1562 365l1 -5M2333 1392l-2 2M1692 1358l2 -5M1871 708l3 1M1591 1495l3 3M1604 1381l-2 -2M2164 1363l6 1M2057 1265l-10 2M1596 2184l-7 -2M1744 1323l1 1M1797 721l-3 -3M1727 292l-4 -9M1567 415l4 -5M2035 1162l1 4M661 1376l6 2M1657 493l-4 1M1921 903l-3 15M1783 957l4 1M1626 464l-2 -1M2058 923l-4 0M1861 2016l2 -1M1905 1499l-3 -4M1680 1260l7 -2M1817 2203l2 0M1694 593l-2 -8M1770 335l3 -4M2062 1406l-7 5M1699 939l-3 2M1812 2089l0 -7M756 1341l1 -1M1988 1172l-4 1M1731 1446l3 -1M2028 1482l-3 8M1917 1158l-1 -1M1642 763l-4 3M1696 1095l2 3M1582 234l5 0M1670 1309l-1 2M1010 1407l-2 1M1744 2333l-6 0M1720 2301l6 2M1860 1424l-2 -3" stroke="#000" stroke-opacity="0.25" stroke-width="2" fill="none"/>
<path d="M2218 1352l-8 -2M1474 1567l-3 0M1874 1012l-9 -8M1819 1401l0 -3M1459 1559l11 7M1647 2061l3 -4M1802 2089l2 8M1714 2364l3 4M1865 2278l1 -5M1651 2251l7 3M2186 1355l13 -4M1902 1369l1 5M1987 1187l0 -4M1727 590l3 -7M741 1453l-6 2M2006 927l-7 1M782 1347l1 -3M706 1482l-10 0M1828 1695l4 -2M2267 1457l-4 -9M1739 2153l1 0M1624 1083l-5 5M1877 1560l-8 -2M1511 410l-3 2M1938 1008l1 -1M1831 622l6 -7M972 1386l1 -3M457 1425l6 -4M1819 1211l-6 0M1664 2062l4 5M1893 1492l-3 -7M1713 1353l-3 3M1939 1226l-2 0M583 1385l-2 0M1900 2178l3 5M1451 1301l-3 -8M1215 1495l1 -1M1531 449l1 -1M1709 815l-2 7M832 1444l8 2M1920 2371l1 11M1737 688l1 -1M1559 320l-4 -3M1349 1512l4 6M1699 326l-2 -2M2216 1418l-3 6M948 1362l6 -3M773 1359l-2 -2M1526 1494l-2 2M1670 790l-9 -3M1756 1565l-1 0M1508 442l-2 -1M1702 1409l-2 -8M1194 1097l-4 2M1464 1501l4 -1M1402 1600l-7 -4M1399 1449l-1 2M704 1356l5 5M1425 1476l2 -1M1681 975l2 -2M1910 2393l-2 2M1705 575l2 -2M1601 356l0 2M1591 2066l6 1M1619 760l-1 2M1431 1586l-1 -1M1816 1513l-3 -3M1654 1390l-4 10M1727 1320l-1 3M2022 1491l4 -2M1538 301l4 0M1783 743l-3 -8M1088 1510l-1 1M1522 650l0 5M1295 1540l4 2M1764 1029l-4 3M2059 1501l-1 -1M1430 1241l3 0M1515 1563l-3 -1M1859 1673l1 -12M1905 2371l1 -1M1650 365l-1 1M1677 1618l12 -5M1116 1439l-3 -8M2220 1463l-2 -3M1628 307l-3 -3M1798 1583l-4 -5M1606 829l2 4M1739 1366l5 -2M1176 1391l-5 -3M1713 978l-3 2M1800 599l-5 -4M1917 1016l1 -6M1814 1916l7 -14M1722 1031l3 1M1223 1426l-2 1M1846 588l3 10M1450 1468l-3 5M1777 1123l3 -5M1715 1614l-1 2M2042 778l3 5M553 1445l2 -4M518 1387l8 5M1751 2199l-1 -3M1131 1400l4 1M1661 854l8 1M1826 967l-5 -4M583 1442l0 -3M1558 287l-2 -1M1611 1302l0 -3M2239 1488l-5 -11M1520 480l4 4M1847 629l10 3M1379 1265l3 6M1838 2415l-3 3M2282 1373l-3 7M1686 1350l-3 -4M2263 1417l0 4M1758 286l-3 1M966 1450l-8 2M1991 1417l9 -4M1590 2204l3 6M1986 1362l4 17M1789 2000l-5 3M1496 374l-1 -3M1138 1426l-3 0M1750 2358l1 3M1910 2336l-8 -2M293 1542l-3 1M2087 868l3 1M1892 999l-8 -6M1963 1495l3 4M1426 1602l-11 0M1607 2075l1 -3M1541 525l-2 0M1748 1435l-5 -5M731 1439l-7 -1M1839 1090l0 -2M2282 1395l-3 -2M1517 591l3 -2M2098 1389l0 4M1688 1403l-2 -2M2325 1411l-6 3M1592 468l6 -9M1854 1083l-1 -7M1702 1631l6 -1M1821 561l2 -2M1718 1568l3 1M1629 421l3 -3M1676 676l6 -6M1086 1395l0 -3M1685 2049l-2 3M464 1420l-1 1M1790 438l-3 1M1860 2376l6 8M569 1394l1 7M1541 265l-7 -4M1629 716l0 10M1658 1414l2 -7M393 1480l-3 0M1479 276l2 -4M1587 1371l13 3M1756 290l-1 -2M752 1477l-1 -2M1653 761l4 -1M1750 2418l8 0M1965 1458l-8 -5M1881 2391l1 -6M1673 882l2 4M1102 1414l-4 -1M1614 292l-3 4M2133 1419l-5 1M1807 2383l1 -7M1558 638l-3 5M1650 2181l-7 -5M1571 273l-1 0M1878 1187l0 -3M1772 1063l-4 -1M1921 2437l-5 -2M1563 360l-3 -1M2159 1330l3 -2M1815 2015l6 5M1592 2155l2 6M1944 819l4 -18M1607 1358l0 5M253 1593l1 -3M1630 2195l4 1M1523 1320l6 9M1983 1232l-2 9M1216 1101l-8 -6M1730 2243l-5 -2M460 1493l0 2M1892 1261l5 1M1835 2300l-1 2M1547 258l-2 -3M1557 1642l-11 -14M1909 2234l6 8M1764 1140l-2 -5M1829 2196l-4 5M1572 341l-1 -5M1410 1561l-1 -5M1799 488l0 -5M1903 1199l1 -5M1819 1505l5 6M2135 1350l-5 3M1896 1284l5 -8M1894 1483l-4 3M1867 1212l-2 4M2224 1376l0 3M2138 1509l-6 -8M1791 2177l1 2M1717 2108l3 -7M1659 1067l-4 6M2080 1363l7 -3M2076 1458l11 -8M1066 947l4 -3M1875 675l-5 11M2047 1297l4 1M526 1489l4 4M1758 417l7 0M1520 1528l-5 -1M1501 326l-8 -1M395 1475l-2 -3M1577 454l3 -4M1884 973l-1 -5M1699 586l-6 -1M1839 943l4 -4M1797 1690l4 1M1522 1337l7 -7M1873 939l-1 5M1465 1319l2 -2M1842 1480l-3 -4M2051 840l1 -5M1755 2376l2 -6M1717 2094l0 -4M767 1433l4 -1M1189 1411l-5 7M1855 1027l-2 -2M1496 213l4 20M1812 1583l-6 3M1659 2243l-1 11M1918 1028l-3 -1M1120 1018l-1 1M2090 1552l1 0M1455 1523l-2 -4M2064 1527l-5 2M1605 679l-2 -1M1661 1091l-8 6M1851 1622l5 -12M1076 1374l9 2M1820 1997l4 -8M1791 1408l1 4M1108 1004l1 -2M1852 1063l4 0M385 1480l0 -2M1835 2227l3 -7M1639 1256l10 -2M1772 1343l2 -1M1132 1447l-1 1M2136 1303l2 4M1254 1450l2 -2M1037 1367l3 10M327 1506l0 0M1250 1128l0 9M1796 1613l7 0M2117 1341l-1 -3M1693 549l-4 0M1524 1256l-1 2M1495 1499l1 -4M1730 2285l-7 -4M808 1405l0 -8M398 1497l2 -1M1260 1160l6 1M1272 1233l1 -1M1699 511l-5 -1M1572 324l5 3M777 1364l1 5M2043 829l8 2M1628 343l-4 -3M1843 1525l-1 1M1987 926l11 2M1431 1649l-5 -2M1539 1264l-1 3M2183 1508l-2 2M1267 1193l5 -2M1664 1352l3 1M1786 1616l9 -3M1589 495l0 7M763 1334l-6 6M1979 990l4 -4M1644 856l4 4M1881 1598l-8 7M979 1469l0 0M1869 1497l-5 7M1732 1665l0 -1M1894 2241l2 -2M544 1425l5 0M1673 1051l-3 -3M2123 1482l2 1M1653 804l-6 0M1094 1365l1 5M1680 921l4 5M2161 1413l-5 3" stroke="#000" stroke-opacity="0.25" stroke-width="2" fill="none"/>
<path d="M946 1436l0 2M815 1448l7 -1M1339 1243l6 3M809 1378l6 -9M1954 1529l-4 6M1433 1261l3 -1M2125 1431l3 -10M1753 706l-6 -4M1492 1642l-1 6M758 1483l4 3M2122 1520l5 -2M1593 755l0 2M2080 1351l-4 -3M1795 2181l-3 -2M1838 2200l-9 -4M1743 2187l0 -3M1477 1594l-3 -3M1584 2152l-5 -6M1905 2393l3 2M1862 1633l-1 5M1876 2050l1 5M1419 1499l2 0M1935 1134l1 2M1941 1371l4 5M1524 245l-4 -4M2110 898l1 -4M1805 1522l-1 1M1043 1449l-5 5M1160 1515l-2 5M1554 488l2 -2M1822 2322l3 -7M761 1418l0 -1M1907 1307l-6 -4M1970 1512l-3 4M1737 1655l7 -5M1400 1236l-17 5M2103 1532l10 -3M1984 963l7 -4M1564 1274l-16 -3M2162 1355l3 -3M1535 435l5 7M1669 1246l4 0M2087 1485l-1 3M299 1523l4 0M1485 442l-3 -5M532 1458l-3 5M1023 1459l-1 -3M1755 2016l-2 1M1746 1203l0 -1M1365 1465l5 6M2000 908l8 8M1915 1383l-4 1M1521 655l0 3M1794 1339l-2 -3M1610 305l-3 2M1850 2245l1 4M883 1363l2 -1M751 1465l-9 0M1851 1468l1 5M2092 843l3 -8M1706 2128l4 7M1960 1440l2 1M2077 872l0 4M1784 1320l12 5M1657 1147l1 -11M1791 2319l-6 -1M1033 1429l4 -2M1793 470l0 -8M1810 1655l5 2M1738 2246l2 7M1011 1451l-4 2M853 1469l-2 1M1716 1586l8 -4M1536 284l2 -4M959 1491l4 0M1797 2200l5 3M1977 1531l1 5M1176 1400l-1 -3M1699 841l-2 -4M1737 1170l7 14M1550 648l6 -5M643 1461l-1 8M1899 1248l0 1M1158 1519l3 2M343 1517l-3 3M363 1498l0 0M1164 1413l-2 8M1700 361l-3 -2M1845 1993l3 -2M1863 938l-3 -9M1565 1293l6 3M1733 344l3 3M1714 1296l7 5M1805 873l-7 5M865 1384l-10 5M1751 466l-1 -2M1516 578l-6 -1M1675 2334l6 4M1740 682l-2 5M398 1487l-2 1M1864 2306l-1 1M1642 735l3 1M1590 353l0 -2M1141 1422l1 5M1471 1208l-7 0M638 1481l0 -8M1982 870l2 4M1540 1508l-6 -2M1714 1134l9 -6M1886 634l-10 -10M1718 497l-1 4M2044 1506l-4 1M1820 1040l-6 -5M1703 1507l-1 -1M1778 1645l-7 4M1598 586l1 -2M1766 421l-1 -4M2080 804l-3 0M1660 618l4 0M1868 2388l-2 -5M1722 558l-5 -7M2016 1336l6 -10M1806 541l3 -1M1868 2132l-4 -1M550 1398l0 4M1421 1313l9 -5M1259 1135l-8 2M1812 1633l0 0M664 1463l3 2M1778 1145l0 2M1871 715l3 -6M1506 336l5 -4M387 1493l3 3M1832 754l-3 -6M1604 713l-5 8M1518 253l0 -2M419 1482l-6 -2M1368 1336l-4 2M2182 1436l-1 -1M1857 1066l0 -2M512 1454l-7 -3M605 1464l0 5M1846 1074l-8 -2M1749 574l10 -5M1931 935l13 -1M1878 1486l3 1M484 1439l-1 -9M1499 1434l4 1M1959 907l-4 1M1374 1473l-4 -2M1556 251l1 2M1546 1317l-5 16M1926 2343l4 1M1750 321l4 -1M1681 399l-10 -2M1649 1075l6 -1M1484 1273l3 6M1776 1534l-3 -4M1437 1609l0 -4M1195 1080l-7 0M629 1390l-5 4M844 1443l1 4M1823 1962l0 4M1906 1174l-8 -2M1507 1518l-3 2M1915 2242l2 -1M1837 1534l3 0M1432 1273l-1 5M1518 1602l4 3M1919 1259l1 6M1617 577l-4 5M1676 2211l-7 7M890 1483l-4 1M2261 1400l-3 1M830 1426l1 1M2111 1357l-3 5M1957 1453l-3 -1M1251 1452l-2 2M1574 1237l8 1M1012 1421l-3 0M1871 1419l2 -4M315 1521l-4 -2M586 1474l5 3M1875 623l-5 -3M1765 447l3 2M1908 2464l11 0M1906 2204l-3 2M1174 1416l2 -6M1675 239l-1 9M1476 1385l10 2M1712 1390l-10 10M1378 1490l3 1M1050 1494l-3 3M1579 1263l7 -5M1483 404l-5 6M1909 725l-1 -10M1887 1094l-9 3M1304 1336l2 -4M1709 2278l2 -7M569 1432l3 7M1918 1506l-5 -11M1784 2372l-8 2M2119 1534l-6 -5M1748 1455l8 -14M1782 501l6 7M1615 2054l0 3M1159 1489l5 6M1719 2367l-2 0M1517 356l2 -8M1476 271l6 2M1840 2379l0 -1M1803 396l-1 10M2023 893l4 -5M1116 1490l7 0M1661 1525l-1 5M1820 616l-3 2M1543 631l1 6M1646 2071l4 0M1631 1195l-1 5M774 1331l8 1M1578 304l-3 0M1770 1312l-5 4M1866 615l4 5M1573 2113l3 -1M899 1355l2 1M1035 1471l-2 6M1511 284l-7 7M1692 1607l-5 -2M1617 985l11 6M1381 1459l5 -3M1111 1428l-1 -1M1648 704l0 -9M1787 2281l0 3M987 1371l6 5M1829 585l-3 -1M2032 1013l-3 7M1469 1442l7 5M642 1468l1 4M631 1469l7 4M1505 309l-1 9M2163 1371l5 0M1744 521l3 4M966 1394l2 4M1888 2172l3 -3M249 1598l0 -2M1936 2421l-7 7M1079 1462l5 -5M1895 1043l3 3M1932 1012l3 -1M1649 331l-6 8M1966 1034l-5 7M1821 1397l-1 -1M1985 1136l-1 -3M1603 326l5 -10M1642 2221l5 -1M1636 267l-3 -2M1611 1389l-9 -1M821 1483l-5 1M2094 880l5 2M1648 2080l0 3M640 1379l6 -4M918 1475l3 1M1836 2420l-1 -2M1921 1183l2 -7M1631 1307l4 0M919 1385l2 -5M2157 1323l0 -3M1612 2165l8 -1M2244 1436l-2 7M1788 548l-12 2M1796 1325l6 -3M1788 508l-1 7M963 1385l5 -1M1925 2388l1 0M1225 1471l5 -1M1609 925l-1 6M1523 313l7 -5M1922 2414l0 4M1822 1658l1 -4M1455 1514l-1 5M2288 1434l-7 -4M1716 2239l9 2M1536 1449l-11 2M1551 1586l-4 5M1525 1625l13 -7M1593 339l-5 2M1877 1519l-5 -3M1851 2131l-4 0M1844 1211l-3 -6M1908 913l-6 5M1775 1780l20 -4M1705 984l5 -3M2024 911l4 -6M1483 1474l6 9M1622 357l-6 -3M2029 1278l-3 3M1926 1124l-5 9M1654 497l-1 -3M1706 1357l4 -1M1598 1214l3 12M1474 1591l-3 3M1707 405l-1 -2M898 1453l-2 -6" stroke="#000" stroke-opacity="0.25" stroke-width="2" fill="none"/>
<path d="M1586 2171l0 0M1948 1351l-10 12M720 1445l0 -6M1791 1336l0 -1M1548 1504l0 1M1557 1395l0 -12M1753 2178l8 -4M1870 2058l7 -3M1671 2064l-3 4M1496 1495l2 -3M2083 929l6 -5M1685 2121l3 -5M1617 499l-1 3M1698 958l7 4M1720 1013l-4 4M1765 515l2 -7M1249 1458l0 -4M1726 850l8 0M1810 1431l-5 2M1487 1279l2 2M1726 2303l1 3M1710 696l-1 0M1753 2074l-6 10M1540 1217l6 5M1867 1614l6 -8M696 1417l3 -2M1845 1553l2 6M1615 1481l11 5M1626 1320l1 0M1745 798l-2 1M1770 1032l1 -5M1842 1105l3 7M1702 639l-2 -4M1580 374l-5 4M1939 718l22 13M1945 1050l-4 -1M540 1455l-8 3M1778 1348l-1 1M1442 1473l-3 -1M1808 2183l-6 -1M1524 1580l-5 -4M1623 2190l-1 1M1775 1030l-4 -3M1785 1692l1 -4M1858 2178l0 -5M1851 1539l-5 3M2191 1412l2 -4M1935 2449l0 -18M1869 2268l-3 -1M1611 1588l-6 5M465 1438l3 6M1185 1426l0 -8M1688 1068l-1 4M1315 1265l2 11M1613 1328l-7 2M1600 557l-2 0M1673 560l-4 -5M1822 1376l-5 9M1636 628l-9 -5M1740 1355l7 8M1160 1448l1 -2M1519 367l5 -5M1712 439l-8 -9M1546 1222l1 3M1835 877l-10 -13M1616 1349l0 -1M1774 2226l4 -3M1854 2294l6 3M356 1491l-3 0M796 1420l-2 6M1644 1309l-1 -2M1778 1702l7 -4M1841 1762l-4 -7M1644 1435l-8 2M1712 918l0 3M925 1476l-4 0M1580 432l-6 2M1536 237l-7 1M1900 1158l1 0M1506 1359l5 9M1886 1194l-1 2M1856 2132l-5 0M2109 1430l4 -7M1818 2185l1 2M1814 932l-1 10M2074 811l1 -2M1494 357l-1 1M1716 2079l-3 1M1839 1427l-1 5M1638 488l1 6M1614 2191l7 1M1151 1408l1 -13M1830 706l5 2M1545 1441l-6 -5M1727 773l-6 0M1906 801l-13 9M1865 1110l1 -3M1908 715l-6 -3M1908 924l6 3M1861 2255l-5 4M913 1405l-13 -6M1300 1321l-1 1M1342 1549l-5 -2M755 1407l-5 2M296 1552l-7 -3M645 1422l-5 -5M1721 545l-4 1M1888 1427l-8 2M1726 641l-11 8M1731 2309l-4 -3M1818 1166l1 -3M1803 748l-3 -1M1487 351l5 -3M1508 597l0 0M1566 1243l2 3M1909 1094l2 -5M1601 2232l2 -5M1739 2310l1 2M1860 2395l7 -6M1880 898l18 -4M1648 1339l-1 6M1055 1367l12 4M2139 1426l7 5M1492 1239l8 9M1568 347l1 -1M1674 277l2 1M1526 1592l2 1M1258 1239l-6 -3M472 1471l-11 5M2070 1532l1 1M1971 1525l6 5M1706 672l-4 -2M1747 2273l2 0M1797 1034l1 -2M1812 1599l-5 4M745 1399l4 -1M1915 1252l3 -2M720 1440l4 -1M1950 1293l-2 -9M1594 277l3 0M856 1459l10 2M1055 1451l5 -5M1777 586l-1 -1M1523 674l4 -8M1901 2272l1 2M1800 2313l-2 8M1535 1582l0 -5M1531 633l4 -7M1423 1521l-5 8M1505 396l6 3M1111 999l-1 3M1758 1074l4 -4M1998 919l0 8M1892 1295l1 1M1764 1321l2 -6M1767 1263l6 -1M1817 579l10 5M1849 1225l4 3M1788 843l-3 0M2202 1480l-3 5M1384 1497l-3 -6M1788 2043l2 4M1879 2245l2 -1M2032 1300l-7 -8M1553 685l3 4M1126 1005l7 4M1436 1579l4 -4M695 1461l2 -1M346 1508l2 5M1661 708l-2 2M1687 257l10 -7M1830 2189l5 -4M1825 2255l-2 5M1640 844l4 12M1691 271l-1 9M1690 1230l-1 -1M1942 1144l4 4M1882 1046l3 -8M2188 1440l-6 -4M1957 1050l4 -9M1641 1008l-5 -3M1660 290l1 2M2143 1446l3 -2M1653 1022l-4 -4M1766 2215l-1 3M983 1435l0 1M2240 1348l6 5M836 1489l-10 -4M1071 953l2 -1M1975 994l4 -4M1617 460l2 -2M1645 922l1 -1M1815 1933l0 -17M1763 725l2 12M1913 1495l-5 -5M1546 1628l-6 -2M1115 1418l2 4M1823 922l4 1M1888 1034l-3 4M1778 1365l3 -3M1840 2405l-3 10M1838 2161l-6 3M1858 2062l12 -4M1722 686l0 2M1774 2385l-4 6M1650 982l4 4M1600 419l7 0M1048 1467l-1 0M1707 904l-2 3M1398 1532l-3 4M1703 2049l4 -2M333 1535l3 5M1655 2093l-4 -1M1751 2220l1 0M1288 1279l1 7M2019 795l1 15M1016 1428l-5 -3M1423 1323l-9 2M1784 1857l0 17M1642 1292l-2 5M1057 1407l4 1M1755 2297l-5 3M1641 2212l8 1M1670 2168l0 -1M1903 1362l-1 -4M1524 644l-1 -2M2153 1305l-10 5M1805 1476l-1 12M1743 1429l2 -5M1660 1407l-4 0M1908 1158l7 -1M1862 1054l-4 -9M863 1417l-1 -1M1854 651l-17 0M1689 864l4 -5M1686 779l-1 -4M1875 691l-5 -5M1797 661l4 -3M1666 1491l1 -3M496 1440l-3 0M1632 2124l4 6M1788 1473l1 7M1948 1073l-4 -2M2319 1414l-1 2M1930 966l-6 -5M1716 2187l1 3M1531 256l-1 -4M1519 501l-2 -1M565 1470l-1 -2M1680 1186l10 2M1219 1488l-5 -2M2274 1419l-10 2M1807 1074l7 -1M493 1494l1 -9M702 1462l-3 -2M1886 2273l0 -4M1215 1415l1 0M1762 333l8 2M1476 1447l5 1M1110 1426l0 2M1580 646l5 -1M1918 1109l-4 5M808 1450l-3 5M1555 546l-1 0M1749 1407l0 0M1650 1254l-1 -8M1752 2306l-2 -6M811 1439l1 1M768 1402l0 8M1812 682l-1 7M1928 2334l-2 9M1648 468l6 -3M1621 1355l-1 -7M1739 380l7 2M1694 298l-2 -3M1429 1561l5 -9M1841 2318l-2 -2M1787 2268l1 -8M1699 349l-1 2M1538 280l1 -1M1713 455l-6 1M699 1461l-2 -1M1786 1667l1 3M1755 1544l-1 -5M1600 2080l1 -2M1960 1266l-6 1M1669 2218l-1 7M1580 2139l-5 2M1710 2312l-2 -6M1803 1685l-2 6M1580 1583l2 1M1888 2383l-3 0M1613 333l11 2M1896 1176l2 -3M1819 1140l1 3M594 1425l-5 -9M1726 1633l1 -9M1566 1531l8 0M1620 663l2 -4M1811 589l-4 -2M1614 1035l7 -5M1461 1435l-1 -7M1682 2063l5 6" stroke="#000" stroke-opacity="0.25" stroke-width="2" fill="none"/>
<path d="M2003 1024l-3 10M1773 1071l-3 -3M437 1471l2 -4M1786 2385l0 6M1904 2199l2 4M1734 1075l-4 -5M1568 375l7 3M699 1415l-1 -2M1666 1014l-9 -4M1616 1400l-7 -1M1469 1306l-8 -5M1828 2045l2 -5M732 1486l-5 1M1846 1912l-24 -10M1946 1148l3 2M1764 828l-3 0M1776 713l-4 -3M722 1482l5 6M1546 1562l-5 3M2168 1371l-1 4M1482 233l6 11M2062 1420l-4 0M1861 746l-2 3M2191 1338l0 -1M1218 1425l3 1M1898 1339l1 -1M1868 2356l1 0M1163 1053l3 -5M363 1525l0 3M1935 1264l-3 -5M1457 1614l4 -4M1838 1036l-2 1M720 1370l-7 8M2009 1042l3 -10M1788 1544l-3 -8M1663 816l1 -11M1791 2356l6 -11M1781 1159l-1 5M1755 2224l-3 -3M2241 1392l4 -9M1589 388l1 -3M1878 2081l-5 -11M1565 1250l3 -5M1974 1255l-6 -5M1848 1994l3 -1M1704 2043l2 4M2070 1221l-10 1M1968 1091l-1 7M369 1487l-4 -1M937 1408l8 3M1828 723l0 -2M1687 351l1 0M1795 535l10 7M1460 1301l-9 -1M2167 1390l3 -3M2070 885l-4 2M1693 1460l3 -9M1738 2077l9 8M1776 1307l-5 4M1727 995l-8 2M1657 394l1 1M1990 1116l-4 -2M1452 1255l-3 -2M2207 1451l-2 4M1126 1408l-4 2M1504 1580l4 7M1959 1514l-1 -4M1643 2125l1 -7M1580 587l-6 -7M1434 1243l0 -1M1720 1601l0 -4M1722 705l4 -6M1946 1324l-1 9M1174 1403l2 -3M331 1514l2 4M1507 430l-1 -10M1800 463l-8 -1M1620 922l-2 -2M1806 1726l4 4M1775 1571l-1 -9M1964 1330l-4 8M1574 1580l2 -1M1747 825l-6 1M1797 437l-1 3M1738 2158l0 -5M1695 575l1 -6M1670 916l-1 3M741 1360l6 -1M1810 1314l-6 -5M1043 1391l-3 -2M526 1479l-3 4M2115 1373l0 5M1410 1355l6 0M1418 1529l-7 -3M1632 382l1 -2M1510 420l-4 1M954 1464l7 -2M1905 1066l-3 -1M2017 813l4 -3M1778 1434l6 2M1716 1259l0 6M665 1403l-6 8M1706 1210l2 -12M1097 1416l0 0M1798 1079l-4 9M1223 1497l-1 -1M1723 2225l-8 4M818 1421l-4 -3M1863 1250l4 -2M1481 1346l2 -5M1704 2255l-2 -6M1630 1549l-5 4M1747 298l-3 -1M1843 2077l0 8M912 1445l-4 -2M1866 2208l8 3M1898 1015l4 9M1676 1431l-2 -2M1642 274l5 -4M940 1456l-7 8M690 1388l8 12M2099 1465l-2 4M1641 422l0 3M1696 988l-2 1M1119 1405l-6 0M442 1446l1 4M1803 1449l2 -2M416 1494l4 -12M1715 959l-4 1M1754 350l-5 7M1916 2268l-6 3M2113 870l-1 -10M1856 2224l5 -1M1653 1327l4 1M1768 746l-3 5M1702 318l-5 6M1401 1576l-3 3M1420 1487l-2 -1M1606 254l-4 9M1203 1104l-3 2M289 1535l1 7M1849 1421l-4 4M1687 850l3 -6M1938 1334l-4 -3M1785 667l1 -1M1864 1138l4 -2M1725 356l-1 -7M1765 431l-3 4M1750 2211l2 -5M2030 864l2 -1M1886 959l-1 -1M1958 972l1 -9M2122 831l-1 -4M1782 2291l5 -7M1871 1349l-1 3M1445 1215l6 3M1985 1498l6 -2M1698 1275l6 -10M1937 1182l-1 2M1761 806l0 9M2267 1331l-11 0M2018 987l-6 -1M1251 1150l3 1M709 1393l-5 1M1767 508l-7 -1M1535 1575l0 2M1245 1410l-1 0M1691 2100l-3 -7M536 1406l-6 2M2095 813l-10 5M1818 1596l-6 3M1403 1618l-3 2M1816 2025l5 -5M1900 1522l9 0M1784 2243l-3 3M1932 1386l7 2M1791 663l-3 0M1537 552l-3 -2M1670 338l2 2M1329 1459l13 10M468 1505l-4 -3M1666 443l-3 -5M1514 550l2 2M1673 1090l5 4M1841 2241l-3 2M1771 456l-3 -2M1246 1184l-3 1M1799 1388l8 -2M790 1474l-2 0M1724 2116l2 -1M1893 1552l-9 -4M285 1558l-2 -1M1638 494l-6 0M1543 1542l-2 -6M1898 1540l9 1M1667 2133l-5 0M1770 634l0 3M480 1502l1 1M855 1436l1 -5M1517 1551l-2 12M1566 1519l-3 -6M1381 1540l0 -13M1700 1567l-3 2M1974 1489l-8 10M987 1381l3 5M1159 1071l-2 -7M1900 1186l-2 3M1886 2153l2 5M318 1497l5 7M656 1393l-8 -1M1864 1470l4 -2M1790 1598l5 0M1994 1308l-3 -10M2074 1181l-20 -17M1699 2272l2 -3M1882 2203l-6 5M1538 1274l-5 -4M1227 1124l-3 -2M1931 2400l2 1M1795 2053l-6 3M506 1415l-1 -12M1612 540l12 5M2230 1328l0 -7M1771 330l2 2M1826 2094l2 1M2076 900l-6 -4M320 1537l-2 8M1878 1525l0 6M1712 1456l4 1M1866 2244l0 -4M1813 909l-1 4M1736 1443l-2 1M1599 660l-4 4M1741 1639l3 11M463 1430l-1 0M1572 459l1 0M1800 1416l1 3M1209 1403l0 5M1929 989l-2 7M1783 2129l-6 2M1811 667l-6 11M1846 2272l-2 1M1704 1265l6 -2M1791 1049l1 -1M1730 495l-2 2M1729 1772l9 -3M369 1483l4 -2M1886 1527l6 1M1794 683l-2 -5M1629 591l5 0M1878 968l5 0M1948 1110l5 -9M1481 1322l7 3M1647 250l-3 1M1515 1376l-4 -7M1089 969l3 1M1768 1698l10 4M654 1433l-1 -2M1669 1427l5 2M709 1448l3 -2M1573 308l1 1M2018 1545l1 -11M2055 1531l4 -3M1834 1224l-4 8M954 1495l-1 0M1874 2218l0 -7M1737 810l2 2M1841 827l-2 -4M1695 2251l7 -2M1295 1203l-2 -5M1804 1308l0 0M1707 261l6 9M1662 845l7 -4M2327 1381l-6 1M2012 1280l-2 4M1751 516l-7 -3M2285 1420l0 -4M1745 1365l2 -2M1808 572l5 -8M1244 1149l2 -2M1742 1146l-6 5M1817 2388l1 4M1822 529l-3 -3M1580 498l-1 -3M1812 1990l-5 4M1762 310l-6 1M1660 1452l-4 -4M1004 1501l1 -5M302 1547l2 0M1865 1341l-3 -4M1721 464l2 2M1688 510l5 -3M1865 1384l-7 -11M1765 1291l2 -6M1713 276l1 -6M1835 829l6 -2M1803 1678l0 7M1545 1201l6 -9M1908 1515l1 8M1758 2247l2 -1M1919 1487l-7 -3M1608 589l0 -1M1550 695l5 -6" stroke="#000" stroke-opacity="0.25" stroke-width="2" fill="none"/>
<path d="M1783 841 1761 828 1673 560 1714 881 1705 616 1660 865 1828 723 1713 879 1721 464 1614 478 1662 499 1662 881 1602 266 1702 869 1767 449 1613 262 1702 1080 1792 678 1699 939 1537 247 1770 480 1564 467 1538 301 1738 294 1693 321 1793 691 1556 689 1737 688 1756 432 1806 549 1610 814 1764 351 1707 822 1597 681 1579 322 1664 470 1786 667 1720 681 1717 267 1760 547 1619 760 1749 553 1791 766 1702 538 1525 578 1704 543 1774 519 1774 838 1721 545 1704 311 1642 274 1761 565 1568 347 1787 515 1705 833 1644 856 1669 920 1713 389 1575 434 1694 538 1726 472 1774 751 1618 920 1829 585 1569 476 1713 699 1664 1034 1768 796 1768 582 1657 565 1756 465 1746 702 1847 685 1479 298 1640 844 1536 237 1546 684 1629 421 1695 688 1573 746 1664 754 1741 697 1759 681 1707 781 1665 934 1617 499 1575 304 1604 646 1664 618 1785 667 1523 643 1531 449 1582 318 1683 298 1506 420 1755 1019 1701 1078 1761 835 1530 444 1747 525 1635 309 1688 324 1512 342 1826 864 1705 280 1801 785 1621 910 1537 552 1690 1054 1614 562 1685 452 1672 669 1639 301 1783 473 1546 325 1626 233 1748 591 1477 424 1663 816 1636 267 1622 808 1655 437 1706 884 1619 458 1722 558 1633 757 1788 787 1555 546 1693 507 1790 438 1805 484 1661 717 1731 830 1691 626 1633 265 1595 491 1659 416 1531 252 1741 826 1601 294 1573 347 1811 650 1775 550 1644 310 1760 446 1658 264 1583 507 1694 809 1705 499 1573 578 1660 302 1642 445 1675 303 1795 595 1967 736 1538 256 1536 565 1589 584 1727 292 1602 609 1515 629 1586 508 1608 931 1561 331 1535 525 1780 443 1748 503 1611 633 1695 847 1672 340 1545 450 1705 984 1745 269 1571 273 1642 735 1588 763 1666 443 1576 542 1690 523 1648 416 1693 690 1831 601 1738 687 1734 849 1634 591 1670 555 1584 252 1691 709 1517 356 1555 317 1672 397 1697 359 1519 404 1707 405 1530 308 1531 293 1594 296 1699 730 1715 736 1578 304 1580 498 1556 219 1648 694 1684 640 1824 765 1487 380 1487 308 1555 546 1729 720 1717 546 1842 678 1620 566 1744 749 1492 325 1505 309 1613 400 1745 1006 1598 739 1581 309 1830 540 1571 657 1727 773 1743 734 1769 616 1715 649 1728 375 1569 574 1653 790 1538 590 1682 528 1664 731 1611 874 1771 756 1694 809 1526 440 1658 385 1839 659 1588 601 1602 583 1850 736 1540 279 1678 1003 1776 585 1768 746 1633 552 1496 213 1732 382 1654 932 1526 269 1726 850 1794 768 1676 676 1737 535 1657 326 1816 504 1609 266 1540 217 1733 476 1761 592 1824 675 1646 390 1718 667 1702 734 1576 327 1483 493 1727 821 1521 607 1772 529 1772 307 1567 304 1766 421 1796 440 1628 307 1602 477 1691 607 1644 580 1525 654 1651 892 1757 528 1846 588 1701 797 1638 354 1757 389 1857 724 1697 505 1770 325 1606 691 1771 330 1781 770 1639 450 1773 710 1656 760 1760 508 1800 599 1609 316 1785 675 1655 769 1721 328 1540 535 1508 601 1774 554 1511 332 1607 475 1503 525 1799 483 1541 525 1702 318 1625 338 1517 331 1693 549 1722 705 1687 351 1605 679 1476 271 1688 510 1675 498 1608 588 1479 276 1556 485 1529 503 1753 360 1552 358 1828 721 1746 312 1587 357 1782 501 1511 597 1726 722 1621 620 1803 721 1639 346 1599 584 1617 577 1722 625 1539 526 1699 454 1511 400 1789 668 1580 374 1485 416 1548 558 1522 650 1535 470 1496 374 1840 616 1706 563 1662 247 1502 350 1761 825 1599 401 1558 287 1647 732 1562 365 1870 686 1870 621 1705 575 1597 675 1499 538 1524 644 1645 736 1711 857 1788 548 1709 410 1550 586 1628 343 1859 741 1711 362 1698 923 1642 434 1617 354 1745 382 1725 1074 1607 410 1834 737 1631 304 1735 594 1550 648 1517 591 1557 270 1787 683 1682 671 1820 616 1754 600 1800 788 1777 416 1677 542 1490 321 1661 375 1700 745 1714 584 1593 755 1722 791 1769 756 1590 353 1534 269 1813 564 1647 768 1699 788 1742 320 1514 547 1613 582 1653 654 1636 591 1783 824 1613 394 1664 377 1601 359 1568 534 1685 537 1530 497 1681 693 1675 328 1808 779 1707 261 1665 805 1543 409 1711 1030 2020 811 1869 726 1501 406 1587 234 1621 294 1638 494 1599 726 1784 710 1603 302 1549 284 1595 664 1508 442 1567 415 1619 269 1564 539 1775 548 1776 713 1765 515 1501 357 1759 1047 1797 721 1532 448 1787 439 1859 749 1625 467 1653 493 1747 610 1660 290 1722 283 1739 812 1644 757 1563 667 1509 589 1768 454 1727 438 1562 673 1705 424 1713 276 1819 526 1660 618 1606 584 1648 1013 1602 263 1661 396 1755 288 1648 523 1806 731 1519 348 1831 718 1485 442 1613 333 1830 658 1634 385 1776 408 1529 237 1542 452 1732 618 1693 370 1484 504 1695 655 1632 382 1642 790 1797 661 1620 743 1745 364 1669 351 1732 675 1635 786 1670 790 1640 256 1707 904 1816 503 1765 431 1625 341 1866 615 1601 562 1687 257 1779 363 1768 554 1520 263 1710 914 1720 965 1598 277 1721 1068 1696 1007 1590 613 1673 774 1656 636 1488 244 1601 358 1757 846 1709 794 1708 497 1783 601 1693 427 1647 387 1661 578 1702 785 1557 509 1797 437 1606 254 1740 402 1697 351 1637 663 1794 737 1504 551 1704 778 1644 356 1521 413 1631 660 1893 714 1680 921 1639 746 1733 264 1638 261 1681 399 1697 837 1602 351 1784 443 1666 1014 1676 583 1500 452 1487 351 1570 273 1726 1081 1695 509 1779 780 1685 934 1615 229 1640 556 1660 486 1765 683 1572 459 1650 366 1504 318 1481 418 1609 793 1836 713 1624 532 1609 821 1535 224 1573 308 1663 741 1549 632 1708 308 1644 296 1778 335 1766 321 1606 389 1648 468 1558 471 1642 528 1744 292 1558 638 1644 555 1702 331 1803 748 1693 859 1642 936 1707 786 1555 642 1673 882 1639 429 1531 338 1603 298 1757 675 1500 233 1722 1031 1813 646 1660 284 1524 483 1569 346 1676 720 1506 442 1712 918 1498 400 1734 1075 1678 509 1509 577 1647 250 1712 921 1662 845 1497 488 1578 359 1689 549 1562 534 1569 553 1653 936 1597 456 1787 663 1610 760 1603 326 1627 377 1838 614 1830 695 1482 437 1476 290 1556 254 1540 292 1483 429 1727 399 1605 390 1761 815 1482 233 1613 304 1527 692 1607 563 1718 898 1690 379 1519 367 1614 292 1616 448 1756 752 1665 341 1811 667 1498 556 1690 472 1721 337 1811 653 1605 314 1582 308 1740 410 1699 611 1525 450 1714 694 1555 304 1644 252 1825 588 1807 588 1738 586 1650 365 1484 469 1773 560 1598 459 1622 427 1756 492 1627 509 1696 569 1600 517 1654 881 1583 754 1730 583 1708 559 1714 615 1730 535 1711 595 1701 920 1651 499 1620 267 1683 686 1750 859 1591 702 1702 783 1691 827 1713 760 1689 540 1740 285 1487 473 1815 529 1661 708 1542 301 1606 788 1569 580 1837 651 1704 418 1791 663 1886 634 1628 391 1523 313 1572 324 1577 480 1611 297 1544 572 1776 370 1737 366 1763 602 1834 559 1681 550 1726 641 1502 299 1800 798 1710 876 1630 602 1516 552 1760 689 1558 538 1670 338 1537 510 1752 438 1750 464 1558 537 1533 410 1737 999 1717 287 1657 786 1605 593 1843 717 1495 368 1632 457 1700 685 1615 408 1627 974 1590 384 1603 497 1542 513 1562 515 1528 373 1738 292 1608 394 1679 771 1607 307 1736 462 1622 659 1533 536 1480 462 1794 340 1685 720 1758 643 1643 546 1571 706 1703 750 1577 683 1580 360 1653 804 1786 707 1528 484 1795 628 1541 265 1699 326 1665 354 1612 540 1590 350 1764 828 1679 666 1673 686 1630 486 1577 347 1663 721 1652 571 1643 339 1759 568 1722 1006 1574 329 1794 719 1753 360 1495 365 1833 667 1767 508 1824 716 1484 250 1553 685 1552 256 1706 907 1692 295 1694 461 1617 938 1576 299 1582 523 1686 684 1589 425 1639 451 1686 779 1690 778 1536 408 1571 336 1730 392 1578 465 1876 720 1774 431 1770 373 1593 758 1527 272 1633 380 1746 621 1583 295 1506 336 1571 410 1511 410 1569 241 1734 270 1530 380 1686 642 1483 404 1690 328 1580 646 1517 565 1802 701 1589 305 1881 864 1510 267 1600 798 1723 887 1655 731 1746 331 1864 632 1680 801 1691 645 1666 396 1735 282 1754 432 1690 844 1492 478 1720 508 1875 691 1742 392 1624 933 1717 338 1665 315 1810 521 1611 670 1653 563 1754 350 1709 696 1530 395 1681 482 1701 600 1821 561 1604 287 1563 360 1537 602 1651 527 1522 399 1673 413 1565 338 1696 552 1588 341 1704 497 1677 988 1712 802 1620 663 1770 637 1704 430 1713 987 1800 747 1601 283 1796 576 1736 446 1675 320 1532 352 1577 454 1705 309 1645 922 1662 599 1543 636 1665 957 1840 692 1781 395 1670 855 1519 403 1712 788 1659 385 1700 863 1479 360 1658 273 1695 473 1706 534 1808 572 1734 366 1666 524 1721 344 1598 572 1569 445 1774 405 1743 1077 1536 522 1712 776 1620 268 1592 468 1720 517 1565 504 1718 941 1749 357 1756 646 1675 878 1683 571 1758 417 1688 895 1635 527 1762 333 1706 718 1669 487 1676 381 1743 816 1624 546 1722 696 1756 621 1674 277 1667 245 1739 380 1776 321 1735 1046 1726 1075 1515 248 1625 427 1555 398 1618 525 1531 256 1684 561 1573 495 1608 419 1579 614 1535 625 1639 522 1647 423 1674 654 1713 270 1663 309 1710 598 1690 1078 1707 867 1783 359 1622 284 1477 443 1741 493 1498 563 1518 253 1662 554 1756 311 1619 741 1615 302 1704 646 1536 272 1556 251 1534 550 1638 488 1606 229 1696 930 1586 450 1661 787 1647 270 1515 375 1809 541 1590 449 1570 242 1687 814 1689 351 1799 488 1582 234 1831 674 1694 315 1801 658 1543 631 1579 520 1476 319 1742 708 1745 616 1795 726 1704 420 1601 356 1684 720 1727 1015 1529 494 1795 729 1579 450 1655 596 1685 1024 1724 523 1762 435 1540 391 1756 290 1678 611 1629 726 1741 861 1586 311 1733 344 1749 574 1617 460 1626 294 1685 1040 1622 357 1635 466 1681 615 1831 549 1623 596 1532 371 1611 392 1650 982 1655 465 1751 454 1720 583 1657 394 1655 526 1761 806 1702 364 1658 510 1662 293 1669 460 1641 422 1593 339 1627 875 1504 291 1710 1006 1538 503 1769 438 1706 568 1617 494 1823 766 1620 922 1673 367 1763 725 1684 926 1724 309 1655 516 1668 434 1783 743 1725 257 1493 358 1661 854 1503 361 1699 681 1676 724 1600 419 1793 400 1496 498 1765 737 1600 444 1854 651 1704 841 1523 674 1699 694 1749 788 1552 385 1579 496 1636 628 1699 511 1770 559 1633 372 1572 459 1557 456 1547 475 1699 586 1498 417 1613 961 1641 1008 1795 706 1704 868 1817 607 1597 234 1863 701 1694 593 1536 284 1882 690 1711 712 1528 527 1739 331 1672 489 1686 608 1685 965 1552 357 1591 432 1564 555 1627 352 1782 410 1701 818 1727 570 1817 709 1744 296 1610 305 1584 513 1554 506 1520 588 1583 227 1718 347 1857 632 1738 530 1575 406 1795 535 1631 457 1756 398 1511 233 1647 777 1686 421 1719 276 1681 938 1511 284 1629 716 1753 786 1625 304 1507 430 1769 810 1773 632 1662 667 1697 810 1659 710 1715 909 1702 653 1816 745 1695 799 1732 961 1739 782 1480 417 1486 344 1700 361 1727 497 1580 432 1552 463 1637 640 1644 649 1574 310 1598 245 1766 751 1708 693 1668 299 1551 592 1624 400 1562 233 1727 874 1573 681 1658 395 1603 679 1800 373 1794 613 1520 241 1645 285 1622 730 1782 765 1496 342 1746 1029 1560 359 1680 374 1533 642 1769 795 1744 335 1791 806 1851 742 1522 502 1629 782 1814 553 1513 235 1713 580 1692 742 1554 488 1531 633 1550 695 1563 294 1713 455 1692 749 1748 843 1518 500 1662 275 1481 273 1660 652 1575 449 1652 445 1695 575 1530 556 1624 464 1570 585 1599 673 1602 297 1530 555 1521 655 1656 314 1543 534 1559 433 1792 356 1571 657 1808 495 1655 422 1727 700 1749 771 1610 617 1772 332 1522 658 1697 250 1709 403 1888 687 1756 609 1575 636 1669 869 1736 463 1589 495 1576 528 1487 340 1508 412 1579 631 1653 1022 1716 551 1706 672 1575 670 1624 335 1626 464 1822 689 1714 330 1494 357 1621 323 1793 584 1795 425 1650 503 1803 396 1698 958 1835 708 1719 743 1648 429 1812 682 1620 250 1646 977 1625 887 1504 270 1630 400 1578 506 1568 375 1524 245 1534 260 1760 555 1717 913 1615 345 1811 913 1633 692 1640 363 1519 296 1506 461 1556 287 1739 584 1685 775 1812 525 1506 566 1751 466 1871 715 1712 439 1497 517 1668 366 1516 609 1689 864 1574 546 1574 598 1826 584 1681 975 1628 283 1642 388 1588 690 1583 759 1575 378 1717 501 1580 635 1788 508 1729 273 1689 528 1743 800 1700 635 1646 584 1687 357 1615 554 1592 370 1762 310 1578 363 1750 321 1727 590 1594 277 1713 418 1811 589 1708 566 1669 841 1792 462 1580 732 1648 859 1590 526 1627 622 1598 556 1501 326 1594 228 1727 572 1585 535 1674 249 1694 298 1771 322 1740 682 1617 725 1657 379 1676 588 1521 394 1567 364 1660 473 1725 356 1559 320 1675 886 1594 593 1588 409 1660 469 1604 713 1745 798 1709 753 1747 298 1874 709 1688 573 1680 887 1560 520 1684 679 1778 731 1847 629 1822 559 1552 429 1826 559 1565 499 1809 625 1722 842 1715 617 1713 302 1520 512 1802 731 1592 487 1688 1068 1572 341 1632 418 1641 425 1815 637 1653 750 1523 362 1699 825 1742 318 1490 395 1734 577 1495 371 1605 763 1765 447 1699 708 1675 239 1702 905 1592 772 1776 406 1514 550 1594 517 1810 689 1519 501 1667 801 1835 692 1779 707 1508 597 1875 675 1636 429 1568 534 1531 554 1619 736 1758 294 1534 533 1793 470 1848 597 1585 267 1675 277 1538 562 1538 582 1837 559 1858 728 1642 763 1670 916 1533 318 1580 587 1699 841 1628 250 1791 455 1681 270 1641 754 1664 586 1630 523 1754 537 1742 1037 1750 288 1606 227 1615 502 1687 850 1513 553 1726 668 1704 388 1803 406 1653 761 1649 262 1669 522 1747 825 1875 623 1626 291 1650 411 1655 618 1825 731 1637 290 1636 246 1830 706 1498 274 1817 617 1770 696 1614 649 1578 316 1761 387 1693 585 1663 438 1538 280 1771 456 1705 341 1492 348 1597 580 1547 258 1712 1041 1765 417 1712 541 1608 589 1820 630 1538 368 1691 622 1702 639 1709 815 1482 343 1690 440 1714 285 1730 779 1564 680 1722 407 1647 804 1625 449 1814 611 1742 848 1654 497 1748 315 1657 493 1545 383 1519 408 1769 814 1777 367 1685 576 1562 706 1496 560 1755 780 1535 435 1884 655 1754 541 1626 401 1721 476 1521 455 1780 735 1607 502 1838 755 1588 502 1704 548 1845 600 1737 810 1681 539 1501 372 1497 272 1652 457 1528 462 1787 766 1555 528 1800 463 1832 754 1578 480 1544 300 1520 428 1642 598 1690 280 1758 286 1505 396 1711 583 1573 263 1788 568 1498 500 1560 260 1697 325 1518 251 1540 562 1611 644 1853 675 1494 525 1681 809 1721 773 1777 516 1707 403 1648 704 1744 521 1761 768 1755 656 1696 483 1745 787 1688 346 1730 495 1671 591 1632 573 1601 387 1732 271 1600 557 1510 420 1719 788 1754 320 1742 541 1770 634 1744 327 1764 569 1826 742 1632 495 1508 598 1831 622 1583 282 1665 304 1822 529 1819 627 1653 635 1710 696 1685 909 1689 335 1722 686 1750 658 1696 494 1639 380 1673 724 1770 370 1720 796 1717 739 1769 444 1871 708 1538 376 1589 388 1550 395 1707 456 1786 664 1691 271 1519 333 1807 550 1753 706 1528 666 1718 585 1518 383 1806 541 1647 636 1780 685 1706 574 1817 579 1736 346 1801 345 1675 974 1674 328 1703 670 1629 591 1607 566 1744 513 1697 484 1724 466 1845 611 1585 645 1701 533 1737 815 1517 244 1834 721 1751 516 1478 410 1697 676 1665 906 1817 612 1699 349 1574 580 1512 492 1702 284 1599 660 1637 775 1718 497 1777 586 1789 624 1641 235 1624 641 1805 739 1640 799 1722 688 1496 521 1990 829 1721 391 1609 925 1770 335 1794 683 1809 762 1728 537 1649 331 1595 389 1718 612 1545 255 1764 845 1724 349 1661 424 1540 442 1508 490 1594 736 1700 300 1649 388 1669 1045 1763 464 1611 481 1556 364 1659 611 1772 473 1516 578 1754 495 1546 593 1722 875 1768 759 1617 284 1520 480 1600 606 1598 586 1568 273 1805 679 1591 380 1533 365" fill="none" stroke="none" marker-start="url(#m1)" marker-mid="url(#m1)" marker-end="url(#m1)"/>
<path d="M1845 1112 2008 916 1872 944 1879 1261 2064 850 1331 1301 1827 1071 2032 863 1823 1070 1874 1225 1942 1049 1813 1073 1842 963 2035 926 1982 907 1858 842 1830 1232 1914 977 1864 1148 1796 1179 1909 891 1892 1056 2112 860 1778 947 2034 939 1872 1281 1801 1198 1981 1241 1787 1306 1899 1129 2098 916 1991 1073 2080 938 1861 746 1805 1154 1948 867 1807 1074 1786 990 1816 1051 1766 1133 2074 1181 2074 909 1830 1010 2070 896 1825 845 1950 1264 1973 1243 2035 1162 1802 1099 2024 979 1987 1187 1821 964 1826 967 1880 1246 1846 1074 1939 1069 1941 966 2051 835 2044 784 2021 965 1975 1038 1936 902 1832 1102 1897 887 1794 1116 1833 1248 1924 1101 1915 1027 1969 1055 1961 743 1984 1056 1935 1134 2010 862 1920 1265 1902 955 1828 983 1792 1048 1946 1148 2093 887 2066 886 1935 1136 1961 1163 1894 912 2006 927 2090 802 2083 929 1978 984 1819 1211 1996 976 1797 938 1811 1022 1900 1158 1805 873 1814 968 1788 938 1839 922 1962 1174 1983 1026 1820 1027 1905 1066 1834 1224 1875 1124 2071 790 1773 1531 1990 1116 1879 1232 1820 1143 1902 1102 1674 1429 1849 1149 1961 1189 1961 933 1973 953 1918 1010 1905 1165 1907 1195 1976 866 2037 928 1798 878 1987 1083 1947 916 1892 999 1879 1098 1951 1165 1998 1224 2043 829 1818 1192 2009 918 1916 1139 1898 1227 2122 831 1851 1577 1909 1094 1986 1152 1829 1159 1827 931 1937 1162 1788 1030 1896 1176 1863 1250 1904 747 2094 880 2049 872 1894 746 2048 1239 1835 948 1787 958 2013 999 2003 1146 1790 1063 1936 1071 1946 943 1757 1575 1978 1248 2032 1013 1984 1133 2051 831 1935 779 1867 1197 1989 883 1854 1083 2057 1201 1819 1077 2012 1032 2089 894 1899 1248 1937 781 1894 1266 1862 1079 1944 1252 1952 1231 1983 1232 1924 1211 1823 1309 1838 1036 2010 1152 2022 831 1901 712 1895 915 1542 1363 1838 1072 1860 920 1967 1123 1864 982 1960 1212 1894 1061 1819 1026 2000 908 1947 801 2054 923 1987 1095 1797 937 1818 1228 1793 1115 1840 1127 1890 1187 1869 1267 1818 1126 1766 1086 1957 1050 1959 1127 1914 927 1944 934 2029 1155 1894 1049 1777 972 2110 898 1880 753 1967 1210 1738 1522 1828 748 2061 834 2017 850 1813 1235 1696 1450 1806 772 1802 1191 1933 1177 1977 1205 2020 1244 1958 972 1952 1058 2029 898 1814 1368 1857 1066 1991 959 1781 1043 1803 1129 1885 950 1959 739 1898 1173 1929 989 2049 935 2050 1168 2027 1159 2042 778 1898 1046 1930 966 1942 778 1846 1158 1848 977 2058 886 1893 809 1968 1098 1898 911 1955 1259 1909 1201 1909 871 1877 1026 1406 1304 1770 1042 1822 1025 2051 840 1900 1277 2035 834 2024 1025 2038 912 1997 1087 1938 1008 1854 1228 1820 1013 1860 758 1768 1018 1964 889 1834 1042 2054 1164 1945 909 1885 935 1874 1099 1938 1129 2014 915 2045 904 1825 1184 1764 1029 1775 1030 1755 1048 1898 1182 1943 1013 1860 928 1989 1197 1776 1137 2066 937 1779 999 1825 985 1826 1103 1961 1041 2019 1192 1778 1088 1922 1245 1809 1017 2115 819 1884 993 1904 1055 1823 1071 1865 1216 1810 1118 1833 1077 1835 829 1961 1251 2111 895 1822 963 1836 952 2039 1155 1818 1236 1925 953 2092 896 1890 1177 1816 1103 1961 731 2037 907 1862 1054 1980 1057 1827 1106 1919 1259 1816 1308 2031 883 1861 989 1799 1167 1911 1234 1771 1027 1984 874 1998 919 1947 871 1794 1004 1933 914 1676 1135 1856 1103 1938 1218 1789 1137 1969 930 2089 869 2027 982 1911 1089 1795 1126 2037 989 1918 918 2096 801 1887 1209 1918 1109 1919 1242 1796 1106 1868 955 1873 1109 2025 939 1963 1186 1914 1115 1974 1241 1809 1154 1881 1239 1844 1211 1917 1158 1978 1134 1988 1144 1889 1245 1921 1133 2044 941 1846 1146 1880 1196 1953 1068 1926 948 1908 913 2077 876 1910 931 1842 1057 2032 912 1795 1060 1862 972 1970 1177 1956 1226 1690 1192 2022 1050 1856 987 1824 942 2074 848 1870 833 2111 817 2017 772 2025 885 2045 900 1813 1211 1907 971 1949 1150 1852 1233 1886 1194 1774 1000 1767 974 2121 827 1854 956 1918 1028 1835 877 1838 854 2092 843 1845 928 1773 1071 1895 1150 1892 1062 1880 898 1970 1080 1841 827 1820 1040 1866 1147 1953 990 1914 1224 1800 1184 1993 1075 1948 1170 2076 900 1753 1322 1960 1160 1901 945 1835 1184 2029 905 1992 799 1898 1254 1813 1023 1878 1184 1828 1179 1818 1163 1879 1216 1777 1123 1858 1068 1987 926 1776 1168 1875 1217 2024 911 1868 962 1901 918 1884 1190 1880 1429 1959 907 1762 987 1862 1004 1810 1136 1788 1081 1937 1226 2101 911 1998 1096 1986 1114 1989 988 1988 1172 1946 1175 1904 1121 2000 963 1939 1096 1859 1306 1969 1210 1875 1252 2030 969 1948 1073 1767 1002 1858 1260 2021 819 1918 1250 1952 1058 1929 744 2036 1166 1881 1266 1836 1235 1856 1147 1832 1243 2009 992 1827 923 1983 1148 1496 1295 1798 1031 2000 1006 1960 1153 1818 1030 2070 885 1770 1032 1772 1157 1762 1136 1769 1039 1963 928 2020 934 1769 983 1764 1140 2099 791 1887 1094 1836 972 2037 931 1970 1043 1844 1121 2077 804 1974 907 1946 1066 1655 1407 1822 954 2033 921 2060 1222 1817 1196 1985 1136 2061 907 1861 1198 1780 1119 1942 1093 1892 1268 1874 744 1814 1074 1844 984 1983 1164 1982 941 1896 832 1834 1116 2077 845 1883 968 1787 1122 2044 926 1884 919 1920 1238 1939 1007 1768 1062 1880 747 1935 954 1923 1177 2110 837 1937 1182 1861 1005 2016 999 1993 1154 2089 924 2050 967 1850 810 1798 1079 2064 886 1896 1284 1828 1125 1439 1305 1855 1205 1970 898 1878 1187 1266 1162 1838 750 1857 1045 1878 944 1812 946 1882 1211 2046 889 1924 1227 1842 1105 1993 1207 1836 1236 2003 1024 1828 1168 1908 1122 1919 770 1921 903 1804 807 1797 938 2074 803 2075 918 2081 918 1836 1211 1900 914 1826 1148 1839 1047 1889 1060 1983 986 1794 953 1878 968 2030 864 1889 1216 1904 1194 1973 960 1818 949 1908 924 2069 809 1814 808 1936 1204 1821 1096 1874 1206 1951 921 2076 876 2037 915 2082 906 2027 888 1935 1264 1954 1101 1791 1049 1882 1046 1990 1069 1758 1074 1814 1034 1851 1058 1827 1173 1979 1100 1808 992 1805 848 1925 961 1936 1184 1918 958 1966 1034 1862 1337 2020 958 1801 971 1858 1196 1823 922 1959 963 2064 1257 1479 1361 1827 1165 2017 813 1776 986 1689 1228 1954 903 1820 1124 1852 1063 1989 906 1947 1235 1884 1058 1868 1136 2018 949 1917 1016 1805 1157 1948 1110 1868 1156 1898 894 2022 866 1941 910 1802 1120 2041 951 1910 989 2100 839 1865 1021 1867 1212 2043 857 2113 870 1818 1166 1937 1102 1897 1261 1833 1118 2100 882 2077 864 1839 1090 2099 901 1944 819 1716 1017 1830 995 1864 1096 2115 843 2021 1047 1962 1192 1900 1191 1943 1247 1886 959 1924 1237 1836 1037 1984 1174 1778 1145 1771 1170 1849 1225 1952 1193 1826 1142 1859 1238 1878 948 1813 909 1942 1144 2070 818 1892 1110 1918 1244 2031 868 1866 1004 1888 1119 1839 823 1851 1240 2037 963 2074 811 2103 875 1832 974 1893 1228 1886 1028 1891 1048 1915 1252 2054 877 1967 960 2109 810 2028 1019 2065 1249 1862 1075 1904 1049 1957 912 2034 831 1820 1088 2058 923 1787 1019 1784 1114 1954 959 1956 1213 1864 1138 1902 1066 2049 971 1920 1059 1866 959 2078 794 1799 957 1863 938 1966 1279 1986 1183 1995 1052 2023 893 1983 852 2050 888 2051 884 1836 972 1843 939 1773 1232 1829 1004 1984 963 2067 801 1855 1027 1900 1186 2075 864 2004 1003 1956 991 1839 943 1973 1190 2054 1254 1835 1215 2054 784 2085 898 1908 715 1800 1002 1915 1121 1976 1244 2012 986 1929 776 2039 788 1873 939 2096 870 2042 785 1926 1124 1827 1033 2028 848 1939 718 1774 1025 1835 1249 1839 919 1837 1015 1643 1072 1998 928 1799 947 1865 1110 2075 809 1914 984 1782 1193 1791 1110 1841 1283 1924 1077 1853 1025 1783 957 1955 908 2000 1034 1878 1226 2052 881 2009 1042 1862 1026 2014 1205 2018 987 1834 1111 1855 1201 1863 1166 2101 876 1834 958 2028 985 1812 941 1866 1107 1946 1238 1763 1104 1831 858 1808 1108 2087 868 1982 910 1829 1099 1784 1140 1895 1043 2020 1231 1934 1011 1969 1250 1888 1194 1914 1035 1957 1249 1900 1049 1789 1134 2077 872 1772 1021 1885 1196 1933 1056 1958 1150 1784 843 1866 1003 2069 781 1953 1101 1981 1242 2006 876 1890 756 1900 1035 1648 1540 1800 1065 2048 818 1958 963 1689 1417 1932 1040 1803 975 1804 1152 1985 867 2030 952 1951 945 1915 1157 1797 969 2032 950 2027 983 1865 1164 1908 1158 1759 971 1809 999 1932 1048 1981 1061 1887 967 1953 1215 1788 843 1950 920 1315 1208 1795 1194 1907 977 2083 885 1781 1159 2085 828 1809 1052 2081 823 1906 1228 1839 1088 1898 1067 1880 1216 1828 955 1954 1268 1858 903 1975 994 1909 1112 1874 1012 1873 977 1847 945 1939 1023 1908 1057 1939 1226 1817 1104 1945 1050 1899 1249 1941 994 1902 1024 1925 1091 1980 1193 2081 907 1825 1019 1924 1236 1832 1011 2095 813 1924 1079 1992 985 1886 958 1843 1233 1932 1012 1888 1034 1797 1034 1903 1199 1921 1183 1856 1063 2109 879 2057 821 1945 1071 2039 973 1985 987 2017 897 2083 837 1979 1142 1967 1156 1819 1140 1906 1174 1949 1221 1488 1325 1987 1127 1892 770 1881 1230 1906 801 1758 1051 1988 864 1896 1034 1867 1248 1808 1168 2018 827 1909 725 1898 1015 1849 1056 1859 1017 1847 1042 1856 920 1787 1122 2019 795 2034 862 1789 1131 1812 882 1960 1229 1814 932 1853 1076 2045 996 1790 1158 1957 929 1940 915 1872 1037 1892 1261 1785 1046 2004 1170 1830 1216 1942 1253 1899 1080 2080 804 1943 1132 1968 1091 2012 1065 1974 1237 1806 1211 1979 990 1928 1265 2085 818 1887 1113 2033 1023 1900 1158 2081 888 2096 836 1933 920 1780 1070 1869 1182 1861 1223 1974 888 1885 1038 1827 1126 1878 754 1499 1333 1931 935 1973 1143 1931 1098 1838 953 2070 1221 1928 1020 1805 1012 1949 1173 1793 1099 1925 1029 1927 996 1885 861 1937 1019 1984 977 1941 1012 1931 1028 1780 1164 1905 1147 1801 1094 1882 1057 1884 973 1827 980 1982 870 2060 930" fill="none" stroke="none" marker-start="url(#m2)" marker-mid="url(#m2)" marker-end="url(#m2)"/>
<path d="M1701 1734 1789 2159 1772 2392 1818 2123 1842 2041 1766 2215 1864 2116 1753 2178 1716 2212 1794 2245 1866 2268 1821 2132 1749 2272 1723 2225 1629 2132 1601 2053 1707 2287 1838 2330 1670 2083 1798 2023 1823 1962 1768 2075 1883 2168 1572 2100 1740 2019 1758 2417 1787 2268 1585 2173 1738 2288 1676 2211 1843 2086 1728 2336 1716 2079 1783 2129 1683 2195 1732 2379 1787 2284 1629 2260 1675 2334 1701 2269 1755 2016 1733 2104 1915 2242 1933 2402 1803 2161 1739 2310 1826 2094 1753 2362 1719 2367 1656 2223 1917 2307 1613 2223 1753 2017 1852 1993 1771 2338 1898 2250 1793 2239 1839 2302 1601 2162 1752 2363 1854 1985 1879 2377 1709 2149 1586 2171 1653 2229 1717 2090 1782 1994 1725 1814 1791 2356 1755 2031 1694 2092 1863 2172 1762 2132 1701 2102 1786 2390 1820 1997 1597 2055 1886 2153 1848 1994 1922 2414 1877 2055 1866 2244 1712 2170 1685 2121 1920 2371 1908 2361 1725 1727 1863 2128 1807 2220 1856 2132 1775 1780 1864 2131 1872 2156 1585 2168 1780 2037 1614 2248 1672 2280 1898 2274 1905 2371 1693 2196 1751 2199 1758 2101 1610 2051 1904 2199 1799 2126 1908 2435 1660 2076 1859 2243 1807 2235 1829 1982 1898 2420 1802 2089 1795 2227 1919 2278 1873 2271 1755 2131 1891 2193 1761 2174 1819 2153 1780 2032 1922 2467 1612 2220 1901 2272 1624 2181 1728 2358 1815 2015 1883 2252 1675 2256 1904 2419 1931 2400 1829 2136 1672 2123 1936 2421 1819 2311 1712 2203 1811 2315 1747 2223 1603 2204 1656 2133 1725 2104 1919 2241 1906 2369 1863 2269 1784 2328 1835 2418 1592 2057 1858 2062 1685 1845 1773 2422 1691 2051 1637 2299 1664 2122 1761 2134 1720 2101 1842 2034 1760 2203 1866 2101 1798 2401 1625 2098 1644 2176 1637 2236 1885 2383 1840 2040 1863 2168 1827 2024 1760 2246 1871 2143 1855 1980 1769 2224 1917 2429 1857 2351 1900 2398 1752 2144 1846 1912 1646 2071 1929 2355 1820 2234 1672 2243 1784 2004 1886 2269 1664 2062 1865 2278 1838 2200 1807 1994 1888 2383 1808 2376 1867 2227 1649 2197 1899 2353 1912 2263 1712 2296 1916 2435 1884 2213 1779 1997 1729 1772 1795 1776 1843 2077 1816 2025 1861 2321 1633 2299 1851 2131 1718 2217 1795 2192 1654 2311 1843 2236 1584 2152 1825 2255 1596 2149 1896 2213 1789 2342 1664 2164 1649 2301 1876 2050 1655 2093 1592 2166 1735 2025 1863 2016 1721 2211 1695 2251 1850 2031 1748 1759 1667 2133 1845 1993 1835 2227 1829 2420 1662 2312 1792 1791 1573 2113 1678 2238 1863 2159 1903 2183 1811 2377 1814 1916 1779 2173 1849 1987 1861 2242 1877 2378 1703 2049 1594 2196 1710 2067 1738 2030 1729 1791 1626 2163 1885 2285 1644 2119 1873 2160 1790 2191 1799 2038 1902 2334 1931 2319 1620 2151 1830 2216 1839 2023 1698 2154 1750 2300 1795 2053 1915 2210 1610 2213 1810 1730 1761 2275 1780 1976 1868 2356 1581 2114 1659 2232 1828 2045 1678 2052 1866 2384 1824 1989 1737 2234 1634 2201 1757 2166 1739 1830 1833 2240 1823 2260 1834 2303 1721 2356 1782 2291 1717 2190 1892 2264 1716 2259 1855 2038 1723 2317 1742 2177 1907 2438 1900 2178 1720 2301 1762 1749 1721 2317 1888 2172 1597 2131 1634 2196 1870 2359 1782 2005 1648 2080 1720 2340 1815 2428 1902 2226 1826 2291 1683 2052 1695 2359 1838 2415 1788 2260 1637 2181 1819 2392 1824 2201 1580 2065 1887 2266 1607 2174 1861 2307 1615 2131 1780 2156 1797 2200 1856 2224 1792 2144 1771 2411 1767 2202 1767 1815 1846 2219 1892 2187 1853 2031 1629 2263 1775 2320 1755 2297 1901 2446 1899 2409 1773 2285 1599 2062 1736 2217 1642 2221 1822 2167 1721 2328 1898 2460 1607 2075 1894 2241 1827 2162 1717 2094 1768 2306 1733 1805 1732 2216 1798 2322 1735 2025 1860 2376 1758 2166 1693 2294 1915 2387 1710 2203 1812 2089 1773 2286 1860 2217 1694 2058 1755 2098 1697 2233 1775 2256 1702 2055 1747 2146 1678 2255 1750 2047 1839 2022 1777 2027 1782 1990 1726 2115 1744 2137 1795 2181 1789 2339 1829 2163 1822 2134 1697 2120 1709 2278 1755 2062 1762 2229 1743 2184 1667 2225 1742 2192 1774 2371 1858 2178 1859 2348 1849 2349 1780 2202 1869 2152 1897 2349 1799 2270 1576 2112 1842 2309 1914 2221 1664 2072 1861 2002 1837 2057 1698 2163 1781 2022 1699 2081 1684 2292 1830 2409 1866 2453 1917 2241 1632 2190 1856 2259 1750 2211 1747 2084 1612 2065 1906 2448 1750 2287 1703 2195 1788 2055 1579 2147 1664 2315 1762 2322 1699 2272 1791 2177 1907 2259 1868 2388 1738 2218 1661 2194 1840 2378 1607 2240 1656 2295 1759 2091 1700 1824 1772 1996 1675 2230 1723 1737 1716 2187 1846 2283 1685 2320 1738 2077 1682 2184 1840 2152 1788 2043 1908 2395 1799 2142 1888 2340 1616 2261 1852 2320 1879 2245 1767 2305 1620 2164 1822 2305 1650 2155 1810 1770 1861 2223 1671 2291 1870 2058 1757 2164 1650 2092 1872 2071 1866 2273 1684 2303 1835 2300 1789 2047 1801 1808 1630 2185 1731 2309 1834 2272 1881 2243 1861 2255 1811 2303 1736 2305 1910 2300 1804 2096 1751 2330 1656 2101 1869 2338 1774 2385 1867 2014 1594 2161 1777 2131 1802 2182 1684 2331 1811 2083 1624 2067 1630 2257 1870 2365 1604 2227 1592 2081 1725 2241 1726 2303 1781 2245 1687 2069 1667 2079 1838 2385 1748 2239 1804 2152 1916 2441 1858 2173 1850 2274 1622 2094 1687 2224 1792 2179 1689 1829 1856 2185 1886 2273 1820 2064 1845 2272 1922 2311 1818 2185 1909 2362 1922 2322 1680 2199 1910 2336 1675 2275 1731 2371 1877 2271 1752 2220 1650 2181 1782 2183 1784 2372 1934 2431 1736 2368 1932 2358 1722 2083 1830 2122 1677 2075 1859 2035 1890 2390 1728 1794 1747 2293 1847 2147 1861 2016 1848 1979 1654 2153 1752 1836 1593 2196 1829 2196 1750 2418 1633 2293 1691 2100 1784 1874 1647 2061 1728 2031 1809 2237 1762 2062 1753 2048 1806 1726 1827 2096 1590 2182 1749 2314 1850 2245 1732 2165 1851 2404 1715 2328 1597 2067 1765 2218 1766 2011 1841 2318 1830 2078 1897 2371 1887 2439 1785 2188 1820 2232 1904 2221 1808 2183 1671 2064 1830 2171 1752 2206 1819 2187 1917 2350 1716 2255 1658 2057 1612 2215 1731 2182 1612 2266 1895 2238 1811 2056 1742 2206 1882 2385 1683 2191 1815 1933 1812 2071 1796 2342 1848 2137 1785 1975 1770 2391 1780 2216 1618 2089 1746 2245 1813 2057 1688 2116 1601 2232 1875 2195 1838 2221 1864 2306 1632 2124 1819 2202 1612 2271 1868 2132 1895 2434 1710 2312 1592 2155 1613 2154 1617 2063 1786 2385 1568 2091 1784 2243 1844 1973 1659 2053 1620 2138 1789 2000 1674 2138 1650 2057 1658 2254 1795 2246 1764 2227 1775 2374 1837 2346 1762 2339 1881 2184 1778 2349 1793 2330 1738 2095 1765 2210 1736 2291 1723 2316 1758 2041 1646 2295 1654 2309 1920 2431 1747 2273 1612 2165 1785 2318 1870 2235 1828 2095 1668 2266 1738 2333 1730 2243 1771 2168 1650 2071 1849 2087 1874 2218 1810 2203 1695 1803 1846 2272 1642 2063 1711 2271 1806 2247 1711 2262 1840 2378 1768 2165 1735 2353 1645 2234 1674 2295 1766 2228 1863 2015 1691 2225 1762 2234 1723 2281 1817 2172 1729 2218 1863 2045 1702 2304 1795 2035 1746 2382 1893 2415 1740 2311 1920 2350 1678 2137 1924 2268 1838 2161 1685 2049 1771 2068 1875 2189 1591 2119 1869 2101 1835 2186 1870 2138 1648 2083 1664 2076 1739 1769 1751 2130 1651 2085 1687 2174 1938 2394 1852 2107 1601 2078 1808 2177 1779 2390 1902 2300 1759 2218 1816 2035 1636 2130 1726 2253 1681 2166 1802 2350 1906 2430 1791 2319 1571 2092 1754 2051 1712 2294 1837 2124 1738 2246 1840 2405 1870 2245 1760 1881 1804 2159 1706 1796 1914 2205 1771 2403 1708 2064 1753 2074 1797 2399 1651 2251 1793 1813 1874 2453 1836 2420 1696 2130 1823 2159 1724 2343 1889 2440 1896 2387 1741 2089 1729 2341 1777 2047 1717 2368 1922 2418 1765 2043 1839 2309 1882 2407 1821 2020 1866 2240 1833 2384 1819 2199 1869 2356 1780 1989 1596 2184 1756 2142 1649 2133 1640 2148 1774 2226 1686 2310 1735 2231 1650 2203 1937 2356 1876 2208 1767 2414 1822 2322 1830 2209 1835 2437 1683 2341 1805 2201 1886 2242 1822 1902 1695 2364 1912 2190 1604 2111 1751 2220 1777 2220 1702 2221 1734 2222 1796 2185 1646 2220 1755 2224 1891 2169 1737 1780 1622 2191 1568 2102 1797 2345 1832 2164 1696 2066 1758 2370 1816 2006 1824 2294 1834 2012 1601 2240 1666 2230 1638 2283 1786 2120 1628 2187 1709 1731 1619 2147 1916 2282 1743 2208 1844 2031 1903 2206 1825 2314 1884 2180 1838 2243 1745 2185 1834 2303 1590 2204 1839 2315 1704 2255 1800 2313 1800 2003 1767 2046 1776 2205 1702 2249 1710 2056 1793 2395 1768 2370 1784 2309 1807 2383 1752 2306 1747 2123 1726 2306 1910 2271 1787 2281 1929 2428 1836 2124 1886 2219 1840 2379 1751 2360 1738 2158 1797 2236 1810 2152 1611 2231 1707 2055 1601 2064 1897 2313 1844 2214 1856 2279 1670 2168 1921 2437 1906 2204 1803 2228 1784 1984 1712 2223 1764 2035 1866 2208 1681 2157 1614 2191 1796 2153 1596 2116 1727 2267 1882 2203 1875 2407 1729 2209 1611 2269 1855 2197 1817 1760 1823 2028 1773 2310 1910 2393 1658 2159 1852 2114 1799 2346 1823 1966 1812 1990 1780 2083 1713 2055 1817 2211 1720 2120 1852 2249 1935 2449 1926 2343 1733 2168 1707 2115 1708 2305 1714 2364 1797 2215 1817 2388 1752 2338 1803 2203 1716 2239 1925 2388 1794 2383 1864 2135 1765 2092 1850 1985 1762 2085 1659 2243 1747 1753 1885 2223 1742 2182 1650 2213 1640 2134 1815 2216 1766 2290 1878 2081 1600 2143 1772 2252 1715 2229 1928 2334 1688 2093 1825 1975 1841 2241 1888 2223 1764 2047 1838 2010 1575 2142 1795 1979 1615 2054 1718 2217 1603 2056 1750 2358 1854 2294 1881 2391 1802 2269 1873 2099 1820 2093 1781 2197 1817 2142 1741 2024 1849 1951 1778 2399 1704 2043 1930 2344 1902 2243 1845 2245 1847 1991 1580 2139 1706 2128 1707 2047 1710 2135 1786 2403 1864 2363 1744 2333 1672 2290 1691 2337 1823 2055 1600 2080 1905 2393 1786 2190 1735 2361 1821 2232 1630 2195 1867 2425 1925 2410 1724 2116 1933 2364 1668 2068 1796 1971 1591 2066 1739 2153 1701 2070 1901 2273 1670 2156 1604 2178 1644 2146 1909 2234 1838 2311 1812 2126 1647 2309 1906 2415 1647 2102 1765 2364 1840 2142 1681 2337 1631 2271 1687 2254 1614 2230 1623 2134 1766 2107 1921 2381 1784 1857 1643 2230 1750 2196 1758 2247 1830 2040 1869 2268 1778 2223 1691 2081 1721 2357 1919 2465 1860 2395 1713 2080 1621 2134 1615 2241 1803 2233 1758 2144 1910 2303 1870 2171 1737 2353 1670 2168 1802 2140 1817 2203 1740 2254 1762 1858 1900 2444 1723 2150 1730 2285 1779 2137 1919 2353 1608 2072 1727 2146 1794 1995 1743 2187 1621 2219 1804 2124 1807 2168 1853 2106 1820 2293 1614 2077 1721 2122 1648 2201 1826 2089 1723 2122 1643 2125 1894 2449 1812 2140 1623 2190 1926 2387 1820 2062 1806 2131 1755 2376 1780 2234 1801 2366 1758 2403 1830 2189 1895 2338 1805 2284 1706 2175 1722 1789 1621 2089 1739 2152 1889 2158 1864 2306 1860 1972 1594 2210 1697 2326 1754 2409 1903 2297 1874 2211 1662 2133 1817 2164 1616 2057 1641 2212 1860 2296 1726 2267 1755 2242 1743 2111 1610 2097 1682 2063 1717 2108 1736 2293 1622 2079 1587 2171 1916 2268 1848 2131 1669 2218 1908 2464 1767 2412" fill="none" stroke="none" marker-start="url(#m3)" marker-mid="url(#m3)" marker-end="url(#m3)"/>
<path d="M1846 1542 1631 1307 1779 1589 1722 1470 1673 1419 1734 1515 1533 1269 1804 1655 1812 1633 1764 1350 1650 1372 1638 723 1725 1357 1816 1513 1722 1481 1748 1422 1639 727 1755 1406 1737 1491 1716 1332 1867 1546 1721 1300 1538 1247 1641 1308 1778 1434 1807 1620 1620 1295 1734 1444 1692 1358 1719 1563 1607 795 1732 1678 1745 1719 1601 768 1776 1534 1866 1526 1696 1540 1723 1433 1804 1488 1607 1358 1800 1416 1829 1364 1716 1259 1717 1417 1789 1641 1638 1286 1689 1636 1783 1345 1731 1446 1812 1599 1688 1403 1851 1622 1799 1569 1856 1610 1693 1626 1693 1347 1723 1311 1858 1421 1740 1593 1455 1309 1815 1657 1622 1290 1677 1408 1769 1341 1860 1424 1677 1618 1763 1420 1644 1402 1805 1447 1653 1327 1809 1494 1646 1525 1741 1639 1669 1311 1661 1478 1687 1526 1672 1487 1680 1260 1842 1526 1613 1328 1725 1584 1829 1502 1710 1311 1833 1675 1674 1440 1847 1559 1803 1449 1778 1702 1698 1396 1662 1567 1814 1436 1781 1598 1866 1430 1868 1530 1785 1535 1876 1458 1699 1252 1810 1314 1830 1701 1456 1574 1814 1383 1618 762 1611 1389 1829 1527 1787 1650 1698 1375 1810 1655 1599 721 1606 1316 1813 1510 1856 1703 1748 1394 1308 1462 1829 1399 1702 1409 1841 1634 1841 1762 1603 1328 1434 1527 1866 1546 1786 1338 1739 1366 1626 791 1763 1479 1744 1650 1781 1685 1758 1292 1841 1679 1657 1501 1858 1534 1851 1539 1665 1393 1687 1605 1699 1353 1792 1412 1683 1347 1880 1533 1663 1429 1666 1446 1687 1582 1810 1431 1819 1360 1838 1654 1696 1438 1839 1476 1744 1323 1731 1466 1819 1750 1470 1228 1749 1407 1608 1309 1776 1283 1872 1447 1659 1572 1659 1573 1771 1649 1649 1427 1786 1667 1831 1452 1294 1475 1665 1518 1686 1350 1655 1511 1855 1697 1688 1308 1778 1348 1822 1640 1782 1363 1690 1303 1876 1569 1776 1605 1629 731 1830 1575 1588 1345 1715 1614 1581 1283 1777 1667 1768 1279 1662 1575 1720 1601 1693 1460 1774 1663 1877 1624 1852 1434 1720 1065 1434 1552 1819 1399 1781 1488 1695 1550 1661 1583 1694 1432 1823 1362 1773 1262 1654 1355 1741 1034 1724 1374 1355 1537 1818 1339 1704 1650 1704 1465 1780 1361 1837 1650 1703 1352 1714 1296 1779 1672 1686 1402 1764 1342 1759 1266 1821 1397 1718 1568 1855 1658 1839 1427 1801 1606 1864 1504 1753 1654 1726 1668 1749 1407 1710 1640 1698 1437 1687 1452 1802 1554 1828 1695 1763 1405 1759 1482 1748 1317 1825 1611 1819 1460 1869 1559 1695 1345 1873 1487 1682 1328 1809 1401 1644 1309 1861 1515 1773 1599 1725 1298 1837 1432 1787 1670 1800 1756 1837 1478 1664 1501 1795 1597 1745 1365 1652 1479 1791 1483 1802 1419 1440 1443 1763 1516 1802 1300 1386 1456 1655 1527 1329 1459 1827 1466 1833 1392 1746 1255 1612 1306 1835 1645 1640 1297 1791 1305 1382 1237 1837 1534 1713 1631 1765 1496 1860 1661 1663 1375 1698 1534 1763 1309 1837 1668 1817 1385 1669 1427 1642 1292 1853 1574 1803 1613 1609 893 1660 1407 1604 1333 1813 1678 1806 1586 1843 1522 1707 1507 1713 1353 1639 1403 1417 1223 1781 1424 1811 1455 1837 1488 1731 1552 1775 1395 1715 1265 1799 1388 1762 1638 1633 1352 1812 1327 1700 1471 1828 1540 1818 1596 1771 1468 1855 1478 1716 1458 1771 1540 1788 1544 1711 1599 1648 1533 1836 1592 1791 1336 1764 1525 1872 1605 1760 1423 1748 1455 1733 1469 1727 1624 1710 1263 1674 1510 1649 1400 1856 1658 1622 1336 1731 1645 1699 1401 1738 1677 1625 1385 1745 1424 1857 1446 1720 1597 1833 1692 1836 1603 1709 1529 1796 1325 1831 1350 1847 1377 1712 1390 1709 1658 1334 1368 1611 799 1604 759 1749 1545 1755 1646 1764 1321 1791 1396 1691 1371 1859 1553 1843 1522 1687 1257 1742 1535 1722 1247 1796 1613 1845 1553 1736 1443 1785 1692 1850 1754 1837 1525 1651 1531 1682 1276 1807 1719 1778 1392 1439 1207 1794 1339 1671 1294 1789 1647 1868 1468 1826 1357 1452 1505 1858 1556 1886 1527 1615 1259 1734 1330 1602 1270 1788 1682 1785 1699 1646 1276 1666 1437 1682 1506 1624 1294 1736 1561 1738 1484 1774 1340 1745 1500 1743 1292 1722 1320 1616 1400 1785 1394 1851 1468 1666 1283 1823 1521 1781 1663 1448 1293 1606 829 1764 1529 1785 1387 1522 1257 1846 1689 1597 1348 1779 1498 1861 1639 1767 1285 1689 1537 1636 1359 1725 937 1690 1581 1729 1361 1254 1456 1835 1673 1704 1265 1655 1462 1790 1492 1746 1259 1826 1537 1607 833 1750 1268 1628 1353 1789 1501 1592 1321 1370 1471 1812 1401 1740 1519 1710 1620 1721 1284 1788 1593 1534 1506 1839 1594 1761 1715 1877 1519 1827 1336 1679 1429 1644 1271 1528 1309 1709 1630 1867 1614 1862 1633 1653 1485 1797 1317 1649 1544 1305 1204 1755 1442 1721 1620 1776 1635 1712 1431 1773 1669 1616 784 1819 1505 1846 1437 1827 1404 1528 1593 1807 1386 1721 1324 1671 1576 1609 1622 1842 1509 1765 1291 1396 1465 1707 1572 1864 1470 1636 1389 1663 1561 1770 1312 1786 1353 1861 1590 1606 1330 1861 1484 1731 1287 1819 1703 1701 1295 1766 1315 1732 1664 1864 1643 1607 1364 1799 1438 1536 1346 1750 1383 1691 1528 1810 1353 1630 1402 1842 1480 1710 1329 1772 1386 1650 1551 1810 1648 1661 1487 1739 1378 1769 1515 1878 1525 1627 1320 1761 1252 1682 1585 1611 1368 1708 1485 1722 1621 1754 1562 1731 1578 1805 1433 1871 1520 1782 1352 1668 1460 1767 1355 1696 1569 1721 1569 1603 1355 1862 1512 1814 1488 1667 1488 1812 1583 1792 1714 1801 1669 1702 1480 1781 1580 1804 1364 1671 1536 1743 1429 1733 1602 1788 1473 1745 1324 1869 1497 1830 1656 1587 1325 1731 1477 1797 1690 1719 1269 1694 1353 1711 1467 1766 1591 1581 1581 1676 1431 1694 1489 1702 1055 1733 1558 1637 1438 1824 1420 1670 1498 1710 1608 1722 1326 1723 1668 1660 1452 1696 1290 1860 1584 1787 1376 1692 1607 1725 1322 1666 1491 1616 1349 1312 1471 1741 1336 1354 1484 1333 1318 1714 1616 1745 1619 1820 1407 1609 1375 1702 1631 1753 1364 1781 1357 1795 1578 1641 1425 1598 1342 1674 1468 1621 1355 1791 1408 1785 1674 1800 1551 1804 1308 1747 1363 1748 1435 1777 1502 1732 1290 1703 1507 1486 1538 1734 1245 1664 1352 1834 1392 1712 1472 1679 1450 1691 1385 1604 1306 1678 1289 1786 1616 1833 1615 1322 1214 1733 1398 1772 1343 1251 1479 1761 1610 1635 798 1712 1084 1731 1569 1768 1371 1638 1329 1872 1516 1522 1522 1786 1688 1694 1534 1823 1654 1852 1473 1822 1376 1748 1537 1662 1402 1802 1322 1840 1534 1710 1469 1700 1315 1806 1499 1438 1330 1869 1601 1755 1544 1771 1412 1829 1500 1784 1320 1626 1320 1602 1334 1845 1425 1717 1521 1776 1621 1767 1263 1816 1458 1656 1328 1706 1357 1843 1525 1800 1660 1777 1349 1728 1234 1656 1447 1660 1336 1866 1517 1697 1552 1275 1219 1698 1275 1790 1598 1716 1586 1723 1661 1859 1673 1756 1565 1754 1539 1614 752 1663 1457 1731 1606 1778 1645 1823 1684 1807 1603 1603 1328 1703 1526 1809 1440 1705 1306 1415 1611 1804 1308 1776 1631 1824 1511 1644 1435 1793 1422 1820 1396 1853 1394 1714 1369 1672 1564 1732 1665 1738 1525 1782 1486 1791 1680 1837 1501 1804 1523 1687 1577 1828 1431 1645 1360 1813 1439 1668 1531 1765 1525 1835 1463 1813 1494 1665 1440 1635 1425 1741 1008 1768 1698 1838 1755 1726 1633 1829 1639 1761 1389 1819 1401 1757 1317 1627 1303 1870 1587 1638 765 1803 1665 1648 1339 1342 1470 1772 1364 1693 1368 1841 1466 1813 1338 1673 1357 1728 1624 1247 1484 1774 1342 1311 1469 1451 1301 1740 1355 1297 1244 1396 1290 1877 1560 1705 962 1540 1228 1720 1266 1861 1477 1695 1514 1816 1668 1688 1421 1716 1666 1678 1418 1822 1658 1654 1390 1737 1655 1810 1410 1714 1619 1661 1525 1778 1365 1776 1307 1751 1411 1649 1507 1783 1461 1666 1597 1689 1580 1672 1390 1724 1582 1860 1420 1823 1570 1711 1469 1627 1330 1798 1583 1805 1522 1701 1453 1698 1374 1658 1414 1813 1660 1753 1597 1812 1633 1700 1567 1849 1421 1611 1302 1814 1389 1727 1320 1666 1415 1789 1480 1803 1678 1730 1601 1842 1657 1541 1536 1727 1521 1779 1484 1825 1541 1708 1612 1801 1691 1791 1705 1755 1565 1699 1358 1712 1456 1681 1289 1876 1461 1689 1613 1766 1712 1673 1478 1704 1613 1751 1258 1803 1685 1674 1383 1709 1596 1881 1598 1735 1473 1707 1598 1757 1304 1830 1517 1750 1379 1702 1506 1656 1571 1812 1634 1667 1352 1843 1692 1805 1476 1709 1578 1240 1474 1813 1687 1670 1309 1652 1460 1762 1340" fill="none" stroke="none" marker-start="url(#m4)" marker-mid="url(#m4)" marker-end="url(#m4)"/>
<path d="M886 1483 748 1398 1094 1365 1094 1430 1024 1447 845 1466 1086 1395 797 1485 735 1457 1033 1500 844 1443 944 1431 712 1446 674 1385 1011 1451 1113 1383 739 1341 1142 1391 1058 1392 726 1352 871 1447 867 1414 1001 1386 933 1463 1176 1400 1225 1393 941 1481 855 1389 1144 1445 727 1487 1225 1428 942 1396 886 1354 703 1422 790 1392 972 1386 876 1486 928 1494 884 1376 1117 1422 901 1360 905 1447 1233 1461 1098 1413 1164 1506 1184 1439 720 1445 913 1405 1040 1389 1066 1474 936 1365 1028 1423 1165 1461 710 1378 966 1450 961 1375 1138 1498 1033 1477 963 1385 692 1366 1027 1377 699 1461 1022 1456 954 1391 797 1354 993 1377 1210 1388 738 1467 822 1447 776 1489 1249 1454 1093 1495 1101 1438 981 1364 1212 1490 896 1447 743 1489 1083 1405 909 1366 1079 1462 711 1399 929 1406 731 1423 1181 1489 858 1445 1189 1411 1142 1427 1128 1481 1084 1500 729 1341 1074 1410 1157 1424 1095 1498 732 1486 1130 1371 1127 1390 771 1431 790 1474 1038 1502 852 1498 761 1417 748 1474 802 1344 890 1483 933 1383 792 1493 1209 1408 1037 1367 777 1402 973 1392 713 1377 1048 1392 862 1416 876 1447 710 1402 1206 1414 875 1350 904 1422 979 1447 1004 1501 1034 1490 746 1358 764 1415 807 1459 1108 1494 890 1417 1256 1448 1056 1466 794 1427 790 1330 1234 1427 788 1473 1050 1433 774 1464 1079 1427 1119 1405 1031 1380 1104 1368 709 1448 775 1436 1112 1481 1122 1427 1181 1438 1095 1472 1133 1502 796 1420 948 1362 754 1443 821 1483 937 1427 1160 1448 1221 1426 1225 1429 913 1488 718 1467 1005 1496 1219 1488 771 1367 726 1381 918 1457 708 1360 865 1384 752 1475 741 1388 1196 1421 778 1481 782 1332 1259 1474 1254 1450 1135 1401 1160 1515 1070 1434 1038 1455 1084 1457 737 1426 840 1446 1162 1447 898 1453 830 1426 1023 1459 708 1370 1087 1392 972 1382 946 1436 1091 1502 767 1410 1112 1452 779 1424 832 1444 937 1408 1161 1521 1074 1424 757 1415 1016 1428 725 1467 950 1428 1257 1461 987 1381 1194 1435 1063 1406 836 1489 969 1365 756 1341 1075 1442 953 1415 1075 1485 884 1466 751 1465 848 1405 1203 1432 1190 1444 1207 1518 989 1444 789 1352 1127 1470 1249 1458 1165 1518 1119 1467 697 1460 1151 1408 754 1354 1177 1523 808 1396 1185 1426 975 1446 895 1370 1160 1446 812 1439 1148 1386 899 1463 1041 1504 808 1337 1223 1493 1225 1471 1047 1467 1048 1427 1098 1437 1109 1376 700 1452 772 1356 791 1486 1094 1370 1190 1478 925 1476 1080 1398 741 1393 764 1451 804 1455 924 1466 1095 1401 768 1422 1221 1508 1075 1454 979 1469 914 1422 796 1334 863 1440 1230 1470 1125 1452 1131 1448 777 1364 819 1343 983 1436 774 1331 907 1444 955 1418 1010 1407 1159 1489 1173 1508 932 1381 825 1339 760 1447 855 1344 895 1415 773 1359 1129 1417 870 1462 1016 1414 1002 1385 944 1477 892 1374 808 1405 1198 1495 800 1466 831 1427 863 1417 1204 1394 749 1368 1132 1429 876 1394 763 1334 757 1339 735 1368 1023 1437 719 1340 1050 1494 1137 1481 690 1388 732 1362 731 1439 741 1360 997 1451 702 1462 967 1417 975 1441 1218 1476 1230 1442 1048 1437 1116 1476 1064 1409 1111 1428 1216 1420 1102 1414 815 1484 1025 1430 1223 1426 742 1465 902 1422 1032 1436 1148 1468 1219 1392 1227 1413 833 1393 1212 1424 853 1469 1215 1495 1241 1422 1098 1406 861 1423 996 1396 1203 1411 1098 1391 1062 1409 857 1478 891 1395 1217 1444 771 1450 1015 1475 1071 1491 852 1357 806 1478 919 1385 975 1399 954 1495 940 1456 926 1456 1175 1397 1136 1376 761 1418 1164 1413 706 1482 1126 1504 720 1431 1169 1392 806 1393 1120 1463 1042 1483 900 1400 1251 1452 886 1449 1166 1455 699 1415 1250 1445 824 1342 704 1394 1011 1425 1016 1497 737 1473 1041 1469 910 1426 815 1448 1033 1498 841 1454 705 1406 1114 1509 815 1368 1202 1435 1055 1367 840 1366 1113 1405 1209 1403 912 1445 797 1458 1156 1391 1056 1432 929 1371 1087 1511 953 1496 1204 1497 981 1423 720 1370 1113 1431 784 1344 839 1477 1021 1367 1033 1503 1036 1427 932 1427 1076 1374 963 1491 1048 1467 1218 1425 1174 1416 1174 1403 1012 1400 909 1473 1093 1414 929 1362 1208 1439 1131 1400 958 1452 1230 1408 742 1387 989 1387 976 1388 983 1435 951 1436 1004 1480 808 1450 1141 1477 1220 1470 999 1411 747 1394 961 1422 1240 1426 976 1431 759 1446 834 1370 875 1409 1110 1428 1184 1418 769 1378 1167 1403 1070 1421 831 1367 1108 1460 768 1402 777 1414 695 1461 1216 1416 1158 1389 955 1359 761 1413 802 1362 798 1490 1192 1436 1215 1462 979 1469 802 1393 1222 1496 731 1392 933 1438 1146 1454 1179 1458 913 1373 818 1421 1093 1449 776 1393 989 1479 902 1420 1103 1389 721 1344 1035 1471 1214 1487 847 1410 850 1374 1113 1390 1176 1391 1225 1465 829 1475 1193 1473 1104 1408 890 1397 1187 1385 888 1479 1216 1412 1158 1478 815 1488 941 1426 837 1387 1095 1489 1150 1458 963 1485 1008 1379 719 1428 945 1438 765 1388 1261 1468 737 1475 1090 1383 1223 1497 961 1462 698 1413 764 1459 780 1402 940 1427 998 1369 1012 1421 830 1502 1091 1436 1112 1479 959 1491 755 1407 856 1420 1214 1498 1237 1418 1002 1426 1046 1497 899 1355 1100 1472 890 1374 924 1382 945 1410 717 1359 885 1423 750 1488 1244 1411 1201 1517 915 1365 994 1437 1176 1410 793 1403 767 1433 1169 1433 1087 1479 1113 1462 1043 1449 1124 1401 1091 1512 978 1433 725 1452 880 1471 959 1427 1206 1418 983 1417 826 1486 729 1352 748 1392 798 1494 1055 1451 851 1471 1191 1498 717 1398 1141 1422 797 1340 1241 1428 1132 1447 1126 1408 889 1430 706 1373 954 1464 918 1475 855 1436 1124 1487 1205 1432 709 1456 845 1446 781 1433 745 1399 762 1486 721 1382 1147 1447 759 1344 1181 1459 1009 1421 728 1360 804 1464 806 1394 1165 1473 1009 1408 934 1423 991 1433 704 1369 781 1339 859 1430 752 1477 782 1347 816 1501 696 1417 855 1485 1245 1410 738 1354 856 1459 940 1418 796 1489 698 1400 1116 1425 1261 1458 1216 1494 720 1440 1095 1451 975 1367 692 1368 1116 1490 709 1393 704 1356 883 1363 1182 1379 1006 1453 982 1396 998 1384 1170 1430 1055 1462 854 1445 884 1362 856 1431 1063 1392 871 1412 735 1351 1122 1500 973 1360 1192 1453 1002 1462 867 1409 856 1471 1097 1375 880 1487 869 1405 824 1402 1040 1377 735 1428 1110 1426 1013 1445 719 1351 724 1439 1152 1395 831 1462 879 1400 789 1465 1076 1480 1172 1479 866 1460 793 1453 764 1378 1159 1432 781 1412 921 1495 948 1369 1002 1382 1009 1410 799 1343 741 1453 1162 1421 832 1462 921 1380 1214 1389 1043 1391 753 1339 722 1482 714 1396 910 1438 778 1369 1085 1375 920 1370 809 1378 727 1359 989 1439 1002 1407 979 1460 1215 1415 1250 1433 1158 1519 927 1440 902 1356 880 1419 1096 1416 919 1375 1099 1392 762 1372 847 1424 831 1468 921 1476 1033 1429 963 1369 954 1473 771 1375 1030 1418 1048 1471 860 1469 799 1479 916 1492 698 1446 934 1372 738 1395 878 1441 966 1394 955 1421 1123 1410 834 1414 1205 1511 772 1431 879 1469 795 1375 1136 1426 954 1494 735 1455 941 1424 1105 1432 1123 1490 841 1451 801 1467 750 1409 980 1476 952 1479 758 1483 1133 1410 931 1397 1138 1426 1093 1420 968 1398 807 1334 930 1372 710 1444 1237 1431 1164 1495 1005 1396 988 1499 781 1477 817 1348 1069 1390 773 1431 760 1355 1171 1388 968 1384 1044 1457 1141 1498 1042 1404 1067 1508 696 1482 1060 1382 811 1439 782 1408 1057 1407 1060 1446 1157 1508 746 1350 1173 1459 803 1422 696 1441 987 1371 921 1356 814 1418 860 1397 1126 1479 1067 1370 952 1478 787 1358 1097 1416 906 1431 1134 1451 847 1421 1029 1409 985 1475 1088 1510 1116 1439 845 1376 1086 1489 1115 1418 792 1331 843 1450 876 1376" fill="none" stroke="none" marker-start="url(#m5)" marker-mid="url(#m5)" marker-end="url(#m5)"/>
<path d="M2144 1346 2111 1357 2060 1536 2080 1351 2027 1427 2071 1379 2108 1412 2290 1387 1980 1423 2319 1414 2153 1386 2157 1323 2016 1336 2315 1394 2230 1479 2162 1355 2029 1513 2060 1332 2188 1452 2218 1459 2109 1362 2191 1428 2019 1458 2025 1292 2243 1443 2032 1530 2055 1411 2040 1503 2165 1352 2161 1413 2186 1355 2043 1374 1986 1362 2135 1350 2078 1274 2208 1363 2032 1456 2181 1435 2073 1473 1886 1281 1939 1437 2292 1378 2074 1521 2146 1444 2077 1381 2010 1516 2182 1436 2228 1321 2090 1552 2089 1395 2078 1284 2029 1465 2226 1443 2319 1371 2066 1550 2057 1265 2036 1502 2063 1549 1982 1449 2128 1534 2059 1501 2266 1396 2062 1505 2048 1430 1953 1403 2025 1344 2125 1431 2130 1481 2221 1397 2040 1453 2064 1527 2017 1513 2224 1376 2051 1299 1913 1259 2128 1366 1994 1308 2225 1419 2076 1458 2123 1482 1931 1396 1944 1302 1993 1336 2155 1471 2239 1488 2141 1470 2151 1326 2112 1529 2139 1441 2038 1518 2235 1365 2133 1419 2215 1441 1933 1396 2158 1423 2122 1520 2024 1265 2332 1405 2038 1338 2085 1473 2220 1463 2028 1411 2323 1362 2306 1373 2263 1421 2086 1360 2101 1459 2279 1393 2005 1338 2020 1471 2307 1394 1952 1280 2011 1367 2063 1470 1892 1295 2147 1410 2062 1406 1927 1376 2146 1458 2131 1482 2026 1282 2069 1442 2207 1451 2170 1365 2106 1457 1952 1271 2111 1400 1960 1266 2063 1281 2230 1328 2112 1424 2117 1491 1990 1379 2081 1291 2097 1432 2219 1389 2056 1558 2010 1283 2167 1375 2078 1534 2045 1286 2343 1387 2059 1529 2143 1365 2109 1430 2273 1432 1961 1338 2070 1550 2045 1517 2062 1420 1914 1366 2091 1552 2053 1431 2135 1338 2148 1356 2116 1338 2144 1399 2165 1491 2237 1323 2333 1392 2303 1413 2196 1366 2098 1505 2109 1298 2258 1401 2142 1489 2124 1463 2257 1347 2207 1399 2141 1388 2293 1356 2205 1490 2312 1388 2045 1498 2192 1408 2163 1371 2101 1342 2029 1278 2256 1332 1903 1332 2119 1419 2141 1377 2325 1411 2111 1541 2210 1362 2050 1328 1995 1456 2300 1432 2060 1496 2047 1297 2301 1402 2150 1351 1970 1293 2127 1374 2098 1389 2133 1523 2114 1473 2164 1363 2205 1473 2174 1337 2147 1436 2300 1389 2049 1420 2086 1488 2300 1370 2068 1476 2087 1451 1991 1417 2244 1446 1964 1330 2280 1349 2320 1385 2200 1461 2267 1331 2180 1495 2136 1303 2303 1395 1965 1458 2213 1389 2162 1328 2240 1348 2076 1386 2090 1551 1903 1359 2318 1404 2115 1515 2145 1451 1975 1392 2090 1523 1911 1382 2022 1491 1988 1442 2059 1522 2072 1270 2199 1484 2135 1439 2093 1453 2153 1427 2030 1316 2051 1456 2050 1372 1941 1378 2193 1499 2266 1468 2146 1392 2281 1351 2290 1381 2128 1421 1945 1263 2281 1430 2167 1390 2189 1330 2274 1419 2221 1344 2058 1500 2309 1352 2321 1383 2136 1465 2174 1335 2292 1443 2115 1378 2054 1338 2068 1340 2104 1511 2157 1416 2026 1519 2019 1277 2020 1371 2203 1498 2111 1512 1904 1324 2231 1455 2134 1399 2149 1467 1960 1440 2028 1482 2214 1461 2149 1416 2116 1423 2132 1501 2285 1420 2263 1417 2171 1387 2127 1402 2191 1337 2215 1476 2132 1391 2061 1472 2197 1368 2101 1316 2282 1373 2213 1341 2000 1413 2255 1477 2081 1391 2012 1280 2012 1509 1947 1398 2153 1420 2157 1320 2205 1435 2059 1367 2345 1382 2194 1492 2071 1418 2191 1338 2070 1533 2180 1321 2193 1337 2064 1384 1939 1422 2282 1395 1903 1362 2119 1534 2259 1363 2070 1554 2042 1501 2088 1538 2117 1453 2261 1400 2190 1421 2097 1490 2202 1480 2117 1341 2023 1362 1945 1334 2227 1494 2230 1321 2205 1455 2063 1515 2265 1377 2063 1276 2205 1331 2213 1341 1890 1335 2071 1540 1991 1323 2023 1262 2212 1359 2138 1509 2022 1327 2108 1499 2098 1392 2044 1506 2130 1353 2181 1510 1997 1274 1948 1284 2154 1517 2200 1492 2027 1351 2007 1487 2041 1328 2263 1448 2236 1421 2244 1436 2197 1369 2016 1301 1920 1344 1897 1342 2209 1472 2306 1379 1938 1334 1898 1339 1993 1282 2026 1344 2128 1477 2138 1405 2148 1383 2278 1443 2234 1478 2168 1371 2331 1394 2113 1319 2204 1485 2243 1456 2058 1420 2182 1410 2197 1395 2127 1369 2220 1410 2199 1458 1989 1450 2264 1321 2048 1268 2028 1420 2079 1376 2076 1347 2091 1530 2274 1356 1974 1293 2195 1460 1969 1365 2274 1362 2218 1352 2138 1307 2259 1465 2034 1531 1936 1422 1974 1439 2077 1512 1920 1373 2025 1525 2143 1310 2182 1456 2066 1341 1983 1273 2188 1440 2319 1416 2193 1484 2280 1352 1933 1409 2241 1323 1899 1338 2048 1478 1936 1283 2137 1471 2070 1532 2245 1384 2136 1488 1948 1351 2280 1449 2202 1448 1911 1384 2203 1370 2150 1440 1917 1318 2097 1469 2228 1447 1946 1324 2224 1378 2046 1490 2166 1454 2080 1334 2081 1345 2291 1415 2148 1514 2327 1381 2135 1362 2044 1543 1966 1280 2081 1495 2091 1281 2045 1368 2160 1486 2038 1348 2211 1465 2148 1431 2149 1474 2314 1414 2127 1518 1975 1448 2067 1327 2034 1460 2009 1476 2057 1391 2046 1524 1962 1440 1939 1277 2191 1412 2227 1438 2243 1320 2153 1305 2285 1365 2199 1351 2180 1459 2259 1465 2052 1366 2250 1455 2161 1499 2044 1404 2294 1350 1932 1259 2050 1500 2197 1319 1878 1280 2267 1457 2156 1492 2310 1359 2162 1381 1913 1267 1950 1293 1955 1244 1936 1256 1932 1386 2190 1385 2112 1494 2159 1330 2115 1373 2168 1340 2220 1428 2137 1317 2085 1476 1935 1434 2140 1460 2216 1418 2285 1416 2018 1294 2139 1426 2032 1300 2087 1485 2088 1388 2211 1350 2213 1424 2241 1392 2296 1362 2051 1452 2103 1532 2125 1483 2232 1444 1997 1395 2239 1455 2040 1507 1991 1299 2070 1471 2288 1434 2242 1327 2242 1418 2067 1501 1974 1255 2142 1383 2080 1363 2126 1415 2055 1531 1915 1383 2099 1465 2278 1381 1955 1254 2000 1515 2021 1428 2027 1516 2245 1353 2180 1490 2210 1477 2146 1431 2143 1446 2183 1508 1979 1321" fill="none" stroke="none" marker-start="url(#m6)" marker-mid="url(#m6)" marker-end="url(#m6)"/>
<path d="M1110 1002 1439 1254 1477 1221 1582 1238 1228 1206 1307 1242 1293 1198 1607 1333 1378 1240 1316 1223 1481 1322 1460 1301 1268 1175 1476 1385 1554 1377 1571 1296 1511 1263 1400 1254 1146 1046 1640 1318 1325 1311 1194 1097 1178 1090 1133 1022 1471 1208 1382 1271 1246 1166 1434 1243 1552 1192 1584 1250 1223 1122 1064 941 1176 1095 1540 1217 1375 1358 1084 962 1290 1287 1481 1346 1235 1122 1245 1196 1413 1254 1225 1176 1288 1279 1070 944 1385 1353 1246 1146 1326 1221 1283 1235 1542 1379 1579 1252 1179 1100 1430 1251 1307 1190 1558 1382 1459 1287 1285 1221 1437 1259 1423 1323 1566 1243 1340 1233 1635 1308 1243 1210 1432 1230 1517 1284 1550 1251 1133 1019 1418 1234 1285 1182 1308 1344 1499 1257 1364 1291 1598 1214 1639 1311 1133 1009 1398 1326 1603 1379 1250 1128 1242 1141 1557 1245 1429 1366 1117 1011 1514 1210 1459 1272 1332 1262 1448 1253 1547 1226 1437 1363 1402 1283 1260 1160 1118 1009 1092 977 1528 1363 1430 1308 1227 1124 1089 977 1208 1134 1222 1126 1229 1204 1628 1247 1156 1051 1143 1043 1325 1210 1578 1390 1212 1119 1433 1261 1196 1090 1249 1144 1300 1321 1216 1117 1089 969 1554 1211 1313 1187 1259 1135 1216 1101 1252 1145 1243 1200 1273 1192 1251 1137 1464 1209 1316 1246 1157 1027 1489 1264 1383 1241 1178 1080 1341 1371 1214 1112 1522 1279 1284 1286 1557 1395 1097 972 1282 1252 1416 1259 1610 1293 1188 1080 1510 1261 1136 1036 1188 1071 1643 1334 1137 1036 1580 1319 1542 1333 1432 1361 1468 1338 1596 1337 1539 1259 1475 1342 1604 1381 1477 1256 1559 1201 1244 1185 1236 1143 1587 1371 1599 1324 1314 1355 1490 1280 1545 1201 1274 1202 1246 1184 1538 1274 1203 1104 1306 1187 1120 1018 1546 1259 1487 1327 1326 1194 1240 1119 1253 1160 1634 1371 1456 1321 1336 1230 1139 1024 1608 1399 1184 1090 1152 1057 1510 1332 1174 1070 1358 1288 1255 1249 1208 1111 1468 1316 1560 1361 1315 1265 1306 1280 1254 1151 1364 1338 1234 1131 1152 1053 1358 1261 1274 1240 1293 1212 1368 1336 1452 1261 1148 1042 1576 1228 1378 1355 1257 1226 1345 1245 1157 1064 1200 1106 1317 1276 1538 1267 1477 1353 1597 1396 1280 1313 1169 1059 1248 1141 1239 1210 1472 1330 1347 1268 1407 1273 1169 1071 1631 1279 1083 969 1092 970 1619 1241 1313 1237 1119 1019 1574 1237 1295 1203 1217 1165 1471 1285 1636 1267 1178 1091 1408 1343 1071 953 1639 1256 1073 952 1350 1355 1608 1255 1097 979 1191 1099 1413 1290 1492 1239 1380 1384 1512 1368 1136 1022 1615 1348 1557 1258 1251 1150 1518 1210 1221 1134 1258 1239 1108 1004 1461 1269 1381 1366 1476 1250 1557 1343 1579 1263 1561 1340 1539 1264 1311 1191 1522 1337 1626 1380 1414 1246 1451 1218 1116 1007 1600 1374 1339 1243 1414 1325 1572 1211 1452 1270 1081 957 1304 1336 1578 1250 1445 1215 1180 1069 1241 1236 1074 953 1499 1251 1526 1201 1568 1246 1647 1345 1311 1237 1493 1329 1254 1176 1111 999 1601 1244 1208 1110 1401 1364 1439 1234 1165 1048 1208 1095 1590 1313 1392 1264 1496 1214 1433 1242 1486 1387 1493 1379 1615 1320 1263 1246 1301 1237 1306 1332 1279 1207 1622 1223 1569 1200 1248 1221 1306 1238 1126 1005 1159 1071 1400 1236 1562 1194 1506 1359 1458 1248 1145 1029 1322 1205 1564 1274 1515 1290 1080 967 1288 1182 1244 1149 1546 1317 1233 1139 1520 1299 1547 1271 1464 1348 1565 1250 1512 1270 1473 1336 1226 1200 1603 1388 1483 1341 1612 1340 1332 1347 1123 1029 1452 1255 1602 1226 1524 1256 1515 1376 1432 1277 1618 1274 1508 1252 1404 1329 1452 1273 1611 1299 1609 1288 1319 1277 1241 1223 1267 1260 1509 1370 1394 1273 1366 1257 1127 1014 1079 964 1235 1130 1542 1382 1491 1304 1177 1068 1279 1216 1637 1312 1431 1302 1179 1073 1529 1329 1272 1233 1302 1243 1560 1250 1125 1014 1322 1191 1523 1320 1273 1153 1416 1355 1247 1187 1456 1281 1466 1279 1441 1377 1255 1157 1430 1241 1583 1206 1299 1322 1439 1359 1489 1378 1195 1080 1423 1252 1092 973 1267 1193 1116 1022 1500 1249 1273 1232 1586 1258 1399 1319 1475 1297 1487 1279 1505 1260 1283 1225 1376 1300 1257 1167 1307 1197 1250 1163 1302 1260 1463 1282 1600 1395 1410 1355 1552 1233 1595 1241 1202 1098 1210 1087 1264 1231 1440 1335 1551 1338 1432 1273 1321 1311 1306 1203 1469 1306 1620 1348 1326 1205 1580 1204 1219 1117 1197 1093 1644 1307 1094 988 1546 1222 1234 1211 1152 1051 1251 1236 1163 1053 1249 1156 1291 1227 1484 1273 1157 1050 1503 1259 1324 1193 1565 1293 1547 1231 1485 1284 1213 1117 1386 1307 1511 1278 1400 1259 1151 1055 1379 1265 1445 1222 1226 1191 1465 1319 1625 1297 1228 1160 1421 1313 1066 947" fill="none" stroke="none" marker-start="url(#m7)" marker-mid="url(#m7)" marker-end="url(#m7)"/>
<path d="M427 1515 504 1402 564 1453 263 1584 455 1476 362 1497 453 1513 463 1504 297 1543 339 1496 404 1501 363 1498 500 1433 273 1567 299 1523 324 1504 482 1430 266 1576 476 1459 406 1452 548 1447 391 1468 345 1531 586 1474 398 1483 396 1513 634 1408 371 1512 610 1414 368 1475 529 1390 370 1507 460 1509 326 1491 494 1484 493 1443 376 1487 633 1403 239 1610 409 1517 584 1450 584 1415 468 1505 595 1472 657 1460 375 1509 450 1453 296 1552 402 1485 667 1391 303 1523 645 1422 400 1496 536 1406 261 1594 472 1471 665 1403 383 1517 400 1519 408 1450 412 1522 466 1451 565 1478 583 1442 420 1442 271 1571 524 1469 465 1438 580 1373 525 1450 518 1387 438 1514 398 1487 615 1485 450 1472 505 1451 283 1556 388 1475 293 1542 642 1410 390 1480 542 1382 318 1545 327 1526 307 1547 304 1547 533 1414 640 1436 502 1464 645 1444 464 1502 396 1487 569 1460 340 1542 363 1528 385 1467 331 1514 381 1491 348 1513 462 1430 549 1425 610 1487 661 1442 377 1469 283 1544 432 1452 461 1476 249 1598 352 1491 659 1411 380 1482 315 1521 361 1514 589 1379 586 1483 576 1408 365 1490 468 1444 360 1519 457 1425 564 1469 493 1440 373 1481 318 1497 643 1452 620 1444 563 1403 254 1591 289 1535 625 1379 662 1385 565 1460 262 1584 363 1487 288 1554 553 1445 358 1516 526 1479 592 1477 640 1379 458 1475 650 1486 356 1491 368 1507 661 1376 290 1542 412 1519 628 1446 415 1466 599 1439 528 1467 638 1473 320 1522 644 1451 620 1429 457 1485 596 1449 332 1501 419 1482 358 1460 304 1513 530 1493 565 1470 493 1435 251 1605 542 1466 445 1436 380 1487 249 1596 395 1453 460 1493 336 1540 585 1488 260 1592 368 1513 646 1375 416 1494 583 1439 353 1517 571 1401 466 1427 398 1497 446 1455 529 1463 338 1490 382 1475 388 1498 401 1477 374 1467 326 1506 526 1392 512 1454 644 1391 327 1509 664 1463 658 1451 485 1457 561 1392 480 1502 569 1394 244 1601 653 1458 522 1442 523 1427 667 1378 502 1459 568 1466 364 1461 482 1452 643 1461 326 1507 449 1461 244 1604 385 1480 665 1414 346 1508 520 1448 373 1481 484 1439 583 1385 301 1559 380 1448 464 1449 445 1427 554 1463 556 1420 543 1380 421 1515 378 1500 563 1428 285 1558 369 1498 588 1375 616 1393 302 1547 340 1519 518 1422 254 1597 387 1493 569 1385 313 1512 262 1581 371 1464 333 1535 461 1511 667 1465 561 1430 566 1401 478 1408 654 1433 373 1524 550 1398 345 1486 560 1402 643 1472 394 1517 517 1430 334 1518 587 1482 569 1432 327 1530 611 1406 392 1472 630 1419 630 1421 343 1517 439 1467 532 1458 299 1529 569 1440 369 1487 644 1447 368 1523 495 1480 545 1486 542 1466 529 1483 369 1497 594 1425 555 1440 404 1438 604 1469 614 1421 493 1494 501 1441 646 1452 526 1489 640 1417 487 1468 358 1483 625 1394 279 1571 449 1438 495 1432 366 1513 359 1509 368 1468 375 1495 575 1478 356 1476 618 1460 521 1440 395 1475 585 1404 463 1421 363 1525 331 1521 648 1392 374 1462 544 1425 515 1489 494 1426 488 1425 444 1430 342 1521 329 1527 500 1479 597 1414 581 1386 503 1500 558 1444 560 1466 559 1475 469 1416 242 1608 528 1448 390 1444 601 1439 622 1373 542 1434 409 1517 253 1593 256 1598 527 1468 393 1480 411 1466 437 1471 434 1432 327 1506 634 1406 652 1431 575 1379 658 1420 480 1502 540 1455 465 1492 582 1482 365 1487 370 1518 526 1497 460 1496 385 1479 605 1464 463 1430 417 1508 343 1489 563 1415 495 1476 361 1465 381 1458 444 1450 498 1504 474 1445 615 1425 654 1380 629 1390 253 1604 259 1587 561 1419 464 1420 372 1506 332 1519 589 1416 491 1450 631 1469 252 1598 576 1482 302 1545 258 1582 453 1476 638 1481 564 1405 413 1480 474 1486 550 1402 496 1440 290 1550 535 1474 546 1464 449 1519 576 1460 312 1519 320 1537 442 1446 338 1508 642 1468 384 1470 621 1420 627 1378 614 1451 403 1445 477 1513 523 1483 369 1483 584 1409 563 1481 506 1415 572 1439 272 1565 399 1441 565 1374 516 1479 531 1408 370 1513 455 1447 657 1457 502 1502 259 1596 649 1453 656 1393 390 1495 390 1489 555 1440 304 1547 613 1422" fill="none" stroke="none" marker-start="url(#m8)" marker-mid="url(#m8)" marker-end="url(#m8)"/>
<path d="M1620 1131 1750 1069 1703 1075 1672 977 2036 1525 1772 1063 1690 1230 1990 1496 1671 1040 1737 1090 1691 940 1664 1110 1915 1319 1663 1025 1959 1514 1865 1384 1666 938 1705 1227 1962 1502 1649 1246 1720 1013 1707 1025 1778 1090 1871 1419 1710 960 1758 1225 1738 1052 1649 1018 1943 1477 1890 1486 1860 1543 1886 1296 1629 1015 1905 1555 1617 985 1939 1363 1661 1091 1753 1003 1919 1487 1737 1170 1683 973 1966 1515 1751 1349 1727 1101 1719 1197 1680 1186 1891 1528 1673 1143 1648 1094 1958 1510 1680 1016 1649 1514 1887 1407 1989 1485 1881 1487 1684 1200 1725 1032 1881 1393 1791 1335 1865 1341 1892 1468 1878 1486 1710 1356 1906 1579 1698 1129 1706 1210 1730 1219 1696 941 1678 1095 1621 1030 1903 1374 2022 1528 1997 1495 1783 1436 1799 1103 1714 1134 1908 1489 1726 1078 1937 1536 1673 1051 1657 1010 1713 978 1699 1090 1738 1116 1760 1032 1871 1349 1951 1516 1646 921 1614 1233 1898 1296 1660 1038 1770 1068 1644 1160 1870 1352 1730 1070 1955 1452 1963 1495 1674 1174 1898 1540 1744 1184 1662 928 1670 1099 1895 1469 1710 1158 1720 964 1729 1079 1911 1413 1614 1137 1742 1146 1888 1427 1766 1070 1624 1083 1696 1095 1784 1107 1690 1216 1985 1498 1731 1047 1714 1040 1909 1522 1970 1512 1692 1145 1727 995 1933 1548 1917 1305 1609 1181 1784 1130 1774 1561 1753 1196 1924 1571 1684 1232 1649 1075 1816 1337 1778 1147 1686 945 1632 1123 1636 994 1619 1088 1673 997 1704 1023 1882 1337 1717 1176 1901 1302 1667 1063 1873 1415 1977 1466 1647 1367 1750 1066 1896 1312 1941 1552 1781 1106 1884 1548 1693 1007 1939 1474 1971 1525 1897 1464 1782 1348 1614 1025 1869 1520 1918 1530 1636 1005 1935 1412 1614 1237 1768 1182 2036 1515 1902 1495 1721 1197 1735 1090 1783 1137 1681 1023 1673 1246 1990 1539 2018 1545 1731 1062 1934 1557 1703 1229 1974 1489 1650 1254 1900 1297 1639 1031 1752 1040 1794 1352 1728 1211 1903 1532 1924 1569 1618 1104 1659 1067 2004 1541 1694 990 1941 1371 1703 1120 1766 1052 1762 1071 1939 1389 1724 1137 1739 1119 1746 1203 1997 1501 1978 1536 1709 1056 1651 1043 1665 1187 1954 1515 1956 1536 1628 991 1646 1019 1753 1020 1946 1558 1909 1418 1955 1544 1988 1532 1666 1211 1858 1373 1913 1495 1665 1172 1735 987 1665 1049 1910 1479 1893 1414 1698 1098 1624 1251 1691 1038 1685 1136 1994 1475 2018 1534 1906 1541 1926 1481 1669 1246 1659 1432 1771 1054 1749 1049 1903 1439 1939 1553 1614 1035 1914 1326 1706 1064 1670 1048 1950 1535 1687 1090 1692 996 1952 1503 1629 972 1901 1351 1771 1155 1736 1151 1880 1568 1719 1146 2009 1532 1866 1317 1928 1354 1888 1440 1775 1571 1658 1257 1710 981 1745 1050 1984 1530 1878 1532 1725 1080 1654 986 1601 1236 1934 1331 1941 1384 1617 1116 1941 1421 1912 1484 1911 1412 1991 1481 1711 1372 1623 996 1700 1229 1630 1200 1702 1400 1767 1177 1633 947 1903 1433 2026 1489 1972 1473 1953 1464 1637 1152 1966 1499 1893 1552 1701 1503 1691 1569 1931 1491 1902 1369 1741 1082 1616 1218 1985 1472 1794 1088 1981 1508 1932 1567 1893 1295 1954 1529 1658 1135 1860 1335 1927 1576 1939 1508 1946 1376 1879 1575 1690 1188 1687 1072 1908 1321 1907 1307 1977 1531 1897 1375 1905 1499 1719 998 1964 1442 1666 984 1731 981 1962 1469 1681 1114 1741 1009 1777 1139 1771 1112 1779 1109 1957 1453 1657 1147 1984 1509 1933 1314 1918 1506 1865 1404 1715 959 1906 1562 1661 1241 2008 1527 1905 1417 1723 1128 1634 948 1745 1202 1934 1415 1687 982 2010 1506 1889 1481 1908 1515 1751 1098 1631 1195 1696 988 1976 1474 1627 1261 1918 1551 1894 1483 1900 1522 1865 1402 1922 1536 1893 1492 1655 1074 1940 1422 1667 1163 1934 1541 1701 1017 1652 1110 1919 1357 1673 1090 1890 1406 1841 1205" fill="none" stroke="none" marker-start="url(#m9)" marker-mid="url(#m9)" marker-end="url(#m9)"/>
<path d="M1429 1453 1449 1578 1637 1524 1540 1482 1630 1549 1464 1517 1436 1547 1588 1618 1617 1523 1381 1491 1585 1622 1577 1533 1577 1597 1342 1500 1462 1653 1365 1507 1404 1626 1582 1506 1609 1609 1498 1492 1481 1448 1467 1652 1524 1496 1576 1579 1590 1536 1621 1553 1450 1468 1545 1556 1507 1518 1535 1582 1399 1449 1450 1575 1400 1542 1639 1536 1873 1226 1442 1512 1592 1511 1708 1198 1373 1505 1457 1614 1466 1619 1414 1609 1467 1544 1526 1592 1590 1633 1300 1542 1429 1478 1381 1540 1399 1509 1660 1530 1330 1541 1471 1594 1324 1533 1540 1462 1390 1477 1464 1655 1524 1451 1623 1498 1491 1590 1496 1495 1354 1518 1381 1459 1464 1501 1583 1603 1658 1583 1308 1500 1436 1586 1539 1436 1424 1468 1498 1471 1581 1617 1545 1568 1523 1516 1420 1487 1378 1490 1395 1537 1441 1562 1431 1649 1497 1570 1612 1622 1560 1490 1550 1518 1321 1512 1479 1560 1447 1600 1577 1629 1643 1553 1358 1563 1402 1600 1566 1531 1417 1436 1459 1559 1517 1551 1348 1535 1521 1512 1593 1574 1482 1556 1463 1664 1546 1562 1420 1587 1606 1526 1437 1570 1575 1636 1406 1468 1451 1427 1563 1513 1511 1450 1436 1433 1425 1476 1440 1575 1411 1523 1440 1602 1482 1632 1412 1479 1339 1518 1407 1489 1582 1500 1545 1522 1403 1463 1634 1580 1453 1519 1566 1626 1504 1580 1555 1478 1642 1545 1370 1533 1354 1493 1548 1504 1442 1636 1422 1461 1554 1442 1426 1602 1597 1613 1352 1521 1536 1449 1403 1618 1503 1435 1519 1576 1415 1602 1561 1596 1580 1556 1428 1509 1505 1642 1492 1527 1394 1527 1461 1610 1496 1468 1482 1443 1540 1508 1563 1562 1442 1460 1379 1504 1615 1633 1647 1514 1484 1485 1471 1566 1426 1646 1636 1545 1491 1648 1384 1497 1422 1636 1605 1593 1591 1578 1418 1484 1625 1561 1458 1535 1437 1609 1496 1595 1441 1651 1508 1587 1547 1591 1395 1596 1887 1373 1358 1528 1611 1555 1505 1468 1387 1462 1430 1585 1538 1484 1408 1463 1565 1619 1418 1487 1504 1520 1448 1541 1584 1589 1472 1582 1295 1540 1570 1498 1591 1495 1398 1450 1653 1574 1473 1635 1435 1452 1533 1519 1348 1489 1527 1469 1400 1621 1589 1634 1397 1570 1424 1469 1476 1447 1369 1519 1671 1454 1393 1477 1526 1494 1520 1496 1381 1527 1575 1531 1412 1522 1540 1575 1631 1559 1611 1588 1531 1526 1590 1532 1349 1512 1515 1460 1468 1472 1483 1474 1469 1442 1442 1473 1626 1486 1483 1554 1474 1591 1390 1442 1575 1506 1447 1425 1357 1538 1549 1600 1524 1580 1469 1488 1600 1610 1447 1474 1459 1646 1370 1518 1540 1473 1494 1436 1455 1514 1624 1531 1637 1528 1428 1462 1520 1528 1585 1612 1650 1510 1424 1645 1600 1496 1581 1623 1535 1577 1525 1520 1392 1576 1584 1497 1407 1541 1518 1436 1410 1471 1403 1461 1582 1592 1514 1497 1492 1642 1348 1471 1461 1435 1647 1600 1440 1641 1334 1525 1481 1508 1518 1602 1431 1586 1416 1457 1592 1563 1438 1605 1412 1501 1342 1549 1445 1632 1423 1419 1620 1504 1356 1490 1554 1527 1455 1523 1401 1576 1536 1591 1545 1441 1466 1458 1490 1446 1542 1570 1899 1189 1634 1489 1343 1535 1599 1478 1438 1627 1546 1628 1391 1528 1437 1463 1461 1539 1574 1580 1538 1618 1625 1617 1543 1542 1459 1632 1524 1423 1581 1544 1535 1575 1600 1487 1387 1517 1488 1531 1569 1606 1540 1626 1479 1578 1657 1575 1427 1475 1624 1516 1489 1483 1616 1540 1439 1584 1633 1521 1522 1605 1500 1532 1355 1472 1427 1631 1419 1499 1418 1640 1357 1521 1498 1563 1418 1529 1615 1481 1373 1508 1634 1559 1670 1369 1575 1550 1495 1499 1767 1051 1591 1576 1409 1556 1445 1427 1557 1565 1562 1504 1557 1642 1453 1452 1435 1491 1606 1532 1535 1550 1379 1464 1422 1499 1612 1563 1541 1565 1401 1610 1519 1515 1365 1465 1468 1500 1499 1434 1436 1579 1533 1568 1418 1455 1337 1547 1824 1150 1653 1097 1526 1463 1616 1607 1551 1586 1423 1640 1525 1625 1398 1579 1520 1458 1434 1434 1547 1554 1515 1526 1367 1516 1477 1594 1423 1521 1626 1553 1414 1448 1514 1456 1563 1548 1460 1428 1515 1563 1411 1526 1358 1511 1398 1532 1411 1461 1617 1618 1380 1525 1429 1561 1444 1652 1374 1473 1500 1423 1441 1421 1613 1605 1512 1562 1362 1458 1474 1567 1548 1505 1439 1472 1580 1583 1566 1519 1593 1514 1595 1498 1526 1562 1491 1463 1410 1561 1581 1584 1565 1606" fill="none" stroke="none" marker-start="url(#m10)" marker-mid="url(#m10)" marker-end="url(#m10)"/>
<text x="1705" y="477" font-family="Liberation Sans" font-weight="bold" font-size="43" text-anchor="middle">1</text>
<text x="1892" y="1065" font-family="Liberation Sans" font-weight="bold" font-size="43" text-anchor="middle">2</text>
<text x="1770" y="2260" font-family="Liberation Sans" font-weight="bold" font-size="43" text-anchor="middle">3</text>
<text x="1733" y="1565" font-family="Liberation Sans" font-weight="bold" font-size="43" text-anchor="middle">4</text>
<text x="893" y="1476" font-family="Liberation Sans" font-weight="bold" font-size="43" text-anchor="middle">5</text>
<text x="2210" y="1390" font-family="Liberation Sans" font-weight="bold" font-size="43" text-anchor="middle">6</text>
<text x="1338" y="1213" font-family="Liberation Sans" font-weight="bold" font-size="43" text-anchor="middle">7</text>
<text x="492" y="1445" font-family="Liberation Sans" font-weight="bold" font-size="43" text-anchor="middle">8</text>
<text x="1812" y="1345" font-family="Liberation Sans" font-weight="bold" font-size="43" text-anchor="middle">9</text>
<text x="1493" y="1599" font-family="Liberation Sans" font-weight="bold" font-size="43" text-anchor="middle">10</text>
<path d="M134 95V2585.5M132 2583H2447" stroke="#000" stroke-width="4" fill="none"/>
<path d="M122.5 113.2H134M122.5 507.2H134M122.5 901.2H134M122.5 1295.1H134M122.5 1689.1H134M122.5 2083.1H134M122.5 2477.0H134M813.2 2583V2594.5M1592.4 2583V2594.5M2371.5 2583V2594.5" stroke="#000" stroke-width="4" fill="none"/>
<text x="113" y="125.2" font-family="Liberation Sans" font-size="34" text-anchor="end">30</text>
<text x="113" y="519.2" font-family="Liberation Sans" font-size="34" text-anchor="end">20</text>
<text x="113" y="913.2" font-family="Liberation Sans" font-size="34" text-anchor="end">10</text>
<text x="113" y="1307.1" font-family="Liberation Sans" font-size="34" text-anchor="end">0</text>
<text x="113" y="1701.1" font-family="Liberation Sans" font-size="34" text-anchor="end">-10</text>
<text x="113" y="2095.1" font-family="Liberation Sans" font-size="34" text-anchor="end">-20</text>
<text x="113" y="2489.0" font-family="Liberation Sans" font-size="34" text-anchor="end">-30</text>
<text x="813.2" y="2629" font-family="Liberation Sans" font-size="34" text-anchor="middle">-20</text>
<text x="1592.4" y="2629" font-family="Liberation Sans" font-size="34" text-anchor="middle">0</text>
<text x="2371.5" y="2629" font-family="Liberation Sans" font-size="34" text-anchor="middle">20</text>
<text x="1198" y="2670" font-family="Liberation Sans" font-size="33">umap-Dim.1</text>
<text transform="translate(47.5 1430) rotate(-90)" x="0" y="0" font-family="Liberation Sans" font-size="33">umap-Dim.2</text>
<text x="1151" y="63" font-family="Liberation Sans" font-size="55">leiden_clus</text>
<rect x="2520.5" y="1013.8" width="57.5" height="5" fill="#EBEBEB"/>
<circle cx="2549.25" cy="1016.25" r="9" fill="#4DAF4A" stroke="#000" stroke-width="1"/>
<text x="2608" y="1031.8" font-family="Liberation Sans" font-size="44">1</text>
<rect x="2520.5" y="1085.8" width="57.5" height="5" fill="#EBEBEB"/>
<circle cx="2549.25" cy="1088.25" r="9" fill="#FF7F00" stroke="#000" stroke-width="1"/>
<text x="2608" y="1103.8" font-family="Liberation Sans" font-size="44">2</text>
<rect x="2520.5" y="1157.8" width="57.5" height="5" fill="#EBEBEB"/>
<circle cx="2549.25" cy="1160.25" r="9" fill="#FFEB6E" stroke="#000" stroke-width="1"/>
<text x="2608" y="1175.8" font-family="Liberation Sans" font-size="44">3</text>
<rect x="2520.5" y="1229.8" width="57.5" height="5" fill="#EBEBEB"/>
<circle cx="2549.25" cy="1232.25" r="9" fill="#D9D9D9" stroke="#000" stroke-width="1"/>
<text x="2608" y="1247.8" font-family="Liberation Sans" font-size="44">4</text>
<rect x="2520.5" y="1301.8" width="57.5" height="5" fill="#EBEBEB"/>
<circle cx="2549.25" cy="1304.25" r="9" fill="#E7298A" stroke="#000" stroke-width="1"/>
<text x="2608" y="1319.8" font-family="Liberation Sans" font-size="44">5</text>
<rect x="2520.5" y="1373.8" width="57.5" height="5" fill="#EBEBEB"/>
<circle cx="2549.25" cy="1376.25" r="9" fill="#377EB8" stroke="#000" stroke-width="1"/>
<text x="2608" y="1391.8" font-family="Liberation Sans" font-size="44">6</text>
<rect x="2520.5" y="1445.8" width="57.5" height="5" fill="#EBEBEB"/>
<circle cx="2549.25" cy="1448.25" r="9" fill="#BC80BD" stroke="#000" stroke-width="1"/>
<text x="2608" y="1463.8" font-family="Liberation Sans" font-size="44">7</text>
<rect x="2520.5" y="1517.8" width="57.5" height="5" fill="#EBEBEB"/>
<circle cx="2549.25" cy="1520.25" r="9" fill="#666666" stroke="#000" stroke-width="1"/>
<text x="2608" y="1535.8" font-family="Liberation Sans" font-size="44">8</text>
<rect x="2520.5" y="1589.8" width="57.5" height="5" fill="#EBEBEB"/>
<circle cx="2549.25" cy="1592.25" r="9" fill="#E41A1C" stroke="#000" stroke-width="1"/>
<text x="2608" y="1607.8" font-family="Liberation Sans" font-size="44">9</text>
<rect x="2520.5" y="1661.8" width="57.5" height="5" fill="#EBEBEB"/>
<circle cx="2549.25" cy="1664.25" r="9" fill="#A65628" stroke="#000" stroke-width="1"/>
<text x="2608" y="1679.8" font-family="Liberation Sans" font-size="44">10</text>
</svg></body></html>
